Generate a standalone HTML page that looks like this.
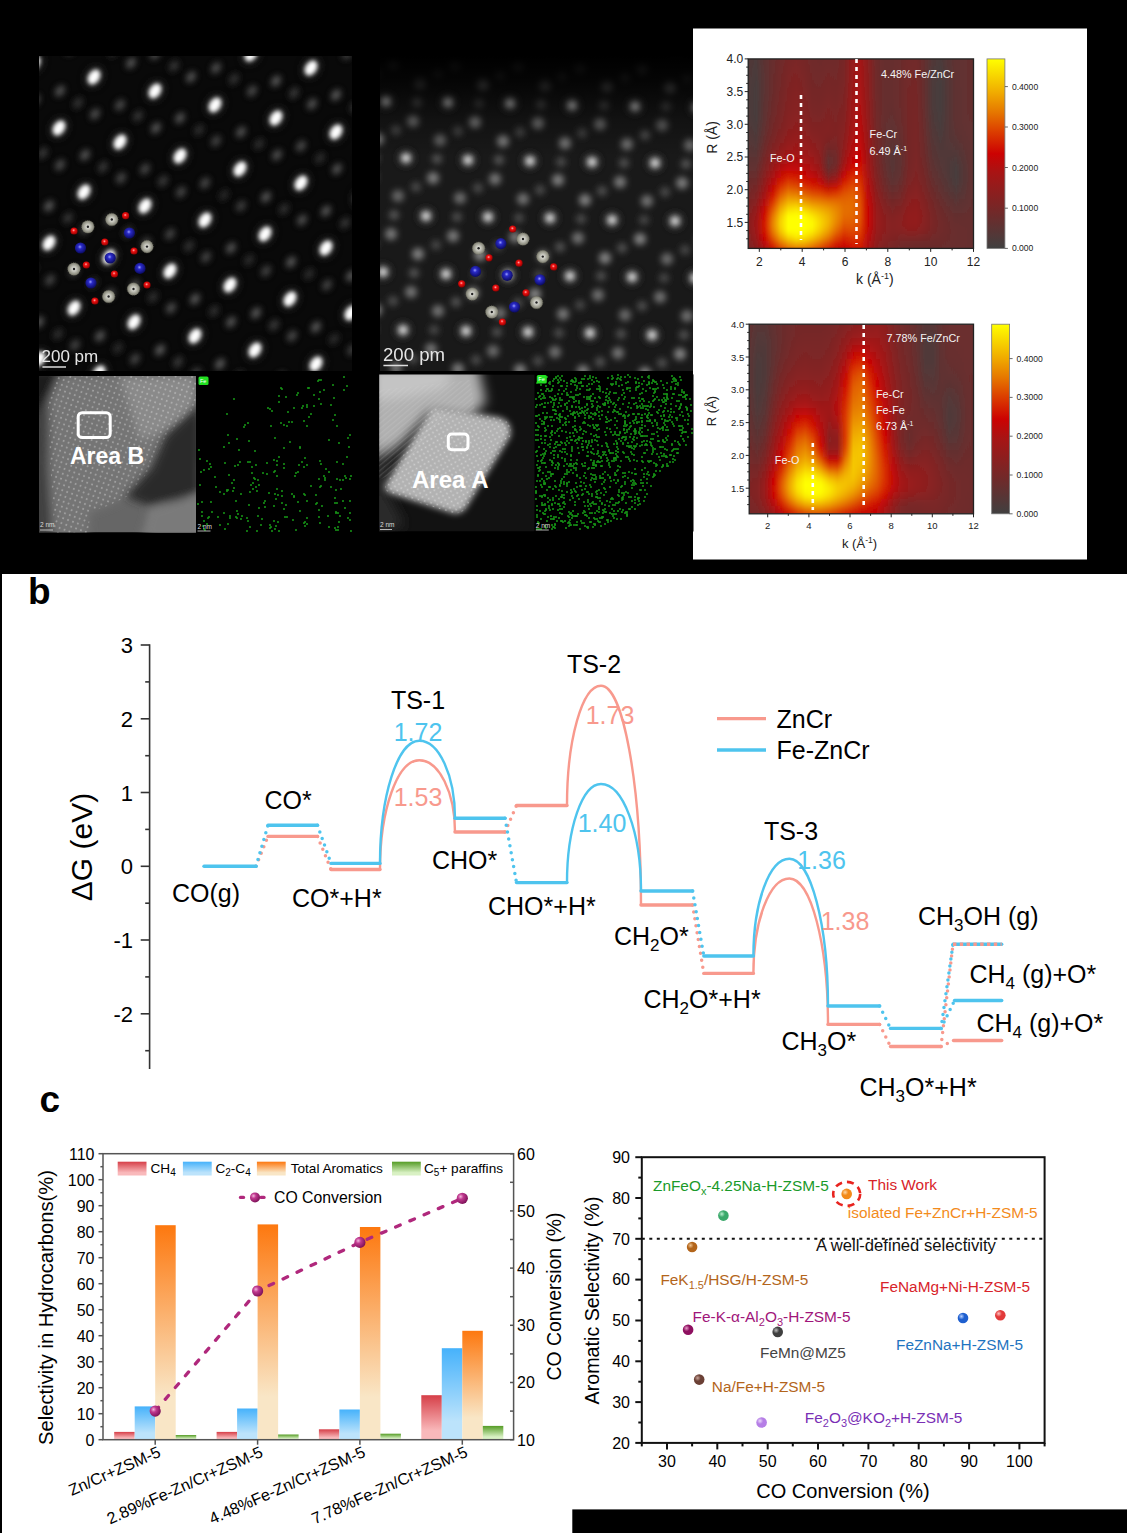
<!DOCTYPE html>
<html><head><meta charset="utf-8"><style>
html,body{margin:0;padding:0;background:#fff;overflow:hidden}
svg{display:block;font-family:'Liberation Sans', sans-serif}
</style></head><body>
<svg width="1127" height="1533" viewBox="0 0 1127 1533">
<rect x="0" y="0" width="1127" height="1533" fill="#fff"/>
<rect x="0" y="0" width="1127" height="574" fill="#000"/>
<rect x="0" y="0" width="2" height="1533" fill="#000"/>
<rect x="572.3" y="1509.4" width="555" height="24" fill="#000"/>
<rect x="693" y="28.5" width="394" height="531" fill="#fff"/>

<line x1="149.6" y1="644.2" x2="149.6" y2="1069" stroke="#333" stroke-width="1.6"/>
<line x1="140.7" y1="645.0" x2="149.6" y2="645.0" stroke="#333" stroke-width="1.6"/>
<text x="133.0" y="653.0" font-size="22" fill="#000" text-anchor="end" font-weight="normal" >3</text>
<line x1="140.7" y1="718.8" x2="149.6" y2="718.8" stroke="#333" stroke-width="1.6"/>
<text x="133.0" y="726.8" font-size="22" fill="#000" text-anchor="end" font-weight="normal" >2</text>
<line x1="140.7" y1="792.5" x2="149.6" y2="792.5" stroke="#333" stroke-width="1.6"/>
<text x="133.0" y="800.5" font-size="22" fill="#000" text-anchor="end" font-weight="normal" >1</text>
<line x1="140.7" y1="866.3" x2="149.6" y2="866.3" stroke="#333" stroke-width="1.6"/>
<text x="133.0" y="874.3" font-size="22" fill="#000" text-anchor="end" font-weight="normal" >0</text>
<line x1="140.7" y1="940.0" x2="149.6" y2="940.0" stroke="#333" stroke-width="1.6"/>
<text x="133.0" y="948.0" font-size="22" fill="#000" text-anchor="end" font-weight="normal" >-1</text>
<line x1="140.7" y1="1013.8" x2="149.6" y2="1013.8" stroke="#333" stroke-width="1.6"/>
<text x="133.0" y="1021.8" font-size="22" fill="#000" text-anchor="end" font-weight="normal" >-2</text>
<line x1="145.2" y1="681.9" x2="149.6" y2="681.9" stroke="#333" stroke-width="1.6"/>
<line x1="145.2" y1="755.7" x2="149.6" y2="755.7" stroke="#333" stroke-width="1.6"/>
<line x1="145.2" y1="829.4" x2="149.6" y2="829.4" stroke="#333" stroke-width="1.6"/>
<line x1="145.2" y1="903.2" x2="149.6" y2="903.2" stroke="#333" stroke-width="1.6"/>
<line x1="145.2" y1="976.9" x2="149.6" y2="976.9" stroke="#333" stroke-width="1.6"/>
<line x1="145.2" y1="1050.7" x2="149.6" y2="1050.7" stroke="#333" stroke-width="1.6"/>
<text x="0.0" y="0.0" font-size="30" fill="#000" text-anchor="middle" font-weight="normal" transform="translate(91.8 847) rotate(-90)">ΔG (eV)</text>
<text x="28.0" y="604.0" font-size="37" fill="#000" text-anchor="start" font-weight="bold" >b</text>
<defs><linearGradient id="g_ch4" x1="0" y1="0" x2="0" y2="1"><stop offset="0" stop-color="#d63f48"/><stop offset="0.8" stop-color="#f9b9bb"/><stop offset="1" stop-color="#f9b9bb"/></linearGradient><linearGradient id="g_c2" x1="0" y1="0" x2="0" y2="1"><stop offset="0" stop-color="#46b2fb"/><stop offset="0.8" stop-color="#bce3fb"/><stop offset="1" stop-color="#bce3fb"/></linearGradient><linearGradient id="g_ar" x1="0" y1="0" x2="0" y2="1"><stop offset="0" stop-color="#fd780f"/><stop offset="0.8" stop-color="#f9e6c6"/><stop offset="1" stop-color="#f9e6c6"/></linearGradient><linearGradient id="g_c5" x1="0" y1="0" x2="0" y2="1"><stop offset="0" stop-color="#559c25"/><stop offset="0.8" stop-color="#d9f1c4"/><stop offset="1" stop-color="#d9f1c4"/></linearGradient><radialGradient id="g_ball" cx="0.35" cy="0.35" r="0.7"><stop offset="0" stop-color="#f3b6dc"/><stop offset="0.35" stop-color="#c0398f"/><stop offset="1" stop-color="#7a0f55"/></radialGradient></defs>
<rect x="114.2" y="1431.9" width="20.5" height="7.8" fill="url(#g_ch4)"/>
<rect x="134.7" y="1406.4" width="20.5" height="33.3" fill="url(#g_c2)"/>
<rect x="155.2" y="1225.2" width="20.5" height="214.5" fill="url(#g_ar)"/>
<rect x="175.7" y="1435.0" width="20.5" height="4.7" fill="url(#g_c5)"/>
<rect x="216.6" y="1431.9" width="20.5" height="7.8" fill="url(#g_ch4)"/>
<rect x="237.1" y="1408.5" width="20.5" height="31.2" fill="url(#g_c2)"/>
<rect x="257.6" y="1224.4" width="20.5" height="215.3" fill="url(#g_ar)"/>
<rect x="278.1" y="1434.5" width="20.5" height="5.2" fill="url(#g_c5)"/>
<rect x="318.9" y="1429.3" width="20.5" height="10.4" fill="url(#g_ch4)"/>
<rect x="339.4" y="1409.5" width="20.5" height="30.2" fill="url(#g_c2)"/>
<rect x="359.9" y="1227.0" width="20.5" height="212.7" fill="url(#g_ar)"/>
<rect x="380.4" y="1433.7" width="20.5" height="6.0" fill="url(#g_c5)"/>
<rect x="421.3" y="1395.2" width="20.5" height="44.5" fill="url(#g_ch4)"/>
<rect x="441.8" y="1348.2" width="20.5" height="91.5" fill="url(#g_c2)"/>
<rect x="462.3" y="1330.8" width="20.5" height="108.9" fill="url(#g_ar)"/>
<rect x="482.8" y="1425.9" width="20.5" height="13.8" fill="url(#g_c5)"/>
<rect x="103.0" y="1153.7" width="410.6" height="286.0" stroke="#555" stroke-width="1.5" fill="none"/>
<line x1="98.5" y1="1439.7" x2="103.0" y2="1439.7" stroke="#555" stroke-width="1.5" fill="none"/>
<text x="94.5" y="1445.5" font-size="16" fill="#000" text-anchor="end" font-weight="normal" >0</text>
<line x1="100.4" y1="1426.7" x2="103.0" y2="1426.7" stroke="#555" stroke-width="1.5" fill="none"/>
<line x1="98.5" y1="1413.7" x2="103.0" y2="1413.7" stroke="#555" stroke-width="1.5" fill="none"/>
<text x="94.5" y="1419.5" font-size="16" fill="#000" text-anchor="end" font-weight="normal" >10</text>
<line x1="100.4" y1="1400.7" x2="103.0" y2="1400.7" stroke="#555" stroke-width="1.5" fill="none"/>
<line x1="98.5" y1="1387.7" x2="103.0" y2="1387.7" stroke="#555" stroke-width="1.5" fill="none"/>
<text x="94.5" y="1393.5" font-size="16" fill="#000" text-anchor="end" font-weight="normal" >20</text>
<line x1="100.4" y1="1374.7" x2="103.0" y2="1374.7" stroke="#555" stroke-width="1.5" fill="none"/>
<line x1="98.5" y1="1361.7" x2="103.0" y2="1361.7" stroke="#555" stroke-width="1.5" fill="none"/>
<text x="94.5" y="1367.5" font-size="16" fill="#000" text-anchor="end" font-weight="normal" >30</text>
<line x1="100.4" y1="1348.7" x2="103.0" y2="1348.7" stroke="#555" stroke-width="1.5" fill="none"/>
<line x1="98.5" y1="1335.7" x2="103.0" y2="1335.7" stroke="#555" stroke-width="1.5" fill="none"/>
<text x="94.5" y="1341.5" font-size="16" fill="#000" text-anchor="end" font-weight="normal" >40</text>
<line x1="100.4" y1="1322.7" x2="103.0" y2="1322.7" stroke="#555" stroke-width="1.5" fill="none"/>
<line x1="98.5" y1="1309.7" x2="103.0" y2="1309.7" stroke="#555" stroke-width="1.5" fill="none"/>
<text x="94.5" y="1315.5" font-size="16" fill="#000" text-anchor="end" font-weight="normal" >50</text>
<line x1="100.4" y1="1296.7" x2="103.0" y2="1296.7" stroke="#555" stroke-width="1.5" fill="none"/>
<line x1="98.5" y1="1283.7" x2="103.0" y2="1283.7" stroke="#555" stroke-width="1.5" fill="none"/>
<text x="94.5" y="1289.5" font-size="16" fill="#000" text-anchor="end" font-weight="normal" >60</text>
<line x1="100.4" y1="1270.7" x2="103.0" y2="1270.7" stroke="#555" stroke-width="1.5" fill="none"/>
<line x1="98.5" y1="1257.7" x2="103.0" y2="1257.7" stroke="#555" stroke-width="1.5" fill="none"/>
<text x="94.5" y="1263.5" font-size="16" fill="#000" text-anchor="end" font-weight="normal" >70</text>
<line x1="100.4" y1="1244.7" x2="103.0" y2="1244.7" stroke="#555" stroke-width="1.5" fill="none"/>
<line x1="98.5" y1="1231.7" x2="103.0" y2="1231.7" stroke="#555" stroke-width="1.5" fill="none"/>
<text x="94.5" y="1237.5" font-size="16" fill="#000" text-anchor="end" font-weight="normal" >80</text>
<line x1="100.4" y1="1218.7" x2="103.0" y2="1218.7" stroke="#555" stroke-width="1.5" fill="none"/>
<line x1="98.5" y1="1205.7" x2="103.0" y2="1205.7" stroke="#555" stroke-width="1.5" fill="none"/>
<text x="94.5" y="1211.5" font-size="16" fill="#000" text-anchor="end" font-weight="normal" >90</text>
<line x1="100.4" y1="1192.7" x2="103.0" y2="1192.7" stroke="#555" stroke-width="1.5" fill="none"/>
<line x1="98.5" y1="1179.7" x2="103.0" y2="1179.7" stroke="#555" stroke-width="1.5" fill="none"/>
<text x="94.5" y="1185.5" font-size="16" fill="#000" text-anchor="end" font-weight="normal" >100</text>
<line x1="100.4" y1="1166.7" x2="103.0" y2="1166.7" stroke="#555" stroke-width="1.5" fill="none"/>
<line x1="98.5" y1="1153.7" x2="103.0" y2="1153.7" stroke="#555" stroke-width="1.5" fill="none"/>
<text x="94.5" y="1159.5" font-size="16" fill="#000" text-anchor="end" font-weight="normal" >110</text>
<line x1="510.0" y1="1439.7" x2="513.6" y2="1439.7" stroke="#555" stroke-width="1.5" fill="none"/>
<text x="517.0" y="1445.5" font-size="16" fill="#000" text-anchor="start" font-weight="normal" >10</text>
<line x1="510.0" y1="1411.1" x2="513.6" y2="1411.1" stroke="#555" stroke-width="1.5" fill="none"/>
<line x1="510.0" y1="1382.5" x2="513.6" y2="1382.5" stroke="#555" stroke-width="1.5" fill="none"/>
<text x="517.0" y="1388.3" font-size="16" fill="#000" text-anchor="start" font-weight="normal" >20</text>
<line x1="510.0" y1="1353.9" x2="513.6" y2="1353.9" stroke="#555" stroke-width="1.5" fill="none"/>
<line x1="510.0" y1="1325.3" x2="513.6" y2="1325.3" stroke="#555" stroke-width="1.5" fill="none"/>
<text x="517.0" y="1331.1" font-size="16" fill="#000" text-anchor="start" font-weight="normal" >30</text>
<line x1="510.0" y1="1296.7" x2="513.6" y2="1296.7" stroke="#555" stroke-width="1.5" fill="none"/>
<line x1="510.0" y1="1268.1" x2="513.6" y2="1268.1" stroke="#555" stroke-width="1.5" fill="none"/>
<text x="517.0" y="1273.9" font-size="16" fill="#000" text-anchor="start" font-weight="normal" >40</text>
<line x1="510.0" y1="1239.5" x2="513.6" y2="1239.5" stroke="#555" stroke-width="1.5" fill="none"/>
<line x1="510.0" y1="1210.9" x2="513.6" y2="1210.9" stroke="#555" stroke-width="1.5" fill="none"/>
<text x="517.0" y="1216.7" font-size="16" fill="#000" text-anchor="start" font-weight="normal" >50</text>
<line x1="510.0" y1="1182.3" x2="513.6" y2="1182.3" stroke="#555" stroke-width="1.5" fill="none"/>
<line x1="510.0" y1="1153.7" x2="513.6" y2="1153.7" stroke="#555" stroke-width="1.5" fill="none"/>
<text x="517.0" y="1159.5" font-size="16" fill="#000" text-anchor="start" font-weight="normal" >60</text>
<line x1="155.2" y1="1439.7" x2="155.2" y2="1444.7" stroke="#555" stroke-width="1.5" fill="none"/>
<line x1="257.6" y1="1439.7" x2="257.6" y2="1444.7" stroke="#555" stroke-width="1.5" fill="none"/>
<line x1="359.9" y1="1439.7" x2="359.9" y2="1444.7" stroke="#555" stroke-width="1.5" fill="none"/>
<line x1="462.3" y1="1439.7" x2="462.3" y2="1444.7" stroke="#555" stroke-width="1.5" fill="none"/>
<path d="M155.2,1411.1 L257.6,1291.0 L359.9,1242.4 L462.3,1198.3" stroke="#b0287c" stroke-width="3.3" fill="none" stroke-dasharray="5 10.5" stroke-linecap="round"/>
<circle cx="155.2" cy="1411.1" r="5.6" fill="url(#g_ball)"/>
<circle cx="257.6" cy="1291.0" r="5.6" fill="url(#g_ball)"/>
<circle cx="359.9" cy="1242.4" r="5.6" fill="url(#g_ball)"/>
<circle cx="462.3" cy="1198.3" r="5.6" fill="url(#g_ball)"/>
<rect x="117.7" y="1161.7" width="28.8" height="13.8" fill="url(#g_ch4)"/>
<rect x="182.9" y="1161.7" width="28.8" height="13.8" fill="url(#g_c2)"/>
<rect x="256.9" y="1161.7" width="28.8" height="13.8" fill="url(#g_ar)"/>
<rect x="392" y="1161.7" width="28.8" height="13.8" fill="url(#g_c5)"/>
<text x="150.5" y="1172.8" font-size="13.6" fill="#000" text-anchor="start" font-weight="normal" >CH<tspan font-size="10" dy="3">4</tspan></text>
<text x="215.4" y="1172.8" font-size="13.6" fill="#000" text-anchor="start" font-weight="normal" >C<tspan font-size="10" dy="3">2</tspan><tspan dy="-3">-C</tspan><tspan font-size="10" dy="3">4</tspan></text>
<text x="290.7" y="1172.8" font-size="13.6" fill="#000" text-anchor="start" font-weight="normal" >Total Aromatics</text>
<text x="424.0" y="1172.8" font-size="13.6" fill="#000" text-anchor="start" font-weight="normal" >C<tspan font-size="10" dy="3">5</tspan><tspan dy="-3">+ paraffins</tspan></text>
<line x1="240.5" y1="1197.4" x2="243.5" y2="1197.4" stroke="#b0287c" stroke-width="3.3" stroke-linecap="round"/>
<line x1="261" y1="1197.4" x2="264" y2="1197.4" stroke="#b0287c" stroke-width="3.3" stroke-linecap="round"/>
<circle cx="255" cy="1197.4" r="5" fill="url(#g_ball)"/>
<text x="274.0" y="1202.5" font-size="15.8" fill="#000" text-anchor="start" font-weight="normal" >CO Conversion</text>
<text x="0.0" y="0.0" font-size="16.2" fill="#000" text-anchor="end" font-weight="normal" transform="translate(161.7 1456) rotate(-24)">Zn/Cr+ZSM-5</text>
<text x="0.0" y="0.0" font-size="16.2" fill="#000" text-anchor="end" font-weight="normal" transform="translate(264.1 1456) rotate(-24)">2.89%Fe-Zn/Cr+ZSM-5</text>
<text x="0.0" y="0.0" font-size="16.2" fill="#000" text-anchor="end" font-weight="normal" transform="translate(366.4 1456) rotate(-24)">4.48%Fe-Zn/Cr+ZSM-5</text>
<text x="0.0" y="0.0" font-size="16.2" fill="#000" text-anchor="end" font-weight="normal" transform="translate(468.8 1456) rotate(-24)">7.78%Fe-Zn/Cr+ZSM-5</text>
<text x="0.0" y="0.0" font-size="20.2" fill="#000" text-anchor="middle" font-weight="normal" transform="translate(53 1307.5) rotate(-90)">Selectivity in Hydrocarbons(%)</text>
<text x="0.0" y="0.0" font-size="19.4" fill="#000" text-anchor="middle" font-weight="normal" transform="translate(560.5 1296.5) rotate(-90)">CO Conversion (%)</text>
<text x="39.5" y="1112.0" font-size="37" fill="#000" text-anchor="start" font-weight="bold" >c</text>
<rect x="641.8" y="1157.2" width="402.79999999999995" height="285.70000000000005" stroke="#111" stroke-width="2" fill="none"/>
<line x1="635.3" y1="1442.9" x2="641.8" y2="1442.9" stroke="#111" stroke-width="2" fill="none"/>
<text x="630.0" y="1448.7" font-size="16" fill="#000" text-anchor="end" font-weight="normal" >20</text>
<line x1="638.3" y1="1422.5" x2="641.8" y2="1422.5" stroke="#111" stroke-width="2" fill="none"/>
<line x1="635.3" y1="1402.1" x2="641.8" y2="1402.1" stroke="#111" stroke-width="2" fill="none"/>
<text x="630.0" y="1407.9" font-size="16" fill="#000" text-anchor="end" font-weight="normal" >30</text>
<line x1="638.3" y1="1381.7" x2="641.8" y2="1381.7" stroke="#111" stroke-width="2" fill="none"/>
<line x1="635.3" y1="1361.3" x2="641.8" y2="1361.3" stroke="#111" stroke-width="2" fill="none"/>
<text x="630.0" y="1367.1" font-size="16" fill="#000" text-anchor="end" font-weight="normal" >40</text>
<line x1="638.3" y1="1340.9" x2="641.8" y2="1340.9" stroke="#111" stroke-width="2" fill="none"/>
<line x1="635.3" y1="1320.5" x2="641.8" y2="1320.5" stroke="#111" stroke-width="2" fill="none"/>
<text x="630.0" y="1326.3" font-size="16" fill="#000" text-anchor="end" font-weight="normal" >50</text>
<line x1="638.3" y1="1300.1" x2="641.8" y2="1300.1" stroke="#111" stroke-width="2" fill="none"/>
<line x1="635.3" y1="1279.6" x2="641.8" y2="1279.6" stroke="#111" stroke-width="2" fill="none"/>
<text x="630.0" y="1285.4" font-size="16" fill="#000" text-anchor="end" font-weight="normal" >60</text>
<line x1="638.3" y1="1259.2" x2="641.8" y2="1259.2" stroke="#111" stroke-width="2" fill="none"/>
<line x1="635.3" y1="1238.8" x2="641.8" y2="1238.8" stroke="#111" stroke-width="2" fill="none"/>
<text x="630.0" y="1244.6" font-size="16" fill="#000" text-anchor="end" font-weight="normal" >70</text>
<line x1="638.3" y1="1218.4" x2="641.8" y2="1218.4" stroke="#111" stroke-width="2" fill="none"/>
<line x1="635.3" y1="1198.0" x2="641.8" y2="1198.0" stroke="#111" stroke-width="2" fill="none"/>
<text x="630.0" y="1203.8" font-size="16" fill="#000" text-anchor="end" font-weight="normal" >80</text>
<line x1="638.3" y1="1177.6" x2="641.8" y2="1177.6" stroke="#111" stroke-width="2" fill="none"/>
<line x1="635.3" y1="1157.2" x2="641.8" y2="1157.2" stroke="#111" stroke-width="2" fill="none"/>
<text x="630.0" y="1163.0" font-size="16" fill="#000" text-anchor="end" font-weight="normal" >90</text>
<line x1="641.8" y1="1442.9" x2="641.8" y2="1446.4" stroke="#111" stroke-width="2" fill="none"/>
<line x1="667.0" y1="1442.9" x2="667.0" y2="1449.4" stroke="#111" stroke-width="2" fill="none"/>
<text x="667.0" y="1466.8" font-size="16" fill="#000" text-anchor="middle" font-weight="normal" >30</text>
<line x1="692.1" y1="1442.9" x2="692.1" y2="1446.4" stroke="#111" stroke-width="2" fill="none"/>
<line x1="717.3" y1="1442.9" x2="717.3" y2="1449.4" stroke="#111" stroke-width="2" fill="none"/>
<text x="717.3" y="1466.8" font-size="16" fill="#000" text-anchor="middle" font-weight="normal" >40</text>
<line x1="742.5" y1="1442.9" x2="742.5" y2="1446.4" stroke="#111" stroke-width="2" fill="none"/>
<line x1="767.7" y1="1442.9" x2="767.7" y2="1449.4" stroke="#111" stroke-width="2" fill="none"/>
<text x="767.7" y="1466.8" font-size="16" fill="#000" text-anchor="middle" font-weight="normal" >50</text>
<line x1="792.8" y1="1442.9" x2="792.8" y2="1446.4" stroke="#111" stroke-width="2" fill="none"/>
<line x1="818.0" y1="1442.9" x2="818.0" y2="1449.4" stroke="#111" stroke-width="2" fill="none"/>
<text x="818.0" y="1466.8" font-size="16" fill="#000" text-anchor="middle" font-weight="normal" >60</text>
<line x1="843.2" y1="1442.9" x2="843.2" y2="1446.4" stroke="#111" stroke-width="2" fill="none"/>
<line x1="868.4" y1="1442.9" x2="868.4" y2="1449.4" stroke="#111" stroke-width="2" fill="none"/>
<text x="868.4" y="1466.8" font-size="16" fill="#000" text-anchor="middle" font-weight="normal" >70</text>
<line x1="893.5" y1="1442.9" x2="893.5" y2="1446.4" stroke="#111" stroke-width="2" fill="none"/>
<line x1="918.7" y1="1442.9" x2="918.7" y2="1449.4" stroke="#111" stroke-width="2" fill="none"/>
<text x="918.7" y="1466.8" font-size="16" fill="#000" text-anchor="middle" font-weight="normal" >80</text>
<line x1="943.9" y1="1442.9" x2="943.9" y2="1446.4" stroke="#111" stroke-width="2" fill="none"/>
<line x1="969.1" y1="1442.9" x2="969.1" y2="1449.4" stroke="#111" stroke-width="2" fill="none"/>
<text x="969.1" y="1466.8" font-size="16" fill="#000" text-anchor="middle" font-weight="normal" >90</text>
<line x1="994.2" y1="1442.9" x2="994.2" y2="1446.4" stroke="#111" stroke-width="2" fill="none"/>
<line x1="1019.4" y1="1442.9" x2="1019.4" y2="1449.4" stroke="#111" stroke-width="2" fill="none"/>
<text x="1019.4" y="1466.8" font-size="16" fill="#000" text-anchor="middle" font-weight="normal" >100</text>
<line x1="1044.6" y1="1442.9" x2="1044.6" y2="1446.4" stroke="#111" stroke-width="2" fill="none"/>
<line x1="641.8" y1="1238.8" x2="1044.6" y2="1238.8" stroke="#111" stroke-width="2" stroke-dasharray="3 4.5"/>
<defs><radialGradient id="b0" cx="0.35" cy="0.35" r="0.75"><stop offset="0" stop-color="#b9f0cf"/><stop offset="0.4" stop-color="#3aa86a"/><stop offset="1" stop-color="#3aa86a"/></radialGradient><radialGradient id="b1" cx="0.35" cy="0.35" r="0.75"><stop offset="0" stop-color="#ffd9a8"/><stop offset="0.4" stop-color="#f28a1a"/><stop offset="1" stop-color="#f28a1a"/></radialGradient><radialGradient id="b2" cx="0.35" cy="0.35" r="0.75"><stop offset="0" stop-color="#f0c48f"/><stop offset="0.4" stop-color="#b3651b"/><stop offset="1" stop-color="#b3651b"/></radialGradient><radialGradient id="b3" cx="0.35" cy="0.35" r="0.75"><stop offset="0" stop-color="#bdbdbd"/><stop offset="0.4" stop-color="#404040"/><stop offset="1" stop-color="#404040"/></radialGradient><radialGradient id="b4" cx="0.35" cy="0.35" r="0.75"><stop offset="0" stop-color="#e89ac8"/><stop offset="0.4" stop-color="#8e1060"/><stop offset="1" stop-color="#8e1060"/></radialGradient><radialGradient id="b5" cx="0.35" cy="0.35" r="0.75"><stop offset="0" stop-color="#c9a59b"/><stop offset="0.4" stop-color="#6b4035"/><stop offset="1" stop-color="#6b4035"/></radialGradient><radialGradient id="b6" cx="0.35" cy="0.35" r="0.75"><stop offset="0" stop-color="#ecd9fb"/><stop offset="0.4" stop-color="#b57ee6"/><stop offset="1" stop-color="#b57ee6"/></radialGradient><radialGradient id="b7" cx="0.35" cy="0.35" r="0.75"><stop offset="0" stop-color="#b7d1ff"/><stop offset="0.4" stop-color="#1e5fcf"/><stop offset="1" stop-color="#1e5fcf"/></radialGradient><radialGradient id="b8" cx="0.35" cy="0.35" r="0.75"><stop offset="0" stop-color="#ffc0c0"/><stop offset="0.4" stop-color="#e23a3a"/><stop offset="1" stop-color="#e23a3a"/></radialGradient></defs>
<circle cx="723.4" cy="1215.6" r="5.3" fill="url(#b0)"/>
<circle cx="846.7" cy="1193.9" r="5.3" fill="url(#b1)"/>
<circle cx="692.1" cy="1247.0" r="5.3" fill="url(#b2)"/>
<circle cx="777.7" cy="1331.9" r="5.3" fill="url(#b3)"/>
<circle cx="688.1" cy="1329.8" r="5.3" fill="url(#b4)"/>
<circle cx="699.2" cy="1379.6" r="5.3" fill="url(#b5)"/>
<circle cx="761.6" cy="1422.5" r="5.3" fill="url(#b6)"/>
<circle cx="963.0" cy="1318.0" r="5.3" fill="url(#b7)"/>
<circle cx="1000.3" cy="1315.2" r="5.3" fill="url(#b8)"/>
<ellipse cx="846.7" cy="1193.9" rx="13.5" ry="12" stroke="#e8231f" stroke-width="2.6" fill="none" stroke-dasharray="7 5"/>
<text x="653.0" y="1191.3" font-size="15.4" fill="#1a9a2a" text-anchor="start" font-weight="normal" >ZnFeO<tspan font-size="11" dy="4">x</tspan><tspan dy="-4">-4.25Na-H-ZSM-5</tspan></text>
<text x="868.0" y="1190.0" font-size="15.4" fill="#d8232a" text-anchor="start" font-weight="normal" >This Work</text>
<text x="847.8" y="1218.0" font-size="15.4" fill="#f38b1c" text-anchor="start" font-weight="normal" >isolated Fe+ZnCr+H-ZSM-5</text>
<text x="816.0" y="1250.5" font-size="16.6" fill="#111" text-anchor="start" font-weight="normal" >A well-defined selectivity</text>
<text x="660.4" y="1285.3" font-size="15.4" fill="#b3651b" text-anchor="start" font-weight="normal" >FeK<tspan font-size="11" dy="4">1.5</tspan><tspan dy="-4">/HSG/H-ZSM-5</tspan></text>
<text x="880.0" y="1292.2" font-size="15.4" fill="#d8232a" text-anchor="start" font-weight="normal" >FeNaMg+Ni-H-ZSM-5</text>
<text x="692.6" y="1321.8" font-size="15.4" fill="#a0157a" text-anchor="start" font-weight="normal" >Fe-K-α-Al<tspan font-size="11" dy="4">2</tspan><tspan dy="-4">O</tspan><tspan font-size="11" dy="4">3</tspan><tspan dy="-4">-H-ZSM-5</tspan></text>
<text x="760.0" y="1357.9" font-size="15.4" fill="#444" text-anchor="start" font-weight="normal" >FeMn@MZ5</text>
<text x="896.0" y="1349.5" font-size="15.4" fill="#1f74c0" text-anchor="start" font-weight="normal" >FeZnNa+H-ZSM-5</text>
<text x="711.8" y="1391.5" font-size="15.4" fill="#b3651b" text-anchor="start" font-weight="normal" >Na/Fe+H-ZSM-5</text>
<text x="804.8" y="1423.0" font-size="15.4" fill="#7a2fb5" text-anchor="start" font-weight="normal" >Fe<tspan font-size="11" dy="4">2</tspan><tspan dy="-4">O</tspan><tspan font-size="11" dy="4">3</tspan><tspan dy="-4">@KO</tspan><tspan font-size="11" dy="4">2</tspan><tspan dy="-4">+H-ZSM-5</tspan></text>
<text x="0.0" y="0.0" font-size="19.7" fill="#000" text-anchor="middle" font-weight="normal" transform="translate(598.5 1300.5) rotate(-90)">Aromatic Selectivity (%)</text>
<text x="843.0" y="1498.0" font-size="20" fill="#000" text-anchor="middle" font-weight="normal" >CO Conversion (%)</text>
<filter id="hblur" x="-5%" y="-5%" width="110%" height="110%"><feGaussianBlur stdDeviation="0 3"/></filter>
<clipPath id="clip1"><rect x="748.2" y="58.9" width="225.3" height="189.5"/></clipPath>
<defs><linearGradient id="h1_0" gradientUnits="userSpaceOnUse" x1="732.2" y1="0" x2="996.2" y2="0"><stop offset="0.000" stop-color="#643030"/><stop offset="0.030" stop-color="#603131"/><stop offset="0.061" stop-color="#543737"/><stop offset="0.091" stop-color="#4f3939"/><stop offset="0.121" stop-color="#5c3333"/><stop offset="0.152" stop-color="#672e2e"/><stop offset="0.182" stop-color="#6d2b2b"/><stop offset="0.212" stop-color="#742828"/><stop offset="0.242" stop-color="#772727"/><stop offset="0.273" stop-color="#742828"/><stop offset="0.303" stop-color="#6e2b2b"/><stop offset="0.333" stop-color="#6c2c2c"/><stop offset="0.364" stop-color="#6d2b2b"/><stop offset="0.394" stop-color="#6d2b2b"/><stop offset="0.424" stop-color="#762727"/><stop offset="0.455" stop-color="#931c1c"/><stop offset="0.485" stop-color="#a11717"/><stop offset="0.515" stop-color="#882020"/><stop offset="0.545" stop-color="#6e2b2b"/><stop offset="0.576" stop-color="#652f2f"/><stop offset="0.606" stop-color="#652f2f"/><stop offset="0.636" stop-color="#692d2d"/><stop offset="0.667" stop-color="#6f2a2a"/><stop offset="0.697" stop-color="#702a2a"/><stop offset="0.727" stop-color="#652f2f"/><stop offset="0.758" stop-color="#543737"/><stop offset="0.788" stop-color="#4f3939"/><stop offset="0.818" stop-color="#583535"/><stop offset="0.848" stop-color="#613131"/><stop offset="0.879" stop-color="#643030"/><stop offset="0.909" stop-color="#642f2f"/><stop offset="0.939" stop-color="#642f2f"/><stop offset="0.970" stop-color="#642f2f"/><stop offset="1.000" stop-color="#642f2f"/></linearGradient><linearGradient id="h1_1" gradientUnits="userSpaceOnUse" x1="732.2" y1="0" x2="996.2" y2="0"><stop offset="0.000" stop-color="#643030"/><stop offset="0.030" stop-color="#603131"/><stop offset="0.061" stop-color="#523838"/><stop offset="0.091" stop-color="#4d3a3a"/><stop offset="0.121" stop-color="#5c3333"/><stop offset="0.152" stop-color="#672e2e"/><stop offset="0.182" stop-color="#6e2b2b"/><stop offset="0.212" stop-color="#762727"/><stop offset="0.242" stop-color="#792626"/><stop offset="0.273" stop-color="#752727"/><stop offset="0.303" stop-color="#6f2a2a"/><stop offset="0.333" stop-color="#6d2b2b"/><stop offset="0.364" stop-color="#6f2a2a"/><stop offset="0.394" stop-color="#6e2b2b"/><stop offset="0.424" stop-color="#772727"/><stop offset="0.455" stop-color="#941c1c"/><stop offset="0.485" stop-color="#a31616"/><stop offset="0.515" stop-color="#892020"/><stop offset="0.545" stop-color="#6e2b2b"/><stop offset="0.576" stop-color="#662f2f"/><stop offset="0.606" stop-color="#662f2f"/><stop offset="0.636" stop-color="#6a2d2d"/><stop offset="0.667" stop-color="#702a2a"/><stop offset="0.697" stop-color="#712929"/><stop offset="0.727" stop-color="#652f2f"/><stop offset="0.758" stop-color="#523838"/><stop offset="0.788" stop-color="#4d3a3a"/><stop offset="0.818" stop-color="#573535"/><stop offset="0.848" stop-color="#603131"/><stop offset="0.879" stop-color="#633030"/><stop offset="0.909" stop-color="#642f2f"/><stop offset="0.939" stop-color="#642f2f"/><stop offset="0.970" stop-color="#642f2f"/><stop offset="1.000" stop-color="#642f2f"/></linearGradient><linearGradient id="h1_2" gradientUnits="userSpaceOnUse" x1="732.2" y1="0" x2="996.2" y2="0"><stop offset="0.000" stop-color="#643030"/><stop offset="0.030" stop-color="#5f3131"/><stop offset="0.061" stop-color="#513838"/><stop offset="0.091" stop-color="#4c3a3a"/><stop offset="0.121" stop-color="#5b3333"/><stop offset="0.152" stop-color="#672e2e"/><stop offset="0.182" stop-color="#6f2a2a"/><stop offset="0.212" stop-color="#772727"/><stop offset="0.242" stop-color="#7b2525"/><stop offset="0.273" stop-color="#772727"/><stop offset="0.303" stop-color="#702a2a"/><stop offset="0.333" stop-color="#6e2b2b"/><stop offset="0.364" stop-color="#702a2a"/><stop offset="0.394" stop-color="#702a2a"/><stop offset="0.424" stop-color="#782626"/><stop offset="0.455" stop-color="#951b1b"/><stop offset="0.485" stop-color="#a41616"/><stop offset="0.515" stop-color="#8a2020"/><stop offset="0.545" stop-color="#6e2b2b"/><stop offset="0.576" stop-color="#662f2f"/><stop offset="0.606" stop-color="#662f2f"/><stop offset="0.636" stop-color="#6a2d2d"/><stop offset="0.667" stop-color="#712a2a"/><stop offset="0.697" stop-color="#722929"/><stop offset="0.727" stop-color="#652f2f"/><stop offset="0.758" stop-color="#513838"/><stop offset="0.788" stop-color="#4b3b3b"/><stop offset="0.818" stop-color="#563636"/><stop offset="0.848" stop-color="#603131"/><stop offset="0.879" stop-color="#633030"/><stop offset="0.909" stop-color="#642f2f"/><stop offset="0.939" stop-color="#642f2f"/><stop offset="0.970" stop-color="#642f2f"/><stop offset="1.000" stop-color="#642f2f"/></linearGradient><linearGradient id="h1_3" gradientUnits="userSpaceOnUse" x1="732.2" y1="0" x2="996.2" y2="0"><stop offset="0.000" stop-color="#642f2f"/><stop offset="0.030" stop-color="#5f3232"/><stop offset="0.061" stop-color="#503838"/><stop offset="0.091" stop-color="#4b3b3b"/><stop offset="0.121" stop-color="#5b3333"/><stop offset="0.152" stop-color="#682e2e"/><stop offset="0.182" stop-color="#702a2a"/><stop offset="0.212" stop-color="#792626"/><stop offset="0.242" stop-color="#7d2525"/><stop offset="0.273" stop-color="#782626"/><stop offset="0.303" stop-color="#712929"/><stop offset="0.333" stop-color="#6f2a2a"/><stop offset="0.364" stop-color="#722929"/><stop offset="0.394" stop-color="#712929"/><stop offset="0.424" stop-color="#792626"/><stop offset="0.455" stop-color="#961b1b"/><stop offset="0.485" stop-color="#a51515"/><stop offset="0.515" stop-color="#8b1f1f"/><stop offset="0.545" stop-color="#6f2a2a"/><stop offset="0.576" stop-color="#662f2f"/><stop offset="0.606" stop-color="#662f2f"/><stop offset="0.636" stop-color="#6a2d2d"/><stop offset="0.667" stop-color="#712929"/><stop offset="0.697" stop-color="#732929"/><stop offset="0.727" stop-color="#652f2f"/><stop offset="0.758" stop-color="#4f3939"/><stop offset="0.788" stop-color="#493c3c"/><stop offset="0.818" stop-color="#553636"/><stop offset="0.848" stop-color="#603131"/><stop offset="0.879" stop-color="#633030"/><stop offset="0.909" stop-color="#642f2f"/><stop offset="0.939" stop-color="#642f2f"/><stop offset="0.970" stop-color="#642f2f"/><stop offset="1.000" stop-color="#642f2f"/></linearGradient><linearGradient id="h1_4" gradientUnits="userSpaceOnUse" x1="732.2" y1="0" x2="996.2" y2="0"><stop offset="0.000" stop-color="#642f2f"/><stop offset="0.030" stop-color="#5f3232"/><stop offset="0.061" stop-color="#4f3939"/><stop offset="0.091" stop-color="#4a3b3b"/><stop offset="0.121" stop-color="#5b3434"/><stop offset="0.152" stop-color="#682d2d"/><stop offset="0.182" stop-color="#712929"/><stop offset="0.212" stop-color="#7b2525"/><stop offset="0.242" stop-color="#7f2424"/><stop offset="0.273" stop-color="#7a2626"/><stop offset="0.303" stop-color="#722929"/><stop offset="0.333" stop-color="#712a2a"/><stop offset="0.364" stop-color="#742828"/><stop offset="0.394" stop-color="#732929"/><stop offset="0.424" stop-color="#7a2626"/><stop offset="0.455" stop-color="#981a1a"/><stop offset="0.485" stop-color="#a61515"/><stop offset="0.515" stop-color="#8c1f1f"/><stop offset="0.545" stop-color="#6f2a2a"/><stop offset="0.576" stop-color="#662e2e"/><stop offset="0.606" stop-color="#662f2f"/><stop offset="0.636" stop-color="#6b2c2c"/><stop offset="0.667" stop-color="#722929"/><stop offset="0.697" stop-color="#732828"/><stop offset="0.727" stop-color="#652f2f"/><stop offset="0.758" stop-color="#4e3939"/><stop offset="0.788" stop-color="#483c3c"/><stop offset="0.818" stop-color="#543737"/><stop offset="0.848" stop-color="#603131"/><stop offset="0.879" stop-color="#633030"/><stop offset="0.909" stop-color="#642f2f"/><stop offset="0.939" stop-color="#642f2f"/><stop offset="0.970" stop-color="#642f2f"/><stop offset="1.000" stop-color="#642f2f"/></linearGradient><linearGradient id="h1_5" gradientUnits="userSpaceOnUse" x1="732.2" y1="0" x2="996.2" y2="0"><stop offset="0.000" stop-color="#642f2f"/><stop offset="0.030" stop-color="#5f3232"/><stop offset="0.061" stop-color="#4f3939"/><stop offset="0.091" stop-color="#493c3c"/><stop offset="0.121" stop-color="#5b3434"/><stop offset="0.152" stop-color="#692d2d"/><stop offset="0.182" stop-color="#722929"/><stop offset="0.212" stop-color="#7c2525"/><stop offset="0.242" stop-color="#802323"/><stop offset="0.273" stop-color="#7b2525"/><stop offset="0.303" stop-color="#732828"/><stop offset="0.333" stop-color="#722929"/><stop offset="0.364" stop-color="#762727"/><stop offset="0.394" stop-color="#742828"/><stop offset="0.424" stop-color="#7b2525"/><stop offset="0.455" stop-color="#991a1a"/><stop offset="0.485" stop-color="#a81414"/><stop offset="0.515" stop-color="#8d1f1f"/><stop offset="0.545" stop-color="#702a2a"/><stop offset="0.576" stop-color="#662e2e"/><stop offset="0.606" stop-color="#662f2f"/><stop offset="0.636" stop-color="#6b2c2c"/><stop offset="0.667" stop-color="#732929"/><stop offset="0.697" stop-color="#742828"/><stop offset="0.727" stop-color="#652f2f"/><stop offset="0.758" stop-color="#4e3a3a"/><stop offset="0.788" stop-color="#473d3d"/><stop offset="0.818" stop-color="#543737"/><stop offset="0.848" stop-color="#5f3131"/><stop offset="0.879" stop-color="#633030"/><stop offset="0.909" stop-color="#642f2f"/><stop offset="0.939" stop-color="#642f2f"/><stop offset="0.970" stop-color="#642f2f"/><stop offset="1.000" stop-color="#642f2f"/></linearGradient><linearGradient id="h1_6" gradientUnits="userSpaceOnUse" x1="732.2" y1="0" x2="996.2" y2="0"><stop offset="0.000" stop-color="#642f2f"/><stop offset="0.030" stop-color="#5f3232"/><stop offset="0.061" stop-color="#4e3939"/><stop offset="0.091" stop-color="#483c3c"/><stop offset="0.121" stop-color="#5b3434"/><stop offset="0.152" stop-color="#692d2d"/><stop offset="0.182" stop-color="#732828"/><stop offset="0.212" stop-color="#7d2424"/><stop offset="0.242" stop-color="#822323"/><stop offset="0.273" stop-color="#7d2525"/><stop offset="0.303" stop-color="#752828"/><stop offset="0.333" stop-color="#742828"/><stop offset="0.364" stop-color="#772727"/><stop offset="0.394" stop-color="#762727"/><stop offset="0.424" stop-color="#7c2525"/><stop offset="0.455" stop-color="#9a1919"/><stop offset="0.485" stop-color="#aa1313"/><stop offset="0.515" stop-color="#8e1e1e"/><stop offset="0.545" stop-color="#702a2a"/><stop offset="0.576" stop-color="#662e2e"/><stop offset="0.606" stop-color="#662f2f"/><stop offset="0.636" stop-color="#6b2c2c"/><stop offset="0.667" stop-color="#732828"/><stop offset="0.697" stop-color="#752828"/><stop offset="0.727" stop-color="#652f2f"/><stop offset="0.758" stop-color="#4d3a3a"/><stop offset="0.788" stop-color="#463d3d"/><stop offset="0.818" stop-color="#533737"/><stop offset="0.848" stop-color="#5f3232"/><stop offset="0.879" stop-color="#633030"/><stop offset="0.909" stop-color="#642f2f"/><stop offset="0.939" stop-color="#642f2f"/><stop offset="0.970" stop-color="#642f2f"/><stop offset="1.000" stop-color="#642f2f"/></linearGradient><linearGradient id="h1_7" gradientUnits="userSpaceOnUse" x1="732.2" y1="0" x2="996.2" y2="0"><stop offset="0.000" stop-color="#642f2f"/><stop offset="0.030" stop-color="#5f3232"/><stop offset="0.061" stop-color="#4e3a3a"/><stop offset="0.091" stop-color="#483c3c"/><stop offset="0.121" stop-color="#5b3333"/><stop offset="0.152" stop-color="#6a2c2c"/><stop offset="0.182" stop-color="#752828"/><stop offset="0.212" stop-color="#7f2424"/><stop offset="0.242" stop-color="#842222"/><stop offset="0.273" stop-color="#7f2424"/><stop offset="0.303" stop-color="#762727"/><stop offset="0.333" stop-color="#752828"/><stop offset="0.364" stop-color="#792626"/><stop offset="0.394" stop-color="#772727"/><stop offset="0.424" stop-color="#7e2424"/><stop offset="0.455" stop-color="#9c1919"/><stop offset="0.485" stop-color="#ac1212"/><stop offset="0.515" stop-color="#8f1e1e"/><stop offset="0.545" stop-color="#712a2a"/><stop offset="0.576" stop-color="#662e2e"/><stop offset="0.606" stop-color="#662f2f"/><stop offset="0.636" stop-color="#6b2c2c"/><stop offset="0.667" stop-color="#742828"/><stop offset="0.697" stop-color="#762727"/><stop offset="0.727" stop-color="#662f2f"/><stop offset="0.758" stop-color="#4d3a3a"/><stop offset="0.788" stop-color="#463d3d"/><stop offset="0.818" stop-color="#533737"/><stop offset="0.848" stop-color="#5f3232"/><stop offset="0.879" stop-color="#633030"/><stop offset="0.909" stop-color="#642f2f"/><stop offset="0.939" stop-color="#642f2f"/><stop offset="0.970" stop-color="#642f2f"/><stop offset="1.000" stop-color="#642f2f"/></linearGradient><linearGradient id="h1_8" gradientUnits="userSpaceOnUse" x1="732.2" y1="0" x2="996.2" y2="0"><stop offset="0.000" stop-color="#652f2f"/><stop offset="0.030" stop-color="#603131"/><stop offset="0.061" stop-color="#4e3a3a"/><stop offset="0.091" stop-color="#483c3c"/><stop offset="0.121" stop-color="#5c3333"/><stop offset="0.152" stop-color="#6b2c2c"/><stop offset="0.182" stop-color="#762727"/><stop offset="0.212" stop-color="#812323"/><stop offset="0.242" stop-color="#852121"/><stop offset="0.273" stop-color="#802323"/><stop offset="0.303" stop-color="#782626"/><stop offset="0.333" stop-color="#772727"/><stop offset="0.364" stop-color="#7b2525"/><stop offset="0.394" stop-color="#792626"/><stop offset="0.424" stop-color="#7f2424"/><stop offset="0.455" stop-color="#9d1818"/><stop offset="0.485" stop-color="#ae1111"/><stop offset="0.515" stop-color="#901d1d"/><stop offset="0.545" stop-color="#712929"/><stop offset="0.576" stop-color="#662e2e"/><stop offset="0.606" stop-color="#652f2f"/><stop offset="0.636" stop-color="#6b2c2c"/><stop offset="0.667" stop-color="#742828"/><stop offset="0.697" stop-color="#762727"/><stop offset="0.727" stop-color="#662e2e"/><stop offset="0.758" stop-color="#4e3a3a"/><stop offset="0.788" stop-color="#463d3d"/><stop offset="0.818" stop-color="#533737"/><stop offset="0.848" stop-color="#5f3232"/><stop offset="0.879" stop-color="#633030"/><stop offset="0.909" stop-color="#642f2f"/><stop offset="0.939" stop-color="#642f2f"/><stop offset="0.970" stop-color="#642f2f"/><stop offset="1.000" stop-color="#642f2f"/></linearGradient><linearGradient id="h1_9" gradientUnits="userSpaceOnUse" x1="732.2" y1="0" x2="996.2" y2="0"><stop offset="0.000" stop-color="#652f2f"/><stop offset="0.030" stop-color="#603131"/><stop offset="0.061" stop-color="#4e3939"/><stop offset="0.091" stop-color="#483c3c"/><stop offset="0.121" stop-color="#5d3333"/><stop offset="0.152" stop-color="#6d2b2b"/><stop offset="0.182" stop-color="#782727"/><stop offset="0.212" stop-color="#822222"/><stop offset="0.242" stop-color="#872121"/><stop offset="0.273" stop-color="#832222"/><stop offset="0.303" stop-color="#7a2626"/><stop offset="0.333" stop-color="#792626"/><stop offset="0.364" stop-color="#7d2424"/><stop offset="0.394" stop-color="#7b2525"/><stop offset="0.424" stop-color="#812323"/><stop offset="0.455" stop-color="#9f1717"/><stop offset="0.485" stop-color="#b01010"/><stop offset="0.515" stop-color="#911d1d"/><stop offset="0.545" stop-color="#722929"/><stop offset="0.576" stop-color="#662e2e"/><stop offset="0.606" stop-color="#642f2f"/><stop offset="0.636" stop-color="#6a2d2d"/><stop offset="0.667" stop-color="#742828"/><stop offset="0.697" stop-color="#772727"/><stop offset="0.727" stop-color="#672e2e"/><stop offset="0.758" stop-color="#4e3939"/><stop offset="0.788" stop-color="#473d3d"/><stop offset="0.818" stop-color="#533737"/><stop offset="0.848" stop-color="#5f3232"/><stop offset="0.879" stop-color="#633030"/><stop offset="0.909" stop-color="#642f2f"/><stop offset="0.939" stop-color="#642f2f"/><stop offset="0.970" stop-color="#642f2f"/><stop offset="1.000" stop-color="#642f2f"/></linearGradient><linearGradient id="h1_10" gradientUnits="userSpaceOnUse" x1="732.2" y1="0" x2="996.2" y2="0"><stop offset="0.000" stop-color="#652f2f"/><stop offset="0.030" stop-color="#613131"/><stop offset="0.061" stop-color="#4f3939"/><stop offset="0.091" stop-color="#493c3c"/><stop offset="0.121" stop-color="#5e3232"/><stop offset="0.152" stop-color="#6f2a2a"/><stop offset="0.182" stop-color="#7a2626"/><stop offset="0.212" stop-color="#852222"/><stop offset="0.242" stop-color="#8a2020"/><stop offset="0.273" stop-color="#852121"/><stop offset="0.303" stop-color="#7d2525"/><stop offset="0.333" stop-color="#7c2525"/><stop offset="0.364" stop-color="#7f2424"/><stop offset="0.394" stop-color="#7d2525"/><stop offset="0.424" stop-color="#832222"/><stop offset="0.455" stop-color="#a11717"/><stop offset="0.485" stop-color="#b30f0f"/><stop offset="0.515" stop-color="#921c1c"/><stop offset="0.545" stop-color="#732929"/><stop offset="0.576" stop-color="#662f2f"/><stop offset="0.606" stop-color="#633030"/><stop offset="0.636" stop-color="#692d2d"/><stop offset="0.667" stop-color="#742828"/><stop offset="0.697" stop-color="#772727"/><stop offset="0.727" stop-color="#682e2e"/><stop offset="0.758" stop-color="#4f3939"/><stop offset="0.788" stop-color="#483c3c"/><stop offset="0.818" stop-color="#543737"/><stop offset="0.848" stop-color="#5f3232"/><stop offset="0.879" stop-color="#633030"/><stop offset="0.909" stop-color="#642f2f"/><stop offset="0.939" stop-color="#642f2f"/><stop offset="0.970" stop-color="#642f2f"/><stop offset="1.000" stop-color="#642f2f"/></linearGradient><linearGradient id="h1_11" gradientUnits="userSpaceOnUse" x1="732.2" y1="0" x2="996.2" y2="0"><stop offset="0.000" stop-color="#662e2e"/><stop offset="0.030" stop-color="#613131"/><stop offset="0.061" stop-color="#503939"/><stop offset="0.091" stop-color="#4b3b3b"/><stop offset="0.121" stop-color="#603131"/><stop offset="0.152" stop-color="#712929"/><stop offset="0.182" stop-color="#7c2525"/><stop offset="0.212" stop-color="#872121"/><stop offset="0.242" stop-color="#8d1f1f"/><stop offset="0.273" stop-color="#882020"/><stop offset="0.303" stop-color="#802323"/><stop offset="0.333" stop-color="#7f2424"/><stop offset="0.364" stop-color="#812323"/><stop offset="0.394" stop-color="#7e2424"/><stop offset="0.424" stop-color="#852121"/><stop offset="0.455" stop-color="#a31616"/><stop offset="0.485" stop-color="#b60d0d"/><stop offset="0.515" stop-color="#941c1c"/><stop offset="0.545" stop-color="#732828"/><stop offset="0.576" stop-color="#652f2f"/><stop offset="0.606" stop-color="#613131"/><stop offset="0.636" stop-color="#682e2e"/><stop offset="0.667" stop-color="#742828"/><stop offset="0.697" stop-color="#782626"/><stop offset="0.727" stop-color="#692d2d"/><stop offset="0.758" stop-color="#513838"/><stop offset="0.788" stop-color="#493c3c"/><stop offset="0.818" stop-color="#543737"/><stop offset="0.848" stop-color="#5e3232"/><stop offset="0.879" stop-color="#623030"/><stop offset="0.909" stop-color="#643030"/><stop offset="0.939" stop-color="#642f2f"/><stop offset="0.970" stop-color="#642f2f"/><stop offset="1.000" stop-color="#642f2f"/></linearGradient><linearGradient id="h1_12" gradientUnits="userSpaceOnUse" x1="732.2" y1="0" x2="996.2" y2="0"><stop offset="0.000" stop-color="#672e2e"/><stop offset="0.030" stop-color="#633030"/><stop offset="0.061" stop-color="#523838"/><stop offset="0.091" stop-color="#4d3a3a"/><stop offset="0.121" stop-color="#633030"/><stop offset="0.152" stop-color="#742828"/><stop offset="0.182" stop-color="#802323"/><stop offset="0.212" stop-color="#8b1f1f"/><stop offset="0.242" stop-color="#901d1d"/><stop offset="0.273" stop-color="#8c1f1f"/><stop offset="0.303" stop-color="#842222"/><stop offset="0.333" stop-color="#812323"/><stop offset="0.364" stop-color="#812323"/><stop offset="0.394" stop-color="#7f2424"/><stop offset="0.424" stop-color="#882020"/><stop offset="0.455" stop-color="#a61515"/><stop offset="0.485" stop-color="#b90b0b"/><stop offset="0.515" stop-color="#961b1b"/><stop offset="0.545" stop-color="#742828"/><stop offset="0.576" stop-color="#652f2f"/><stop offset="0.606" stop-color="#5f3232"/><stop offset="0.636" stop-color="#662f2f"/><stop offset="0.667" stop-color="#742828"/><stop offset="0.697" stop-color="#782626"/><stop offset="0.727" stop-color="#6a2d2d"/><stop offset="0.758" stop-color="#533737"/><stop offset="0.788" stop-color="#4b3b3b"/><stop offset="0.818" stop-color="#543737"/><stop offset="0.848" stop-color="#5c3333"/><stop offset="0.879" stop-color="#613131"/><stop offset="0.909" stop-color="#643030"/><stop offset="0.939" stop-color="#642f2f"/><stop offset="0.970" stop-color="#642f2f"/><stop offset="1.000" stop-color="#642f2f"/></linearGradient><linearGradient id="h1_13" gradientUnits="userSpaceOnUse" x1="732.2" y1="0" x2="996.2" y2="0"><stop offset="0.000" stop-color="#682e2e"/><stop offset="0.030" stop-color="#642f2f"/><stop offset="0.061" stop-color="#543737"/><stop offset="0.091" stop-color="#503939"/><stop offset="0.121" stop-color="#662e2e"/><stop offset="0.152" stop-color="#782626"/><stop offset="0.182" stop-color="#852222"/><stop offset="0.212" stop-color="#901d1d"/><stop offset="0.242" stop-color="#951b1b"/><stop offset="0.273" stop-color="#911d1d"/><stop offset="0.303" stop-color="#892020"/><stop offset="0.333" stop-color="#842222"/><stop offset="0.364" stop-color="#7d2424"/><stop offset="0.394" stop-color="#7d2525"/><stop offset="0.424" stop-color="#8b1f1f"/><stop offset="0.455" stop-color="#aa1313"/><stop offset="0.485" stop-color="#bd0a0a"/><stop offset="0.515" stop-color="#981a1a"/><stop offset="0.545" stop-color="#752727"/><stop offset="0.576" stop-color="#642f2f"/><stop offset="0.606" stop-color="#5d3333"/><stop offset="0.636" stop-color="#642f2f"/><stop offset="0.667" stop-color="#742828"/><stop offset="0.697" stop-color="#792626"/><stop offset="0.727" stop-color="#6b2c2c"/><stop offset="0.758" stop-color="#553636"/><stop offset="0.788" stop-color="#4d3a3a"/><stop offset="0.818" stop-color="#533737"/><stop offset="0.848" stop-color="#593434"/><stop offset="0.879" stop-color="#5f3232"/><stop offset="0.909" stop-color="#633030"/><stop offset="0.939" stop-color="#642f2f"/><stop offset="0.970" stop-color="#642f2f"/><stop offset="1.000" stop-color="#642f2f"/></linearGradient><linearGradient id="h1_14" gradientUnits="userSpaceOnUse" x1="732.2" y1="0" x2="996.2" y2="0"><stop offset="0.000" stop-color="#692d2d"/><stop offset="0.030" stop-color="#662f2f"/><stop offset="0.061" stop-color="#573636"/><stop offset="0.091" stop-color="#533737"/><stop offset="0.121" stop-color="#6b2c2c"/><stop offset="0.152" stop-color="#7e2424"/><stop offset="0.182" stop-color="#8b1f1f"/><stop offset="0.212" stop-color="#971b1b"/><stop offset="0.242" stop-color="#9b1919"/><stop offset="0.273" stop-color="#971b1b"/><stop offset="0.303" stop-color="#8f1e1e"/><stop offset="0.333" stop-color="#872121"/><stop offset="0.364" stop-color="#762727"/><stop offset="0.394" stop-color="#782626"/><stop offset="0.424" stop-color="#8f1e1e"/><stop offset="0.455" stop-color="#b11010"/><stop offset="0.485" stop-color="#c20707"/><stop offset="0.515" stop-color="#9a1919"/><stop offset="0.545" stop-color="#772727"/><stop offset="0.576" stop-color="#642f2f"/><stop offset="0.606" stop-color="#5a3434"/><stop offset="0.636" stop-color="#623030"/><stop offset="0.667" stop-color="#732828"/><stop offset="0.697" stop-color="#792626"/><stop offset="0.727" stop-color="#6c2c2c"/><stop offset="0.758" stop-color="#573535"/><stop offset="0.788" stop-color="#4f3939"/><stop offset="0.818" stop-color="#523838"/><stop offset="0.848" stop-color="#553636"/><stop offset="0.879" stop-color="#5d3333"/><stop offset="0.909" stop-color="#633030"/><stop offset="0.939" stop-color="#642f2f"/><stop offset="0.970" stop-color="#642f2f"/><stop offset="1.000" stop-color="#642f2f"/></linearGradient><linearGradient id="h1_15" gradientUnits="userSpaceOnUse" x1="732.2" y1="0" x2="996.2" y2="0"><stop offset="0.000" stop-color="#6a2d2d"/><stop offset="0.030" stop-color="#682e2e"/><stop offset="0.061" stop-color="#5a3434"/><stop offset="0.091" stop-color="#583535"/><stop offset="0.121" stop-color="#702a2a"/><stop offset="0.152" stop-color="#852222"/><stop offset="0.182" stop-color="#941c1c"/><stop offset="0.212" stop-color="#9f1717"/><stop offset="0.242" stop-color="#a31616"/><stop offset="0.273" stop-color="#9e1818"/><stop offset="0.303" stop-color="#961b1b"/><stop offset="0.333" stop-color="#8a2020"/><stop offset="0.364" stop-color="#6b2c2c"/><stop offset="0.394" stop-color="#722929"/><stop offset="0.424" stop-color="#941c1c"/><stop offset="0.455" stop-color="#b90c0c"/><stop offset="0.485" stop-color="#c70404"/><stop offset="0.515" stop-color="#9d1818"/><stop offset="0.545" stop-color="#782626"/><stop offset="0.576" stop-color="#642f2f"/><stop offset="0.606" stop-color="#583535"/><stop offset="0.636" stop-color="#603131"/><stop offset="0.667" stop-color="#732828"/><stop offset="0.697" stop-color="#7a2626"/><stop offset="0.727" stop-color="#6d2b2b"/><stop offset="0.758" stop-color="#593434"/><stop offset="0.788" stop-color="#513838"/><stop offset="0.818" stop-color="#513838"/><stop offset="0.848" stop-color="#513838"/><stop offset="0.879" stop-color="#5a3434"/><stop offset="0.909" stop-color="#623030"/><stop offset="0.939" stop-color="#642f2f"/><stop offset="0.970" stop-color="#642f2f"/><stop offset="1.000" stop-color="#642f2f"/></linearGradient><linearGradient id="h1_16" gradientUnits="userSpaceOnUse" x1="732.2" y1="0" x2="996.2" y2="0"><stop offset="0.000" stop-color="#6b2c2c"/><stop offset="0.030" stop-color="#6a2d2d"/><stop offset="0.061" stop-color="#5d3232"/><stop offset="0.091" stop-color="#5d3333"/><stop offset="0.121" stop-color="#762727"/><stop offset="0.152" stop-color="#8d1e1e"/><stop offset="0.182" stop-color="#9f1818"/><stop offset="0.212" stop-color="#ac1212"/><stop offset="0.242" stop-color="#af1010"/><stop offset="0.273" stop-color="#a71414"/><stop offset="0.303" stop-color="#9f1818"/><stop offset="0.333" stop-color="#8e1e1e"/><stop offset="0.364" stop-color="#643030"/><stop offset="0.394" stop-color="#6f2b2b"/><stop offset="0.424" stop-color="#9c1818"/><stop offset="0.455" stop-color="#c40606"/><stop offset="0.485" stop-color="#cd0502"/><stop offset="0.515" stop-color="#a01717"/><stop offset="0.545" stop-color="#7b2525"/><stop offset="0.576" stop-color="#642f2f"/><stop offset="0.606" stop-color="#573535"/><stop offset="0.636" stop-color="#5f3232"/><stop offset="0.667" stop-color="#742828"/><stop offset="0.697" stop-color="#7b2525"/><stop offset="0.727" stop-color="#6f2a2a"/><stop offset="0.758" stop-color="#5c3333"/><stop offset="0.788" stop-color="#533737"/><stop offset="0.818" stop-color="#503939"/><stop offset="0.848" stop-color="#4d3a3a"/><stop offset="0.879" stop-color="#583535"/><stop offset="0.909" stop-color="#623030"/><stop offset="0.939" stop-color="#642f2f"/><stop offset="0.970" stop-color="#642f2f"/><stop offset="1.000" stop-color="#642f2f"/></linearGradient><linearGradient id="h1_17" gradientUnits="userSpaceOnUse" x1="732.2" y1="0" x2="996.2" y2="0"><stop offset="0.000" stop-color="#6d2b2b"/><stop offset="0.030" stop-color="#6c2c2c"/><stop offset="0.061" stop-color="#613131"/><stop offset="0.091" stop-color="#623030"/><stop offset="0.121" stop-color="#7d2525"/><stop offset="0.152" stop-color="#971b1b"/><stop offset="0.182" stop-color="#ad1111"/><stop offset="0.212" stop-color="#c00808"/><stop offset="0.242" stop-color="#c00808"/><stop offset="0.273" stop-color="#b50e0e"/><stop offset="0.303" stop-color="#a91313"/><stop offset="0.333" stop-color="#971a1a"/><stop offset="0.364" stop-color="#662e2e"/><stop offset="0.394" stop-color="#752828"/><stop offset="0.424" stop-color="#a91313"/><stop offset="0.455" stop-color="#ce0a02"/><stop offset="0.485" stop-color="#d01102"/><stop offset="0.515" stop-color="#a41616"/><stop offset="0.545" stop-color="#7d2424"/><stop offset="0.576" stop-color="#662e2e"/><stop offset="0.606" stop-color="#573535"/><stop offset="0.636" stop-color="#603131"/><stop offset="0.667" stop-color="#752828"/><stop offset="0.697" stop-color="#7c2525"/><stop offset="0.727" stop-color="#712929"/><stop offset="0.758" stop-color="#5f3232"/><stop offset="0.788" stop-color="#563636"/><stop offset="0.818" stop-color="#4f3939"/><stop offset="0.848" stop-color="#493c3c"/><stop offset="0.879" stop-color="#563636"/><stop offset="0.909" stop-color="#623131"/><stop offset="0.939" stop-color="#642f2f"/><stop offset="0.970" stop-color="#642f2f"/><stop offset="1.000" stop-color="#642f2f"/></linearGradient><linearGradient id="h1_18" gradientUnits="userSpaceOnUse" x1="732.2" y1="0" x2="996.2" y2="0"><stop offset="0.000" stop-color="#6e2b2b"/><stop offset="0.030" stop-color="#6f2a2a"/><stop offset="0.061" stop-color="#662f2f"/><stop offset="0.091" stop-color="#682d2d"/><stop offset="0.121" stop-color="#852222"/><stop offset="0.152" stop-color="#a21616"/><stop offset="0.182" stop-color="#c30707"/><stop offset="0.212" stop-color="#d01102"/><stop offset="0.242" stop-color="#cf0d02"/><stop offset="0.273" stop-color="#c60505"/><stop offset="0.303" stop-color="#ba0b0b"/><stop offset="0.333" stop-color="#a51515"/><stop offset="0.364" stop-color="#782626"/><stop offset="0.394" stop-color="#892020"/><stop offset="0.424" stop-color="#c10808"/><stop offset="0.455" stop-color="#d42101"/><stop offset="0.485" stop-color="#d41f01"/><stop offset="0.515" stop-color="#a91414"/><stop offset="0.545" stop-color="#812323"/><stop offset="0.576" stop-color="#692d2d"/><stop offset="0.606" stop-color="#5a3434"/><stop offset="0.636" stop-color="#623030"/><stop offset="0.667" stop-color="#772727"/><stop offset="0.697" stop-color="#7e2424"/><stop offset="0.727" stop-color="#742828"/><stop offset="0.758" stop-color="#623030"/><stop offset="0.788" stop-color="#593535"/><stop offset="0.818" stop-color="#503939"/><stop offset="0.848" stop-color="#483c3c"/><stop offset="0.879" stop-color="#553636"/><stop offset="0.909" stop-color="#623131"/><stop offset="0.939" stop-color="#642f2f"/><stop offset="0.970" stop-color="#642f2f"/><stop offset="1.000" stop-color="#642f2f"/></linearGradient><linearGradient id="h1_19" gradientUnits="userSpaceOnUse" x1="732.2" y1="0" x2="996.2" y2="0"><stop offset="0.000" stop-color="#702a2a"/><stop offset="0.030" stop-color="#712929"/><stop offset="0.061" stop-color="#6a2c2c"/><stop offset="0.091" stop-color="#6f2a2a"/><stop offset="0.121" stop-color="#8e1e1e"/><stop offset="0.152" stop-color="#b10f0f"/><stop offset="0.182" stop-color="#d11501"/><stop offset="0.212" stop-color="#d93400"/><stop offset="0.242" stop-color="#d72d01"/><stop offset="0.273" stop-color="#d11601"/><stop offset="0.303" stop-color="#cd0502"/><stop offset="0.333" stop-color="#bf0909"/><stop offset="0.364" stop-color="#971a1a"/><stop offset="0.394" stop-color="#a71515"/><stop offset="0.424" stop-color="#d21801"/><stop offset="0.455" stop-color="#da3900"/><stop offset="0.485" stop-color="#d72e01"/><stop offset="0.515" stop-color="#b01010"/><stop offset="0.545" stop-color="#852121"/><stop offset="0.576" stop-color="#6d2b2b"/><stop offset="0.606" stop-color="#5e3232"/><stop offset="0.636" stop-color="#662f2f"/><stop offset="0.667" stop-color="#7a2626"/><stop offset="0.697" stop-color="#812323"/><stop offset="0.727" stop-color="#772727"/><stop offset="0.758" stop-color="#662e2e"/><stop offset="0.788" stop-color="#5c3333"/><stop offset="0.818" stop-color="#523737"/><stop offset="0.848" stop-color="#4a3c3c"/><stop offset="0.879" stop-color="#553636"/><stop offset="0.909" stop-color="#623030"/><stop offset="0.939" stop-color="#642f2f"/><stop offset="0.970" stop-color="#642f2f"/><stop offset="1.000" stop-color="#642f2f"/></linearGradient><linearGradient id="h1_20" gradientUnits="userSpaceOnUse" x1="732.2" y1="0" x2="996.2" y2="0"><stop offset="0.000" stop-color="#712929"/><stop offset="0.030" stop-color="#742828"/><stop offset="0.061" stop-color="#702a2a"/><stop offset="0.091" stop-color="#772727"/><stop offset="0.121" stop-color="#971a1a"/><stop offset="0.152" stop-color="#c30606"/><stop offset="0.182" stop-color="#da3700"/><stop offset="0.212" stop-color="#e15b00"/><stop offset="0.242" stop-color="#df5300"/><stop offset="0.273" stop-color="#da3900"/><stop offset="0.303" stop-color="#d62901"/><stop offset="0.333" stop-color="#d31c01"/><stop offset="0.364" stop-color="#c40606"/><stop offset="0.394" stop-color="#cf0d02"/><stop offset="0.424" stop-color="#db3b00"/><stop offset="0.455" stop-color="#df5000"/><stop offset="0.485" stop-color="#db3b00"/><stop offset="0.515" stop-color="#b70d0d"/><stop offset="0.545" stop-color="#8a1f1f"/><stop offset="0.576" stop-color="#732929"/><stop offset="0.606" stop-color="#642f2f"/><stop offset="0.636" stop-color="#6c2c2c"/><stop offset="0.667" stop-color="#7f2424"/><stop offset="0.697" stop-color="#852121"/><stop offset="0.727" stop-color="#7a2626"/><stop offset="0.758" stop-color="#6a2c2c"/><stop offset="0.788" stop-color="#603131"/><stop offset="0.818" stop-color="#563636"/><stop offset="0.848" stop-color="#4e3a3a"/><stop offset="0.879" stop-color="#583535"/><stop offset="0.909" stop-color="#633030"/><stop offset="0.939" stop-color="#642f2f"/><stop offset="0.970" stop-color="#642f2f"/><stop offset="1.000" stop-color="#642f2f"/></linearGradient><linearGradient id="h1_21" gradientUnits="userSpaceOnUse" x1="732.2" y1="0" x2="996.2" y2="0"><stop offset="0.000" stop-color="#732929"/><stop offset="0.030" stop-color="#772727"/><stop offset="0.061" stop-color="#752828"/><stop offset="0.091" stop-color="#802424"/><stop offset="0.121" stop-color="#a31616"/><stop offset="0.152" stop-color="#d01301"/><stop offset="0.182" stop-color="#e15c00"/><stop offset="0.212" stop-color="#e98600"/><stop offset="0.242" stop-color="#e88200"/><stop offset="0.273" stop-color="#e36a00"/><stop offset="0.303" stop-color="#e05700"/><stop offset="0.333" stop-color="#de4e00"/><stop offset="0.364" stop-color="#db3c00"/><stop offset="0.394" stop-color="#dd4600"/><stop offset="0.424" stop-color="#e05800"/><stop offset="0.455" stop-color="#e26100"/><stop offset="0.485" stop-color="#dd4700"/><stop offset="0.515" stop-color="#bd0909"/><stop offset="0.545" stop-color="#901d1d"/><stop offset="0.576" stop-color="#792626"/><stop offset="0.606" stop-color="#6c2c2c"/><stop offset="0.636" stop-color="#732929"/><stop offset="0.667" stop-color="#842222"/><stop offset="0.697" stop-color="#892020"/><stop offset="0.727" stop-color="#7f2424"/><stop offset="0.758" stop-color="#6f2a2a"/><stop offset="0.788" stop-color="#652f2f"/><stop offset="0.818" stop-color="#5b3333"/><stop offset="0.848" stop-color="#533737"/><stop offset="0.879" stop-color="#5b3434"/><stop offset="0.909" stop-color="#633030"/><stop offset="0.939" stop-color="#652f2f"/><stop offset="0.970" stop-color="#642f2f"/><stop offset="1.000" stop-color="#642f2f"/></linearGradient><linearGradient id="h1_22" gradientUnits="userSpaceOnUse" x1="732.2" y1="0" x2="996.2" y2="0"><stop offset="0.000" stop-color="#742828"/><stop offset="0.030" stop-color="#7a2626"/><stop offset="0.061" stop-color="#7b2525"/><stop offset="0.091" stop-color="#892020"/><stop offset="0.121" stop-color="#b30f0f"/><stop offset="0.152" stop-color="#d93300"/><stop offset="0.182" stop-color="#e88400"/><stop offset="0.212" stop-color="#f1b100"/><stop offset="0.242" stop-color="#f2b400"/><stop offset="0.273" stop-color="#eea000"/><stop offset="0.303" stop-color="#ea8c00"/><stop offset="0.333" stop-color="#e88200"/><stop offset="0.364" stop-color="#e67700"/><stop offset="0.394" stop-color="#e57100"/><stop offset="0.424" stop-color="#e36900"/><stop offset="0.455" stop-color="#e46a00"/><stop offset="0.485" stop-color="#df4f00"/><stop offset="0.515" stop-color="#c30606"/><stop offset="0.545" stop-color="#951b1b"/><stop offset="0.576" stop-color="#802323"/><stop offset="0.606" stop-color="#742828"/><stop offset="0.636" stop-color="#7a2626"/><stop offset="0.667" stop-color="#892020"/><stop offset="0.697" stop-color="#8d1e1e"/><stop offset="0.727" stop-color="#822222"/><stop offset="0.758" stop-color="#732828"/><stop offset="0.788" stop-color="#692d2d"/><stop offset="0.818" stop-color="#613131"/><stop offset="0.848" stop-color="#5a3434"/><stop offset="0.879" stop-color="#5f3232"/><stop offset="0.909" stop-color="#642f2f"/><stop offset="0.939" stop-color="#652f2f"/><stop offset="0.970" stop-color="#652f2f"/><stop offset="1.000" stop-color="#642f2f"/></linearGradient><linearGradient id="h1_23" gradientUnits="userSpaceOnUse" x1="732.2" y1="0" x2="996.2" y2="0"><stop offset="0.000" stop-color="#752828"/><stop offset="0.030" stop-color="#7c2525"/><stop offset="0.061" stop-color="#812323"/><stop offset="0.091" stop-color="#931c1c"/><stop offset="0.121" stop-color="#c50606"/><stop offset="0.152" stop-color="#e05500"/><stop offset="0.182" stop-color="#f0a900"/><stop offset="0.212" stop-color="#f9db00"/><stop offset="0.242" stop-color="#fbe600"/><stop offset="0.273" stop-color="#f8d600"/><stop offset="0.303" stop-color="#f4bf00"/><stop offset="0.333" stop-color="#f1ae00"/><stop offset="0.364" stop-color="#ed9d00"/><stop offset="0.394" stop-color="#e98700"/><stop offset="0.424" stop-color="#e46f00"/><stop offset="0.455" stop-color="#e46c00"/><stop offset="0.485" stop-color="#df5200"/><stop offset="0.515" stop-color="#c70505"/><stop offset="0.545" stop-color="#991a1a"/><stop offset="0.576" stop-color="#862121"/><stop offset="0.606" stop-color="#7c2525"/><stop offset="0.636" stop-color="#812323"/><stop offset="0.667" stop-color="#8e1e1e"/><stop offset="0.697" stop-color="#901d1d"/><stop offset="0.727" stop-color="#862121"/><stop offset="0.758" stop-color="#772727"/><stop offset="0.788" stop-color="#6d2b2b"/><stop offset="0.818" stop-color="#652f2f"/><stop offset="0.848" stop-color="#603131"/><stop offset="0.879" stop-color="#623030"/><stop offset="0.909" stop-color="#652f2f"/><stop offset="0.939" stop-color="#652f2f"/><stop offset="0.970" stop-color="#652f2f"/><stop offset="1.000" stop-color="#642f2f"/></linearGradient><linearGradient id="h1_24" gradientUnits="userSpaceOnUse" x1="732.2" y1="0" x2="996.2" y2="0"><stop offset="0.000" stop-color="#762727"/><stop offset="0.030" stop-color="#7e2424"/><stop offset="0.061" stop-color="#862121"/><stop offset="0.091" stop-color="#9b1919"/><stop offset="0.121" stop-color="#cf0d02"/><stop offset="0.152" stop-color="#e57200"/><stop offset="0.182" stop-color="#f5c600"/><stop offset="0.212" stop-color="#fffe00"/><stop offset="0.242" stop-color="#ffff00"/><stop offset="0.273" stop-color="#ffff00"/><stop offset="0.303" stop-color="#fbe800"/><stop offset="0.333" stop-color="#f6cd00"/><stop offset="0.364" stop-color="#f1b200"/><stop offset="0.394" stop-color="#ea8e00"/><stop offset="0.424" stop-color="#e46b00"/><stop offset="0.455" stop-color="#e36700"/><stop offset="0.485" stop-color="#df5100"/><stop offset="0.515" stop-color="#c80404"/><stop offset="0.545" stop-color="#9b1919"/><stop offset="0.576" stop-color="#8a1f1f"/><stop offset="0.606" stop-color="#822222"/><stop offset="0.636" stop-color="#872121"/><stop offset="0.667" stop-color="#911d1d"/><stop offset="0.697" stop-color="#921c1c"/><stop offset="0.727" stop-color="#882020"/><stop offset="0.758" stop-color="#792626"/><stop offset="0.788" stop-color="#6f2a2a"/><stop offset="0.818" stop-color="#692d2d"/><stop offset="0.848" stop-color="#642f2f"/><stop offset="0.879" stop-color="#652f2f"/><stop offset="0.909" stop-color="#662f2f"/><stop offset="0.939" stop-color="#652f2f"/><stop offset="0.970" stop-color="#652f2f"/><stop offset="1.000" stop-color="#642f2f"/></linearGradient><linearGradient id="h1_25" gradientUnits="userSpaceOnUse" x1="732.2" y1="0" x2="996.2" y2="0"><stop offset="0.000" stop-color="#762727"/><stop offset="0.030" stop-color="#7f2424"/><stop offset="0.061" stop-color="#882020"/><stop offset="0.091" stop-color="#9f1717"/><stop offset="0.121" stop-color="#d21801"/><stop offset="0.152" stop-color="#e77e00"/><stop offset="0.182" stop-color="#f7d200"/><stop offset="0.212" stop-color="#ffff00"/><stop offset="0.242" stop-color="#ffff00"/><stop offset="0.273" stop-color="#ffff00"/><stop offset="0.303" stop-color="#fefb00"/><stop offset="0.333" stop-color="#f8d900"/><stop offset="0.364" stop-color="#f2b400"/><stop offset="0.394" stop-color="#e98500"/><stop offset="0.424" stop-color="#e15c00"/><stop offset="0.455" stop-color="#e15c00"/><stop offset="0.485" stop-color="#de4a00"/><stop offset="0.515" stop-color="#c70505"/><stop offset="0.545" stop-color="#9b1919"/><stop offset="0.576" stop-color="#8c1f1f"/><stop offset="0.606" stop-color="#862121"/><stop offset="0.636" stop-color="#892020"/><stop offset="0.667" stop-color="#911d1d"/><stop offset="0.697" stop-color="#921d1d"/><stop offset="0.727" stop-color="#872121"/><stop offset="0.758" stop-color="#7a2626"/><stop offset="0.788" stop-color="#712a2a"/><stop offset="0.818" stop-color="#6b2c2c"/><stop offset="0.848" stop-color="#672e2e"/><stop offset="0.879" stop-color="#662e2e"/><stop offset="0.909" stop-color="#662e2e"/><stop offset="0.939" stop-color="#652f2f"/><stop offset="0.970" stop-color="#652f2f"/><stop offset="1.000" stop-color="#642f2f"/></linearGradient><linearGradient id="h1_26" gradientUnits="userSpaceOnUse" x1="732.2" y1="0" x2="996.2" y2="0"><stop offset="0.000" stop-color="#752828"/><stop offset="0.030" stop-color="#7e2424"/><stop offset="0.061" stop-color="#882020"/><stop offset="0.091" stop-color="#9f1818"/><stop offset="0.121" stop-color="#d01301"/><stop offset="0.152" stop-color="#e57500"/><stop offset="0.182" stop-color="#f5c500"/><stop offset="0.212" stop-color="#ffff00"/><stop offset="0.242" stop-color="#ffff00"/><stop offset="0.273" stop-color="#ffff00"/><stop offset="0.303" stop-color="#fcf000"/><stop offset="0.333" stop-color="#f6cb00"/><stop offset="0.364" stop-color="#eea000"/><stop offset="0.394" stop-color="#e46d00"/><stop offset="0.424" stop-color="#dd4400"/><stop offset="0.455" stop-color="#de4a00"/><stop offset="0.485" stop-color="#dc3e00"/><stop offset="0.515" stop-color="#c20707"/><stop offset="0.545" stop-color="#991a1a"/><stop offset="0.576" stop-color="#8b1f1f"/><stop offset="0.606" stop-color="#852121"/><stop offset="0.636" stop-color="#872121"/><stop offset="0.667" stop-color="#8c1f1f"/><stop offset="0.697" stop-color="#8b1f1f"/><stop offset="0.727" stop-color="#832222"/><stop offset="0.758" stop-color="#782626"/><stop offset="0.788" stop-color="#702a2a"/><stop offset="0.818" stop-color="#6c2c2c"/><stop offset="0.848" stop-color="#692d2d"/><stop offset="0.879" stop-color="#672e2e"/><stop offset="0.909" stop-color="#662e2e"/><stop offset="0.939" stop-color="#652f2f"/><stop offset="0.970" stop-color="#652f2f"/><stop offset="1.000" stop-color="#642f2f"/></linearGradient><linearGradient id="h1_27" gradientUnits="userSpaceOnUse" x1="732.2" y1="0" x2="996.2" y2="0"><stop offset="0.000" stop-color="#732828"/><stop offset="0.030" stop-color="#7c2525"/><stop offset="0.061" stop-color="#842222"/><stop offset="0.091" stop-color="#991a1a"/><stop offset="0.121" stop-color="#ca0303"/><stop offset="0.152" stop-color="#df5300"/><stop offset="0.182" stop-color="#ee9e00"/><stop offset="0.212" stop-color="#f7d200"/><stop offset="0.242" stop-color="#fbe900"/><stop offset="0.273" stop-color="#fae200"/><stop offset="0.303" stop-color="#f5c700"/><stop offset="0.333" stop-color="#efa300"/><stop offset="0.364" stop-color="#e67800"/><stop offset="0.394" stop-color="#dd4400"/><stop offset="0.424" stop-color="#d52601"/><stop offset="0.455" stop-color="#d93300"/><stop offset="0.485" stop-color="#d82f01"/><stop offset="0.515" stop-color="#ba0b0b"/><stop offset="0.545" stop-color="#941c1c"/><stop offset="0.576" stop-color="#872121"/><stop offset="0.606" stop-color="#802323"/><stop offset="0.636" stop-color="#7d2525"/><stop offset="0.667" stop-color="#7d2525"/><stop offset="0.697" stop-color="#7c2525"/><stop offset="0.727" stop-color="#772727"/><stop offset="0.758" stop-color="#722929"/><stop offset="0.788" stop-color="#6e2b2b"/><stop offset="0.818" stop-color="#6b2c2c"/><stop offset="0.848" stop-color="#692d2d"/><stop offset="0.879" stop-color="#672e2e"/><stop offset="0.909" stop-color="#662e2e"/><stop offset="0.939" stop-color="#652f2f"/><stop offset="0.970" stop-color="#652f2f"/><stop offset="1.000" stop-color="#642f2f"/></linearGradient><linearGradient id="h1_28" gradientUnits="userSpaceOnUse" x1="732.2" y1="0" x2="996.2" y2="0"><stop offset="0.000" stop-color="#712929"/><stop offset="0.030" stop-color="#782626"/><stop offset="0.061" stop-color="#7f2424"/><stop offset="0.091" stop-color="#901d1d"/><stop offset="0.121" stop-color="#b40e0e"/><stop offset="0.152" stop-color="#d42301"/><stop offset="0.182" stop-color="#e26100"/><stop offset="0.212" stop-color="#eb8f00"/><stop offset="0.242" stop-color="#efa400"/><stop offset="0.273" stop-color="#ee9f00"/><stop offset="0.303" stop-color="#e98700"/><stop offset="0.333" stop-color="#e36500"/><stop offset="0.364" stop-color="#db3d00"/><stop offset="0.394" stop-color="#d11501"/><stop offset="0.424" stop-color="#cc0302"/><stop offset="0.455" stop-color="#d21a01"/><stop offset="0.485" stop-color="#d31e01"/><stop offset="0.515" stop-color="#b11010"/><stop offset="0.545" stop-color="#8f1e1e"/><stop offset="0.576" stop-color="#812323"/><stop offset="0.606" stop-color="#792626"/><stop offset="0.636" stop-color="#722929"/><stop offset="0.667" stop-color="#6e2b2b"/><stop offset="0.697" stop-color="#6c2c2c"/><stop offset="0.727" stop-color="#6b2c2c"/><stop offset="0.758" stop-color="#6b2c2c"/><stop offset="0.788" stop-color="#6b2c2c"/><stop offset="0.818" stop-color="#6a2d2d"/><stop offset="0.848" stop-color="#682d2d"/><stop offset="0.879" stop-color="#672e2e"/><stop offset="0.909" stop-color="#662f2f"/><stop offset="0.939" stop-color="#652f2f"/><stop offset="0.970" stop-color="#642f2f"/><stop offset="1.000" stop-color="#642f2f"/></linearGradient><linearGradient id="h1_29" gradientUnits="userSpaceOnUse" x1="732.2" y1="0" x2="996.2" y2="0"><stop offset="0.000" stop-color="#6f2a2a"/><stop offset="0.030" stop-color="#742828"/><stop offset="0.061" stop-color="#792626"/><stop offset="0.091" stop-color="#852121"/><stop offset="0.121" stop-color="#9f1818"/><stop offset="0.152" stop-color="#bf0909"/><stop offset="0.182" stop-color="#d31c01"/><stop offset="0.212" stop-color="#db3e00"/><stop offset="0.242" stop-color="#df4f00"/><stop offset="0.273" stop-color="#de4c00"/><stop offset="0.303" stop-color="#da3900"/><stop offset="0.333" stop-color="#d42001"/><stop offset="0.364" stop-color="#cc0302"/><stop offset="0.394" stop-color="#b90c0c"/><stop offset="0.424" stop-color="#b40e0e"/><stop offset="0.455" stop-color="#cc0202"/><stop offset="0.485" stop-color="#ce0b02"/><stop offset="0.515" stop-color="#a71414"/><stop offset="0.545" stop-color="#892020"/><stop offset="0.576" stop-color="#7c2525"/><stop offset="0.606" stop-color="#762727"/><stop offset="0.636" stop-color="#712929"/><stop offset="0.667" stop-color="#6e2b2b"/><stop offset="0.697" stop-color="#6d2b2b"/><stop offset="0.727" stop-color="#6c2c2c"/><stop offset="0.758" stop-color="#6b2c2c"/><stop offset="0.788" stop-color="#6a2d2d"/><stop offset="0.818" stop-color="#692d2d"/><stop offset="0.848" stop-color="#672e2e"/><stop offset="0.879" stop-color="#662e2e"/><stop offset="0.909" stop-color="#652f2f"/><stop offset="0.939" stop-color="#652f2f"/><stop offset="0.970" stop-color="#642f2f"/><stop offset="1.000" stop-color="#642f2f"/></linearGradient><linearGradient id="h1_30" gradientUnits="userSpaceOnUse" x1="732.2" y1="0" x2="996.2" y2="0"><stop offset="0.000" stop-color="#6d2b2b"/><stop offset="0.030" stop-color="#712a2a"/><stop offset="0.061" stop-color="#732828"/><stop offset="0.091" stop-color="#7c2525"/><stop offset="0.121" stop-color="#8f1e1e"/><stop offset="0.152" stop-color="#a11717"/><stop offset="0.182" stop-color="#b40e0e"/><stop offset="0.212" stop-color="#c50606"/><stop offset="0.242" stop-color="#cc0302"/><stop offset="0.273" stop-color="#cc0202"/><stop offset="0.303" stop-color="#c40606"/><stop offset="0.333" stop-color="#b70c0c"/><stop offset="0.364" stop-color="#a91313"/><stop offset="0.394" stop-color="#a01717"/><stop offset="0.424" stop-color="#a11717"/><stop offset="0.455" stop-color="#bc0a0a"/><stop offset="0.485" stop-color="#c60505"/><stop offset="0.515" stop-color="#a01717"/><stop offset="0.545" stop-color="#832222"/><stop offset="0.576" stop-color="#782727"/><stop offset="0.606" stop-color="#742828"/><stop offset="0.636" stop-color="#742828"/><stop offset="0.667" stop-color="#752828"/><stop offset="0.697" stop-color="#752828"/><stop offset="0.727" stop-color="#712929"/><stop offset="0.758" stop-color="#6c2c2c"/><stop offset="0.788" stop-color="#692d2d"/><stop offset="0.818" stop-color="#682e2e"/><stop offset="0.848" stop-color="#672e2e"/><stop offset="0.879" stop-color="#662f2f"/><stop offset="0.909" stop-color="#652f2f"/><stop offset="0.939" stop-color="#652f2f"/><stop offset="0.970" stop-color="#642f2f"/><stop offset="1.000" stop-color="#642f2f"/></linearGradient><linearGradient id="h1_31" gradientUnits="userSpaceOnUse" x1="732.2" y1="0" x2="996.2" y2="0"><stop offset="0.000" stop-color="#6b2c2c"/><stop offset="0.030" stop-color="#6d2b2b"/><stop offset="0.061" stop-color="#6e2b2b"/><stop offset="0.091" stop-color="#742828"/><stop offset="0.121" stop-color="#822323"/><stop offset="0.152" stop-color="#8f1e1e"/><stop offset="0.182" stop-color="#991a1a"/><stop offset="0.212" stop-color="#a11717"/><stop offset="0.242" stop-color="#a51515"/><stop offset="0.273" stop-color="#a51515"/><stop offset="0.303" stop-color="#a11717"/><stop offset="0.333" stop-color="#9c1919"/><stop offset="0.364" stop-color="#951b1b"/><stop offset="0.394" stop-color="#8f1d1d"/><stop offset="0.424" stop-color="#951b1b"/><stop offset="0.455" stop-color="#af1111"/><stop offset="0.485" stop-color="#bc0a0a"/><stop offset="0.515" stop-color="#9a1919"/><stop offset="0.545" stop-color="#7e2424"/><stop offset="0.576" stop-color="#732828"/><stop offset="0.606" stop-color="#712929"/><stop offset="0.636" stop-color="#722929"/><stop offset="0.667" stop-color="#752828"/><stop offset="0.697" stop-color="#752727"/><stop offset="0.727" stop-color="#712929"/><stop offset="0.758" stop-color="#6c2c2c"/><stop offset="0.788" stop-color="#682d2d"/><stop offset="0.818" stop-color="#672e2e"/><stop offset="0.848" stop-color="#662f2f"/><stop offset="0.879" stop-color="#652f2f"/><stop offset="0.909" stop-color="#652f2f"/><stop offset="0.939" stop-color="#642f2f"/><stop offset="0.970" stop-color="#642f2f"/><stop offset="1.000" stop-color="#642f2f"/></linearGradient></defs>
<g clip-path="url(#clip1)"><g filter="url(#hblur)"><rect x="732.2" y="44.9" width="264.0" height="7.6" fill="url(#h1_0)"/><rect x="732.2" y="51.9" width="264.0" height="7.6" fill="url(#h1_1)"/><rect x="732.2" y="58.9" width="264.0" height="7.6" fill="url(#h1_2)"/><rect x="732.2" y="65.9" width="264.0" height="7.6" fill="url(#h1_3)"/><rect x="732.2" y="72.9" width="264.0" height="7.6" fill="url(#h1_4)"/><rect x="732.2" y="79.9" width="264.0" height="7.6" fill="url(#h1_5)"/><rect x="732.2" y="86.9" width="264.0" height="7.6" fill="url(#h1_6)"/><rect x="732.2" y="93.9" width="264.0" height="7.6" fill="url(#h1_7)"/><rect x="732.2" y="100.9" width="264.0" height="7.6" fill="url(#h1_8)"/><rect x="732.2" y="107.9" width="264.0" height="7.6" fill="url(#h1_9)"/><rect x="732.2" y="114.9" width="264.0" height="7.6" fill="url(#h1_10)"/><rect x="732.2" y="121.9" width="264.0" height="7.6" fill="url(#h1_11)"/><rect x="732.2" y="128.9" width="264.0" height="7.6" fill="url(#h1_12)"/><rect x="732.2" y="135.9" width="264.0" height="7.6" fill="url(#h1_13)"/><rect x="732.2" y="142.9" width="264.0" height="7.6" fill="url(#h1_14)"/><rect x="732.2" y="149.9" width="264.0" height="7.6" fill="url(#h1_15)"/><rect x="732.2" y="156.9" width="264.0" height="7.6" fill="url(#h1_16)"/><rect x="732.2" y="163.9" width="264.0" height="7.6" fill="url(#h1_17)"/><rect x="732.2" y="170.9" width="264.0" height="7.6" fill="url(#h1_18)"/><rect x="732.2" y="177.9" width="264.0" height="7.6" fill="url(#h1_19)"/><rect x="732.2" y="184.9" width="264.0" height="7.6" fill="url(#h1_20)"/><rect x="732.2" y="191.9" width="264.0" height="7.6" fill="url(#h1_21)"/><rect x="732.2" y="198.9" width="264.0" height="7.6" fill="url(#h1_22)"/><rect x="732.2" y="205.9" width="264.0" height="7.6" fill="url(#h1_23)"/><rect x="732.2" y="212.9" width="264.0" height="7.6" fill="url(#h1_24)"/><rect x="732.2" y="219.9" width="264.0" height="7.6" fill="url(#h1_25)"/><rect x="732.2" y="226.9" width="264.0" height="7.6" fill="url(#h1_26)"/><rect x="732.2" y="233.9" width="264.0" height="7.6" fill="url(#h1_27)"/><rect x="732.2" y="240.9" width="264.0" height="7.6" fill="url(#h1_28)"/><rect x="732.2" y="247.9" width="264.0" height="7.6" fill="url(#h1_29)"/><rect x="732.2" y="254.9" width="264.0" height="7.6" fill="url(#h1_30)"/><rect x="732.2" y="261.9" width="264.0" height="7.6" fill="url(#h1_31)"/></g></g>
<rect x="748.2" y="58.9" width="225.3" height="189.5" fill="none" stroke="#222" stroke-width="1.3"/>
<line x1="759.3" y1="248.4" x2="759.3" y2="251.9" stroke="#222" stroke-width="1"/>
<text x="759.3" y="265.5" font-size="12" fill="#222" text-anchor="middle" font-weight="normal" >2</text>
<line x1="780.8" y1="248.4" x2="780.8" y2="250.4" stroke="#222" stroke-width="1"/>
<line x1="802.2" y1="248.4" x2="802.2" y2="251.9" stroke="#222" stroke-width="1"/>
<text x="802.2" y="265.5" font-size="12" fill="#222" text-anchor="middle" font-weight="normal" >4</text>
<line x1="823.6" y1="248.4" x2="823.6" y2="250.4" stroke="#222" stroke-width="1"/>
<line x1="845.0" y1="248.4" x2="845.0" y2="251.9" stroke="#222" stroke-width="1"/>
<text x="845.0" y="265.5" font-size="12" fill="#222" text-anchor="middle" font-weight="normal" >6</text>
<line x1="866.4" y1="248.4" x2="866.4" y2="250.4" stroke="#222" stroke-width="1"/>
<line x1="887.8" y1="248.4" x2="887.8" y2="251.9" stroke="#222" stroke-width="1"/>
<text x="887.8" y="265.5" font-size="12" fill="#222" text-anchor="middle" font-weight="normal" >8</text>
<line x1="909.3" y1="248.4" x2="909.3" y2="250.4" stroke="#222" stroke-width="1"/>
<line x1="930.7" y1="248.4" x2="930.7" y2="251.9" stroke="#222" stroke-width="1"/>
<text x="930.7" y="265.5" font-size="12" fill="#222" text-anchor="middle" font-weight="normal" >10</text>
<line x1="952.1" y1="248.4" x2="952.1" y2="250.4" stroke="#222" stroke-width="1"/>
<line x1="973.5" y1="248.4" x2="973.5" y2="251.9" stroke="#222" stroke-width="1"/>
<text x="973.5" y="265.5" font-size="12" fill="#222" text-anchor="middle" font-weight="normal" >12</text>
<line x1="746.2" y1="238.8" x2="748.2" y2="238.8" stroke="#222" stroke-width="1"/>
<line x1="746.2" y1="230.6" x2="748.2" y2="230.6" stroke="#222" stroke-width="1"/>
<line x1="744.7" y1="222.4" x2="748.2" y2="222.4" stroke="#222" stroke-width="1"/>
<text x="743.2" y="226.7" font-size="12" fill="#222" text-anchor="end" font-weight="normal" >1.5</text>
<line x1="746.2" y1="214.3" x2="748.2" y2="214.3" stroke="#222" stroke-width="1"/>
<line x1="746.2" y1="206.1" x2="748.2" y2="206.1" stroke="#222" stroke-width="1"/>
<line x1="746.2" y1="197.9" x2="748.2" y2="197.9" stroke="#222" stroke-width="1"/>
<line x1="744.7" y1="189.7" x2="748.2" y2="189.7" stroke="#222" stroke-width="1"/>
<text x="743.2" y="194.0" font-size="12" fill="#222" text-anchor="end" font-weight="normal" >2.0</text>
<line x1="746.2" y1="181.5" x2="748.2" y2="181.5" stroke="#222" stroke-width="1"/>
<line x1="746.2" y1="173.4" x2="748.2" y2="173.4" stroke="#222" stroke-width="1"/>
<line x1="746.2" y1="165.2" x2="748.2" y2="165.2" stroke="#222" stroke-width="1"/>
<line x1="744.7" y1="157.0" x2="748.2" y2="157.0" stroke="#222" stroke-width="1"/>
<text x="743.2" y="161.3" font-size="12" fill="#222" text-anchor="end" font-weight="normal" >2.5</text>
<line x1="746.2" y1="148.8" x2="748.2" y2="148.8" stroke="#222" stroke-width="1"/>
<line x1="746.2" y1="140.7" x2="748.2" y2="140.7" stroke="#222" stroke-width="1"/>
<line x1="746.2" y1="132.5" x2="748.2" y2="132.5" stroke="#222" stroke-width="1"/>
<line x1="744.7" y1="124.3" x2="748.2" y2="124.3" stroke="#222" stroke-width="1"/>
<text x="743.2" y="128.6" font-size="12" fill="#222" text-anchor="end" font-weight="normal" >3.0</text>
<line x1="746.2" y1="116.1" x2="748.2" y2="116.1" stroke="#222" stroke-width="1"/>
<line x1="746.2" y1="108.0" x2="748.2" y2="108.0" stroke="#222" stroke-width="1"/>
<line x1="746.2" y1="99.8" x2="748.2" y2="99.8" stroke="#222" stroke-width="1"/>
<line x1="744.7" y1="91.6" x2="748.2" y2="91.6" stroke="#222" stroke-width="1"/>
<text x="743.2" y="95.9" font-size="12" fill="#222" text-anchor="end" font-weight="normal" >3.5</text>
<line x1="746.2" y1="83.4" x2="748.2" y2="83.4" stroke="#222" stroke-width="1"/>
<line x1="746.2" y1="75.3" x2="748.2" y2="75.3" stroke="#222" stroke-width="1"/>
<line x1="746.2" y1="67.1" x2="748.2" y2="67.1" stroke="#222" stroke-width="1"/>
<line x1="744.7" y1="58.9" x2="748.2" y2="58.9" stroke="#222" stroke-width="1"/>
<text x="743.2" y="63.2" font-size="12" fill="#222" text-anchor="end" font-weight="normal" >4.0</text>
<linearGradient id="cb1" x1="0" y1="0" x2="0" y2="1"><stop offset="0.00" stop-color="#ffff00"/><stop offset="0.18" stop-color="#f0aa00"/><stop offset="0.28" stop-color="#e67800"/><stop offset="0.38" stop-color="#dc4000"/><stop offset="0.50" stop-color="#cc0202"/><stop offset="0.60" stop-color="#a81414"/><stop offset="0.80" stop-color="#742828"/><stop offset="1.00" stop-color="#404040"/></linearGradient>
<rect x="987" y="58.9" width="17.9" height="189.5" fill="url(#cb1)" stroke="#777" stroke-width="0.8"/>
<line x1="1004.9" y1="248.4" x2="1007.9" y2="248.4" stroke="#444" stroke-width="0.8"/>
<text x="1011.9" y="251.4" font-size="8.6" fill="#222" text-anchor="start" font-weight="normal" >0.000</text>
<line x1="1004.9" y1="208.2" x2="1007.9" y2="208.2" stroke="#444" stroke-width="0.8"/>
<text x="1011.9" y="211.2" font-size="8.6" fill="#222" text-anchor="start" font-weight="normal" >0.1000</text>
<line x1="1004.9" y1="167.5" x2="1007.9" y2="167.5" stroke="#444" stroke-width="0.8"/>
<text x="1011.9" y="170.5" font-size="8.6" fill="#222" text-anchor="start" font-weight="normal" >0.2000</text>
<line x1="1004.9" y1="127.0" x2="1007.9" y2="127.0" stroke="#444" stroke-width="0.8"/>
<text x="1011.9" y="130.0" font-size="8.6" fill="#222" text-anchor="start" font-weight="normal" >0.3000</text>
<line x1="1004.9" y1="86.6" x2="1007.9" y2="86.6" stroke="#444" stroke-width="0.8"/>
<text x="1011.9" y="89.6" font-size="8.6" fill="#222" text-anchor="start" font-weight="normal" >0.4000</text>
<text x="0.0" y="0.0" font-size="14" fill="#222" text-anchor="middle" font-weight="normal" transform="translate(716.5 137.5) rotate(-90)">R (Å)</text>
<text x="856.0" y="283.5" font-size="14" fill="#222" text-anchor="start" font-weight="normal" >k (Å<tspan font-size="9" dy="-5">-1</tspan><tspan dy="5">)</tspan></text>
<line x1="801" y1="95" x2="801" y2="240" stroke="#fff" stroke-width="2.6" stroke-dasharray="4 4"/>
<line x1="856.5" y1="59" x2="856.5" y2="244" stroke="#fff" stroke-width="2.6" stroke-dasharray="4 4"/>
<text x="881.0" y="77.5" font-size="10.8" fill="#f4f4f4" text-anchor="start" font-weight="normal" >4.48% Fe/ZnCr</text>
<text x="869.6" y="138.0" font-size="10.8" fill="#f4f4f4" text-anchor="start" font-weight="normal" >Fe-Cr</text>
<text x="869.6" y="155.0" font-size="10.8" fill="#f4f4f4" text-anchor="start" font-weight="normal" >6.49 Å<tspan font-size="7" dy="-4">-1</tspan></text>
<text x="770.0" y="162.0" font-size="10.8" fill="#f4f4f4" text-anchor="start" font-weight="normal" >Fe-O</text>
<clipPath id="clip2"><rect x="749.2" y="324.2" width="224.3" height="189.6"/></clipPath>
<defs><linearGradient id="h2_0" gradientUnits="userSpaceOnUse" x1="733.2" y1="0" x2="997.2" y2="0"><stop offset="0.000" stop-color="#692d2d"/><stop offset="0.030" stop-color="#682e2e"/><stop offset="0.061" stop-color="#633030"/><stop offset="0.091" stop-color="#5b3333"/><stop offset="0.121" stop-color="#5c3333"/><stop offset="0.152" stop-color="#643030"/><stop offset="0.182" stop-color="#6a2d2d"/><stop offset="0.212" stop-color="#6e2b2b"/><stop offset="0.242" stop-color="#712929"/><stop offset="0.273" stop-color="#722929"/><stop offset="0.303" stop-color="#712929"/><stop offset="0.333" stop-color="#712929"/><stop offset="0.364" stop-color="#732929"/><stop offset="0.394" stop-color="#762727"/><stop offset="0.424" stop-color="#7b2525"/><stop offset="0.455" stop-color="#7f2424"/><stop offset="0.485" stop-color="#832222"/><stop offset="0.515" stop-color="#882020"/><stop offset="0.545" stop-color="#8c1f1f"/><stop offset="0.576" stop-color="#872121"/><stop offset="0.606" stop-color="#7b2525"/><stop offset="0.636" stop-color="#712a2a"/><stop offset="0.667" stop-color="#6c2c2c"/><stop offset="0.697" stop-color="#652f2f"/><stop offset="0.727" stop-color="#5a3434"/><stop offset="0.758" stop-color="#5b3434"/><stop offset="0.788" stop-color="#642f2f"/><stop offset="0.818" stop-color="#692d2d"/><stop offset="0.848" stop-color="#6a2d2d"/><stop offset="0.879" stop-color="#6a2d2d"/><stop offset="0.909" stop-color="#6a2d2d"/><stop offset="0.939" stop-color="#6a2d2d"/><stop offset="0.970" stop-color="#6a2d2d"/><stop offset="1.000" stop-color="#6a2d2d"/></linearGradient><linearGradient id="h2_1" gradientUnits="userSpaceOnUse" x1="733.2" y1="0" x2="997.2" y2="0"><stop offset="0.000" stop-color="#692d2d"/><stop offset="0.030" stop-color="#682e2e"/><stop offset="0.061" stop-color="#613131"/><stop offset="0.091" stop-color="#593535"/><stop offset="0.121" stop-color="#5a3434"/><stop offset="0.152" stop-color="#623030"/><stop offset="0.182" stop-color="#692d2d"/><stop offset="0.212" stop-color="#6e2b2b"/><stop offset="0.242" stop-color="#722929"/><stop offset="0.273" stop-color="#732828"/><stop offset="0.303" stop-color="#732929"/><stop offset="0.333" stop-color="#722929"/><stop offset="0.364" stop-color="#742828"/><stop offset="0.394" stop-color="#782626"/><stop offset="0.424" stop-color="#7e2424"/><stop offset="0.455" stop-color="#842222"/><stop offset="0.485" stop-color="#892020"/><stop offset="0.515" stop-color="#8d1f1f"/><stop offset="0.545" stop-color="#901d1d"/><stop offset="0.576" stop-color="#8a2020"/><stop offset="0.606" stop-color="#7c2525"/><stop offset="0.636" stop-color="#722929"/><stop offset="0.667" stop-color="#6c2c2c"/><stop offset="0.697" stop-color="#642f2f"/><stop offset="0.727" stop-color="#573535"/><stop offset="0.758" stop-color="#583535"/><stop offset="0.788" stop-color="#633030"/><stop offset="0.818" stop-color="#692d2d"/><stop offset="0.848" stop-color="#6a2d2d"/><stop offset="0.879" stop-color="#6a2d2d"/><stop offset="0.909" stop-color="#6a2d2d"/><stop offset="0.939" stop-color="#6a2d2d"/><stop offset="0.970" stop-color="#6a2d2d"/><stop offset="1.000" stop-color="#6a2d2d"/></linearGradient><linearGradient id="h2_2" gradientUnits="userSpaceOnUse" x1="733.2" y1="0" x2="997.2" y2="0"><stop offset="0.000" stop-color="#692d2d"/><stop offset="0.030" stop-color="#672e2e"/><stop offset="0.061" stop-color="#603131"/><stop offset="0.091" stop-color="#563636"/><stop offset="0.121" stop-color="#573535"/><stop offset="0.152" stop-color="#613131"/><stop offset="0.182" stop-color="#692d2d"/><stop offset="0.212" stop-color="#6f2a2a"/><stop offset="0.242" stop-color="#732828"/><stop offset="0.273" stop-color="#752828"/><stop offset="0.303" stop-color="#742828"/><stop offset="0.333" stop-color="#742828"/><stop offset="0.364" stop-color="#762727"/><stop offset="0.394" stop-color="#7b2525"/><stop offset="0.424" stop-color="#832222"/><stop offset="0.455" stop-color="#8b1f1f"/><stop offset="0.485" stop-color="#901d1d"/><stop offset="0.515" stop-color="#921c1c"/><stop offset="0.545" stop-color="#941c1c"/><stop offset="0.576" stop-color="#8d1e1e"/><stop offset="0.606" stop-color="#7e2424"/><stop offset="0.636" stop-color="#732929"/><stop offset="0.667" stop-color="#6c2c2c"/><stop offset="0.697" stop-color="#633030"/><stop offset="0.727" stop-color="#553636"/><stop offset="0.758" stop-color="#553636"/><stop offset="0.788" stop-color="#623030"/><stop offset="0.818" stop-color="#692d2d"/><stop offset="0.848" stop-color="#6a2d2d"/><stop offset="0.879" stop-color="#6a2d2d"/><stop offset="0.909" stop-color="#6a2d2d"/><stop offset="0.939" stop-color="#6a2d2d"/><stop offset="0.970" stop-color="#6a2d2d"/><stop offset="1.000" stop-color="#6a2d2d"/></linearGradient><linearGradient id="h2_3" gradientUnits="userSpaceOnUse" x1="733.2" y1="0" x2="997.2" y2="0"><stop offset="0.000" stop-color="#692d2d"/><stop offset="0.030" stop-color="#672e2e"/><stop offset="0.061" stop-color="#5f3232"/><stop offset="0.091" stop-color="#533737"/><stop offset="0.121" stop-color="#543737"/><stop offset="0.152" stop-color="#603131"/><stop offset="0.182" stop-color="#692d2d"/><stop offset="0.212" stop-color="#702a2a"/><stop offset="0.242" stop-color="#752828"/><stop offset="0.273" stop-color="#762727"/><stop offset="0.303" stop-color="#762727"/><stop offset="0.333" stop-color="#762727"/><stop offset="0.364" stop-color="#782626"/><stop offset="0.394" stop-color="#7f2424"/><stop offset="0.424" stop-color="#892020"/><stop offset="0.455" stop-color="#951b1b"/><stop offset="0.485" stop-color="#9a1a1a"/><stop offset="0.515" stop-color="#991a1a"/><stop offset="0.545" stop-color="#991a1a"/><stop offset="0.576" stop-color="#901d1d"/><stop offset="0.606" stop-color="#802323"/><stop offset="0.636" stop-color="#742828"/><stop offset="0.667" stop-color="#6d2b2b"/><stop offset="0.697" stop-color="#623030"/><stop offset="0.727" stop-color="#523838"/><stop offset="0.758" stop-color="#533737"/><stop offset="0.788" stop-color="#623131"/><stop offset="0.818" stop-color="#692d2d"/><stop offset="0.848" stop-color="#6a2d2d"/><stop offset="0.879" stop-color="#6a2d2d"/><stop offset="0.909" stop-color="#6a2d2d"/><stop offset="0.939" stop-color="#6a2d2d"/><stop offset="0.970" stop-color="#6a2d2d"/><stop offset="1.000" stop-color="#6a2d2d"/></linearGradient><linearGradient id="h2_4" gradientUnits="userSpaceOnUse" x1="733.2" y1="0" x2="997.2" y2="0"><stop offset="0.000" stop-color="#692d2d"/><stop offset="0.030" stop-color="#672e2e"/><stop offset="0.061" stop-color="#5e3232"/><stop offset="0.091" stop-color="#513838"/><stop offset="0.121" stop-color="#523838"/><stop offset="0.152" stop-color="#5f3232"/><stop offset="0.182" stop-color="#692d2d"/><stop offset="0.212" stop-color="#712929"/><stop offset="0.242" stop-color="#762727"/><stop offset="0.273" stop-color="#782626"/><stop offset="0.303" stop-color="#782727"/><stop offset="0.333" stop-color="#782727"/><stop offset="0.364" stop-color="#7b2525"/><stop offset="0.394" stop-color="#832222"/><stop offset="0.424" stop-color="#901d1d"/><stop offset="0.455" stop-color="#a01717"/><stop offset="0.485" stop-color="#a61515"/><stop offset="0.515" stop-color="#a21616"/><stop offset="0.545" stop-color="#9e1818"/><stop offset="0.576" stop-color="#941c1c"/><stop offset="0.606" stop-color="#822323"/><stop offset="0.636" stop-color="#752828"/><stop offset="0.667" stop-color="#6e2b2b"/><stop offset="0.697" stop-color="#623030"/><stop offset="0.727" stop-color="#503838"/><stop offset="0.758" stop-color="#513838"/><stop offset="0.788" stop-color="#613131"/><stop offset="0.818" stop-color="#682d2d"/><stop offset="0.848" stop-color="#6a2d2d"/><stop offset="0.879" stop-color="#6a2d2d"/><stop offset="0.909" stop-color="#6a2d2d"/><stop offset="0.939" stop-color="#6a2d2d"/><stop offset="0.970" stop-color="#6a2d2d"/><stop offset="1.000" stop-color="#6a2d2d"/></linearGradient><linearGradient id="h2_5" gradientUnits="userSpaceOnUse" x1="733.2" y1="0" x2="997.2" y2="0"><stop offset="0.000" stop-color="#692d2d"/><stop offset="0.030" stop-color="#672e2e"/><stop offset="0.061" stop-color="#5d3333"/><stop offset="0.091" stop-color="#4f3939"/><stop offset="0.121" stop-color="#503838"/><stop offset="0.152" stop-color="#5f3232"/><stop offset="0.182" stop-color="#6a2c2c"/><stop offset="0.212" stop-color="#732929"/><stop offset="0.242" stop-color="#792626"/><stop offset="0.273" stop-color="#7b2525"/><stop offset="0.303" stop-color="#7a2626"/><stop offset="0.333" stop-color="#7a2626"/><stop offset="0.364" stop-color="#7d2424"/><stop offset="0.394" stop-color="#872121"/><stop offset="0.424" stop-color="#991a1a"/><stop offset="0.455" stop-color="#b10f0f"/><stop offset="0.485" stop-color="#bb0b0b"/><stop offset="0.515" stop-color="#ae1111"/><stop offset="0.545" stop-color="#a41616"/><stop offset="0.576" stop-color="#971b1b"/><stop offset="0.606" stop-color="#842222"/><stop offset="0.636" stop-color="#762727"/><stop offset="0.667" stop-color="#6f2b2b"/><stop offset="0.697" stop-color="#623030"/><stop offset="0.727" stop-color="#503939"/><stop offset="0.758" stop-color="#503939"/><stop offset="0.788" stop-color="#603131"/><stop offset="0.818" stop-color="#682e2e"/><stop offset="0.848" stop-color="#692d2d"/><stop offset="0.879" stop-color="#6a2d2d"/><stop offset="0.909" stop-color="#6a2d2d"/><stop offset="0.939" stop-color="#6a2d2d"/><stop offset="0.970" stop-color="#6a2d2d"/><stop offset="1.000" stop-color="#6a2d2d"/></linearGradient><linearGradient id="h2_6" gradientUnits="userSpaceOnUse" x1="733.2" y1="0" x2="997.2" y2="0"><stop offset="0.000" stop-color="#692d2d"/><stop offset="0.030" stop-color="#672e2e"/><stop offset="0.061" stop-color="#5c3333"/><stop offset="0.091" stop-color="#4d3a3a"/><stop offset="0.121" stop-color="#4f3939"/><stop offset="0.152" stop-color="#603131"/><stop offset="0.182" stop-color="#6c2c2c"/><stop offset="0.212" stop-color="#752828"/><stop offset="0.242" stop-color="#7b2525"/><stop offset="0.273" stop-color="#7d2424"/><stop offset="0.303" stop-color="#7c2525"/><stop offset="0.333" stop-color="#7c2525"/><stop offset="0.364" stop-color="#812323"/><stop offset="0.394" stop-color="#8c1f1f"/><stop offset="0.424" stop-color="#a21616"/><stop offset="0.455" stop-color="#c70505"/><stop offset="0.485" stop-color="#ce0a02"/><stop offset="0.515" stop-color="#bd0a0a"/><stop offset="0.545" stop-color="#ab1313"/><stop offset="0.576" stop-color="#9b1919"/><stop offset="0.606" stop-color="#872121"/><stop offset="0.636" stop-color="#782727"/><stop offset="0.667" stop-color="#6f2a2a"/><stop offset="0.697" stop-color="#633030"/><stop offset="0.727" stop-color="#4f3939"/><stop offset="0.758" stop-color="#503939"/><stop offset="0.788" stop-color="#603131"/><stop offset="0.818" stop-color="#672e2e"/><stop offset="0.848" stop-color="#682d2d"/><stop offset="0.879" stop-color="#6a2d2d"/><stop offset="0.909" stop-color="#6a2d2d"/><stop offset="0.939" stop-color="#6a2d2d"/><stop offset="0.970" stop-color="#6a2d2d"/><stop offset="1.000" stop-color="#6a2d2d"/></linearGradient><linearGradient id="h2_7" gradientUnits="userSpaceOnUse" x1="733.2" y1="0" x2="997.2" y2="0"><stop offset="0.000" stop-color="#6a2d2d"/><stop offset="0.030" stop-color="#672e2e"/><stop offset="0.061" stop-color="#5c3333"/><stop offset="0.091" stop-color="#4b3b3b"/><stop offset="0.121" stop-color="#4f3939"/><stop offset="0.152" stop-color="#613131"/><stop offset="0.182" stop-color="#6f2a2a"/><stop offset="0.212" stop-color="#782626"/><stop offset="0.242" stop-color="#7e2424"/><stop offset="0.273" stop-color="#802323"/><stop offset="0.303" stop-color="#7f2424"/><stop offset="0.333" stop-color="#7f2424"/><stop offset="0.364" stop-color="#842222"/><stop offset="0.394" stop-color="#911d1d"/><stop offset="0.424" stop-color="#ad1111"/><stop offset="0.455" stop-color="#d21901"/><stop offset="0.485" stop-color="#d62a01"/><stop offset="0.515" stop-color="#cc0202"/><stop offset="0.545" stop-color="#b30e0e"/><stop offset="0.576" stop-color="#9f1818"/><stop offset="0.606" stop-color="#892020"/><stop offset="0.636" stop-color="#792626"/><stop offset="0.667" stop-color="#712a2a"/><stop offset="0.697" stop-color="#643030"/><stop offset="0.727" stop-color="#503838"/><stop offset="0.758" stop-color="#503939"/><stop offset="0.788" stop-color="#5f3232"/><stop offset="0.818" stop-color="#652f2f"/><stop offset="0.848" stop-color="#672e2e"/><stop offset="0.879" stop-color="#692d2d"/><stop offset="0.909" stop-color="#6a2d2d"/><stop offset="0.939" stop-color="#6a2d2d"/><stop offset="0.970" stop-color="#6a2d2d"/><stop offset="1.000" stop-color="#6a2d2d"/></linearGradient><linearGradient id="h2_8" gradientUnits="userSpaceOnUse" x1="733.2" y1="0" x2="997.2" y2="0"><stop offset="0.000" stop-color="#6a2d2d"/><stop offset="0.030" stop-color="#672e2e"/><stop offset="0.061" stop-color="#5b3333"/><stop offset="0.091" stop-color="#4b3b3b"/><stop offset="0.121" stop-color="#4f3939"/><stop offset="0.152" stop-color="#633030"/><stop offset="0.182" stop-color="#722929"/><stop offset="0.212" stop-color="#7c2525"/><stop offset="0.242" stop-color="#822323"/><stop offset="0.273" stop-color="#842222"/><stop offset="0.303" stop-color="#822323"/><stop offset="0.333" stop-color="#822323"/><stop offset="0.364" stop-color="#882020"/><stop offset="0.394" stop-color="#971b1b"/><stop offset="0.424" stop-color="#ba0b0b"/><stop offset="0.455" stop-color="#d93300"/><stop offset="0.485" stop-color="#dd4500"/><stop offset="0.515" stop-color="#d11601"/><stop offset="0.545" stop-color="#bc0a0a"/><stop offset="0.576" stop-color="#a31616"/><stop offset="0.606" stop-color="#8b1f1f"/><stop offset="0.636" stop-color="#7b2525"/><stop offset="0.667" stop-color="#722929"/><stop offset="0.697" stop-color="#652f2f"/><stop offset="0.727" stop-color="#523838"/><stop offset="0.758" stop-color="#523838"/><stop offset="0.788" stop-color="#5f3232"/><stop offset="0.818" stop-color="#633030"/><stop offset="0.848" stop-color="#652f2f"/><stop offset="0.879" stop-color="#692d2d"/><stop offset="0.909" stop-color="#6a2d2d"/><stop offset="0.939" stop-color="#6a2d2d"/><stop offset="0.970" stop-color="#6a2d2d"/><stop offset="1.000" stop-color="#6a2d2d"/></linearGradient><linearGradient id="h2_9" gradientUnits="userSpaceOnUse" x1="733.2" y1="0" x2="997.2" y2="0"><stop offset="0.000" stop-color="#6a2c2c"/><stop offset="0.030" stop-color="#682e2e"/><stop offset="0.061" stop-color="#5c3333"/><stop offset="0.091" stop-color="#4a3b3b"/><stop offset="0.121" stop-color="#503939"/><stop offset="0.152" stop-color="#662f2f"/><stop offset="0.182" stop-color="#762727"/><stop offset="0.212" stop-color="#802323"/><stop offset="0.242" stop-color="#872121"/><stop offset="0.273" stop-color="#882020"/><stop offset="0.303" stop-color="#862121"/><stop offset="0.333" stop-color="#862121"/><stop offset="0.364" stop-color="#8c1f1f"/><stop offset="0.394" stop-color="#9d1818"/><stop offset="0.424" stop-color="#c60505"/><stop offset="0.455" stop-color="#dd4700"/><stop offset="0.485" stop-color="#e15a00"/><stop offset="0.515" stop-color="#d52601"/><stop offset="0.545" stop-color="#c50606"/><stop offset="0.576" stop-color="#a71515"/><stop offset="0.606" stop-color="#8e1e1e"/><stop offset="0.636" stop-color="#7d2525"/><stop offset="0.667" stop-color="#732828"/><stop offset="0.697" stop-color="#672e2e"/><stop offset="0.727" stop-color="#553636"/><stop offset="0.758" stop-color="#543737"/><stop offset="0.788" stop-color="#5e3232"/><stop offset="0.818" stop-color="#603131"/><stop offset="0.848" stop-color="#623030"/><stop offset="0.879" stop-color="#682d2d"/><stop offset="0.909" stop-color="#6a2c2c"/><stop offset="0.939" stop-color="#6a2c2c"/><stop offset="0.970" stop-color="#6a2d2d"/><stop offset="1.000" stop-color="#6a2d2d"/></linearGradient><linearGradient id="h2_10" gradientUnits="userSpaceOnUse" x1="733.2" y1="0" x2="997.2" y2="0"><stop offset="0.000" stop-color="#6b2c2c"/><stop offset="0.030" stop-color="#682d2d"/><stop offset="0.061" stop-color="#5c3333"/><stop offset="0.091" stop-color="#4a3b3b"/><stop offset="0.121" stop-color="#513838"/><stop offset="0.152" stop-color="#692d2d"/><stop offset="0.182" stop-color="#7a2626"/><stop offset="0.212" stop-color="#852121"/><stop offset="0.242" stop-color="#8c1f1f"/><stop offset="0.273" stop-color="#8d1e1e"/><stop offset="0.303" stop-color="#8b1f1f"/><stop offset="0.333" stop-color="#8a2020"/><stop offset="0.364" stop-color="#901d1d"/><stop offset="0.394" stop-color="#a21616"/><stop offset="0.424" stop-color="#cd0702"/><stop offset="0.455" stop-color="#e05600"/><stop offset="0.485" stop-color="#e36800"/><stop offset="0.515" stop-color="#d93400"/><stop offset="0.545" stop-color="#cc0202"/><stop offset="0.576" stop-color="#ab1212"/><stop offset="0.606" stop-color="#901d1d"/><stop offset="0.636" stop-color="#7e2424"/><stop offset="0.667" stop-color="#742828"/><stop offset="0.697" stop-color="#692d2d"/><stop offset="0.727" stop-color="#593535"/><stop offset="0.758" stop-color="#573636"/><stop offset="0.788" stop-color="#5e3232"/><stop offset="0.818" stop-color="#5c3333"/><stop offset="0.848" stop-color="#5f3232"/><stop offset="0.879" stop-color="#672e2e"/><stop offset="0.909" stop-color="#6a2c2c"/><stop offset="0.939" stop-color="#6a2c2c"/><stop offset="0.970" stop-color="#6a2d2d"/><stop offset="1.000" stop-color="#6a2d2d"/></linearGradient><linearGradient id="h2_11" gradientUnits="userSpaceOnUse" x1="733.2" y1="0" x2="997.2" y2="0"><stop offset="0.000" stop-color="#6b2c2c"/><stop offset="0.030" stop-color="#692d2d"/><stop offset="0.061" stop-color="#5d3333"/><stop offset="0.091" stop-color="#4b3b3b"/><stop offset="0.121" stop-color="#533737"/><stop offset="0.152" stop-color="#6c2c2c"/><stop offset="0.182" stop-color="#7e2424"/><stop offset="0.212" stop-color="#8b1f1f"/><stop offset="0.242" stop-color="#931c1c"/><stop offset="0.273" stop-color="#951b1b"/><stop offset="0.303" stop-color="#911d1d"/><stop offset="0.333" stop-color="#8f1e1e"/><stop offset="0.364" stop-color="#951b1b"/><stop offset="0.394" stop-color="#a81414"/><stop offset="0.424" stop-color="#d11401"/><stop offset="0.455" stop-color="#e26100"/><stop offset="0.485" stop-color="#e57000"/><stop offset="0.515" stop-color="#dc3e00"/><stop offset="0.545" stop-color="#cf0d02"/><stop offset="0.576" stop-color="#b11010"/><stop offset="0.606" stop-color="#931c1c"/><stop offset="0.636" stop-color="#7f2424"/><stop offset="0.667" stop-color="#752727"/><stop offset="0.697" stop-color="#6b2c2c"/><stop offset="0.727" stop-color="#5c3333"/><stop offset="0.758" stop-color="#5a3434"/><stop offset="0.788" stop-color="#5d3232"/><stop offset="0.818" stop-color="#583535"/><stop offset="0.848" stop-color="#5c3333"/><stop offset="0.879" stop-color="#662e2e"/><stop offset="0.909" stop-color="#6a2c2c"/><stop offset="0.939" stop-color="#6a2c2c"/><stop offset="0.970" stop-color="#6a2d2d"/><stop offset="1.000" stop-color="#6a2d2d"/></linearGradient><linearGradient id="h2_12" gradientUnits="userSpaceOnUse" x1="733.2" y1="0" x2="997.2" y2="0"><stop offset="0.000" stop-color="#6c2c2c"/><stop offset="0.030" stop-color="#6a2d2d"/><stop offset="0.061" stop-color="#5e3232"/><stop offset="0.091" stop-color="#4c3a3a"/><stop offset="0.121" stop-color="#553636"/><stop offset="0.152" stop-color="#702a2a"/><stop offset="0.182" stop-color="#842222"/><stop offset="0.212" stop-color="#921c1c"/><stop offset="0.242" stop-color="#9c1919"/><stop offset="0.273" stop-color="#9e1818"/><stop offset="0.303" stop-color="#991a1a"/><stop offset="0.333" stop-color="#951b1b"/><stop offset="0.364" stop-color="#991a1a"/><stop offset="0.394" stop-color="#af1111"/><stop offset="0.424" stop-color="#d42001"/><stop offset="0.455" stop-color="#e36a00"/><stop offset="0.485" stop-color="#e67800"/><stop offset="0.515" stop-color="#de4900"/><stop offset="0.545" stop-color="#d11601"/><stop offset="0.576" stop-color="#b50d0d"/><stop offset="0.606" stop-color="#951b1b"/><stop offset="0.636" stop-color="#802323"/><stop offset="0.667" stop-color="#762727"/><stop offset="0.697" stop-color="#6d2b2b"/><stop offset="0.727" stop-color="#603131"/><stop offset="0.758" stop-color="#5d3232"/><stop offset="0.788" stop-color="#5d3333"/><stop offset="0.818" stop-color="#543737"/><stop offset="0.848" stop-color="#593535"/><stop offset="0.879" stop-color="#652f2f"/><stop offset="0.909" stop-color="#6a2c2c"/><stop offset="0.939" stop-color="#6b2c2c"/><stop offset="0.970" stop-color="#6a2c2c"/><stop offset="1.000" stop-color="#6a2d2d"/></linearGradient><linearGradient id="h2_13" gradientUnits="userSpaceOnUse" x1="733.2" y1="0" x2="997.2" y2="0"><stop offset="0.000" stop-color="#6c2c2c"/><stop offset="0.030" stop-color="#6b2c2c"/><stop offset="0.061" stop-color="#5f3232"/><stop offset="0.091" stop-color="#4e3a3a"/><stop offset="0.121" stop-color="#573535"/><stop offset="0.152" stop-color="#742828"/><stop offset="0.182" stop-color="#8a2020"/><stop offset="0.212" stop-color="#9a1919"/><stop offset="0.242" stop-color="#a71414"/><stop offset="0.273" stop-color="#aa1313"/><stop offset="0.303" stop-color="#a31616"/><stop offset="0.333" stop-color="#9c1919"/><stop offset="0.364" stop-color="#9d1818"/><stop offset="0.394" stop-color="#b40e0e"/><stop offset="0.424" stop-color="#d62a01"/><stop offset="0.455" stop-color="#e57400"/><stop offset="0.485" stop-color="#e77f00"/><stop offset="0.515" stop-color="#df5300"/><stop offset="0.545" stop-color="#d31f01"/><stop offset="0.576" stop-color="#ba0b0b"/><stop offset="0.606" stop-color="#971b1b"/><stop offset="0.636" stop-color="#802323"/><stop offset="0.667" stop-color="#752828"/><stop offset="0.697" stop-color="#6e2b2b"/><stop offset="0.727" stop-color="#642f2f"/><stop offset="0.758" stop-color="#613131"/><stop offset="0.788" stop-color="#5d3333"/><stop offset="0.818" stop-color="#513838"/><stop offset="0.848" stop-color="#563636"/><stop offset="0.879" stop-color="#652f2f"/><stop offset="0.909" stop-color="#6a2c2c"/><stop offset="0.939" stop-color="#6b2c2c"/><stop offset="0.970" stop-color="#6a2c2c"/><stop offset="1.000" stop-color="#6a2d2d"/></linearGradient><linearGradient id="h2_14" gradientUnits="userSpaceOnUse" x1="733.2" y1="0" x2="997.2" y2="0"><stop offset="0.000" stop-color="#6d2b2b"/><stop offset="0.030" stop-color="#6c2c2c"/><stop offset="0.061" stop-color="#603131"/><stop offset="0.091" stop-color="#503939"/><stop offset="0.121" stop-color="#5b3434"/><stop offset="0.152" stop-color="#792626"/><stop offset="0.182" stop-color="#901d1d"/><stop offset="0.212" stop-color="#a41515"/><stop offset="0.242" stop-color="#b90c0c"/><stop offset="0.273" stop-color="#be0909"/><stop offset="0.303" stop-color="#b20f0f"/><stop offset="0.333" stop-color="#a31616"/><stop offset="0.364" stop-color="#9e1818"/><stop offset="0.394" stop-color="#b40e0e"/><stop offset="0.424" stop-color="#d83200"/><stop offset="0.455" stop-color="#e77f00"/><stop offset="0.485" stop-color="#e98800"/><stop offset="0.515" stop-color="#e15d00"/><stop offset="0.545" stop-color="#d62701"/><stop offset="0.576" stop-color="#be0909"/><stop offset="0.606" stop-color="#981a1a"/><stop offset="0.636" stop-color="#7f2424"/><stop offset="0.667" stop-color="#732828"/><stop offset="0.697" stop-color="#6f2a2a"/><stop offset="0.727" stop-color="#682d2d"/><stop offset="0.758" stop-color="#642f2f"/><stop offset="0.788" stop-color="#5d3232"/><stop offset="0.818" stop-color="#4f3939"/><stop offset="0.848" stop-color="#543737"/><stop offset="0.879" stop-color="#642f2f"/><stop offset="0.909" stop-color="#6a2c2c"/><stop offset="0.939" stop-color="#6b2c2c"/><stop offset="0.970" stop-color="#6a2c2c"/><stop offset="1.000" stop-color="#6a2d2d"/></linearGradient><linearGradient id="h2_15" gradientUnits="userSpaceOnUse" x1="733.2" y1="0" x2="997.2" y2="0"><stop offset="0.000" stop-color="#6e2b2b"/><stop offset="0.030" stop-color="#6d2b2b"/><stop offset="0.061" stop-color="#623030"/><stop offset="0.091" stop-color="#533737"/><stop offset="0.121" stop-color="#5e3232"/><stop offset="0.152" stop-color="#7e2424"/><stop offset="0.182" stop-color="#981a1a"/><stop offset="0.212" stop-color="#b10f0f"/><stop offset="0.242" stop-color="#cc0302"/><stop offset="0.273" stop-color="#cf0d02"/><stop offset="0.303" stop-color="#c40606"/><stop offset="0.333" stop-color="#aa1313"/><stop offset="0.364" stop-color="#9c1919"/><stop offset="0.394" stop-color="#ad1111"/><stop offset="0.424" stop-color="#da3700"/><stop offset="0.455" stop-color="#ea8b00"/><stop offset="0.485" stop-color="#ec9400"/><stop offset="0.515" stop-color="#e36800"/><stop offset="0.545" stop-color="#d83001"/><stop offset="0.576" stop-color="#c30707"/><stop offset="0.606" stop-color="#991a1a"/><stop offset="0.636" stop-color="#7d2525"/><stop offset="0.667" stop-color="#702a2a"/><stop offset="0.697" stop-color="#6f2a2a"/><stop offset="0.727" stop-color="#6c2c2c"/><stop offset="0.758" stop-color="#682e2e"/><stop offset="0.788" stop-color="#5f3232"/><stop offset="0.818" stop-color="#4f3939"/><stop offset="0.848" stop-color="#543737"/><stop offset="0.879" stop-color="#642f2f"/><stop offset="0.909" stop-color="#6b2c2c"/><stop offset="0.939" stop-color="#6b2c2c"/><stop offset="0.970" stop-color="#6a2c2c"/><stop offset="1.000" stop-color="#6a2d2d"/></linearGradient><linearGradient id="h2_16" gradientUnits="userSpaceOnUse" x1="733.2" y1="0" x2="997.2" y2="0"><stop offset="0.000" stop-color="#6e2b2b"/><stop offset="0.030" stop-color="#6e2b2b"/><stop offset="0.061" stop-color="#642f2f"/><stop offset="0.091" stop-color="#563636"/><stop offset="0.121" stop-color="#633030"/><stop offset="0.152" stop-color="#842222"/><stop offset="0.182" stop-color="#9f1717"/><stop offset="0.212" stop-color="#c10808"/><stop offset="0.242" stop-color="#d42001"/><stop offset="0.273" stop-color="#d72d01"/><stop offset="0.303" stop-color="#d01102"/><stop offset="0.333" stop-color="#b30f0f"/><stop offset="0.364" stop-color="#951b1b"/><stop offset="0.394" stop-color="#a21616"/><stop offset="0.424" stop-color="#da3800"/><stop offset="0.455" stop-color="#ec9800"/><stop offset="0.485" stop-color="#eea100"/><stop offset="0.515" stop-color="#e57400"/><stop offset="0.545" stop-color="#da3800"/><stop offset="0.576" stop-color="#c70404"/><stop offset="0.606" stop-color="#9a1919"/><stop offset="0.636" stop-color="#7a2626"/><stop offset="0.667" stop-color="#6c2c2c"/><stop offset="0.697" stop-color="#6f2a2a"/><stop offset="0.727" stop-color="#6f2a2a"/><stop offset="0.758" stop-color="#6b2c2c"/><stop offset="0.788" stop-color="#613131"/><stop offset="0.818" stop-color="#503838"/><stop offset="0.848" stop-color="#553636"/><stop offset="0.879" stop-color="#652f2f"/><stop offset="0.909" stop-color="#6b2c2c"/><stop offset="0.939" stop-color="#6b2c2c"/><stop offset="0.970" stop-color="#6b2c2c"/><stop offset="1.000" stop-color="#6a2d2d"/></linearGradient><linearGradient id="h2_17" gradientUnits="userSpaceOnUse" x1="733.2" y1="0" x2="997.2" y2="0"><stop offset="0.000" stop-color="#6f2a2a"/><stop offset="0.030" stop-color="#702a2a"/><stop offset="0.061" stop-color="#672e2e"/><stop offset="0.091" stop-color="#5a3434"/><stop offset="0.121" stop-color="#682e2e"/><stop offset="0.152" stop-color="#8a2020"/><stop offset="0.182" stop-color="#a71414"/><stop offset="0.212" stop-color="#cd0802"/><stop offset="0.242" stop-color="#db3c00"/><stop offset="0.273" stop-color="#de4c00"/><stop offset="0.303" stop-color="#d72c01"/><stop offset="0.333" stop-color="#ba0b0b"/><stop offset="0.364" stop-color="#8d1f1f"/><stop offset="0.394" stop-color="#961b1b"/><stop offset="0.424" stop-color="#da3700"/><stop offset="0.455" stop-color="#efa500"/><stop offset="0.485" stop-color="#f1af00"/><stop offset="0.515" stop-color="#e77f00"/><stop offset="0.545" stop-color="#dc4100"/><stop offset="0.576" stop-color="#cc0202"/><stop offset="0.606" stop-color="#9c1818"/><stop offset="0.636" stop-color="#782727"/><stop offset="0.667" stop-color="#692d2d"/><stop offset="0.697" stop-color="#702a2a"/><stop offset="0.727" stop-color="#732929"/><stop offset="0.758" stop-color="#6f2a2a"/><stop offset="0.788" stop-color="#642f2f"/><stop offset="0.818" stop-color="#543737"/><stop offset="0.848" stop-color="#573535"/><stop offset="0.879" stop-color="#662f2f"/><stop offset="0.909" stop-color="#6b2c2c"/><stop offset="0.939" stop-color="#6b2c2c"/><stop offset="0.970" stop-color="#6b2c2c"/><stop offset="1.000" stop-color="#6a2d2d"/></linearGradient><linearGradient id="h2_18" gradientUnits="userSpaceOnUse" x1="733.2" y1="0" x2="997.2" y2="0"><stop offset="0.000" stop-color="#702a2a"/><stop offset="0.030" stop-color="#712929"/><stop offset="0.061" stop-color="#6a2d2d"/><stop offset="0.091" stop-color="#5e3232"/><stop offset="0.121" stop-color="#6d2b2b"/><stop offset="0.152" stop-color="#901d1d"/><stop offset="0.182" stop-color="#b10f0f"/><stop offset="0.212" stop-color="#d21b01"/><stop offset="0.242" stop-color="#e05600"/><stop offset="0.273" stop-color="#e36900"/><stop offset="0.303" stop-color="#dd4500"/><stop offset="0.333" stop-color="#c40606"/><stop offset="0.364" stop-color="#882020"/><stop offset="0.394" stop-color="#8e1e1e"/><stop offset="0.424" stop-color="#da3900"/><stop offset="0.455" stop-color="#f1b100"/><stop offset="0.485" stop-color="#f3ba00"/><stop offset="0.515" stop-color="#e98900"/><stop offset="0.545" stop-color="#de4a00"/><stop offset="0.576" stop-color="#ce0a02"/><stop offset="0.606" stop-color="#9f1717"/><stop offset="0.636" stop-color="#782626"/><stop offset="0.667" stop-color="#682d2d"/><stop offset="0.697" stop-color="#722929"/><stop offset="0.727" stop-color="#772727"/><stop offset="0.758" stop-color="#732828"/><stop offset="0.788" stop-color="#682e2e"/><stop offset="0.818" stop-color="#593535"/><stop offset="0.848" stop-color="#5b3434"/><stop offset="0.879" stop-color="#672e2e"/><stop offset="0.909" stop-color="#6c2c2c"/><stop offset="0.939" stop-color="#6b2c2c"/><stop offset="0.970" stop-color="#6b2c2c"/><stop offset="1.000" stop-color="#6a2c2c"/></linearGradient><linearGradient id="h2_19" gradientUnits="userSpaceOnUse" x1="733.2" y1="0" x2="997.2" y2="0"><stop offset="0.000" stop-color="#712929"/><stop offset="0.030" stop-color="#732929"/><stop offset="0.061" stop-color="#6c2b2b"/><stop offset="0.091" stop-color="#633030"/><stop offset="0.121" stop-color="#732828"/><stop offset="0.152" stop-color="#961b1b"/><stop offset="0.182" stop-color="#bc0a0a"/><stop offset="0.212" stop-color="#d72d01"/><stop offset="0.242" stop-color="#e46c00"/><stop offset="0.273" stop-color="#e88000"/><stop offset="0.303" stop-color="#e15e00"/><stop offset="0.333" stop-color="#ce0a02"/><stop offset="0.364" stop-color="#8d1e1e"/><stop offset="0.394" stop-color="#911d1d"/><stop offset="0.424" stop-color="#dc4200"/><stop offset="0.455" stop-color="#f3bb00"/><stop offset="0.485" stop-color="#f4c200"/><stop offset="0.515" stop-color="#eb9000"/><stop offset="0.545" stop-color="#df5200"/><stop offset="0.576" stop-color="#d01301"/><stop offset="0.606" stop-color="#a41616"/><stop offset="0.636" stop-color="#7d2525"/><stop offset="0.667" stop-color="#6d2b2b"/><stop offset="0.697" stop-color="#762727"/><stop offset="0.727" stop-color="#7b2525"/><stop offset="0.758" stop-color="#772727"/><stop offset="0.788" stop-color="#6c2b2b"/><stop offset="0.818" stop-color="#5f3232"/><stop offset="0.848" stop-color="#603131"/><stop offset="0.879" stop-color="#692d2d"/><stop offset="0.909" stop-color="#6c2c2c"/><stop offset="0.939" stop-color="#6c2c2c"/><stop offset="0.970" stop-color="#6b2c2c"/><stop offset="1.000" stop-color="#6a2c2c"/></linearGradient><linearGradient id="h2_20" gradientUnits="userSpaceOnUse" x1="733.2" y1="0" x2="997.2" y2="0"><stop offset="0.000" stop-color="#722929"/><stop offset="0.030" stop-color="#742828"/><stop offset="0.061" stop-color="#702a2a"/><stop offset="0.091" stop-color="#682d2d"/><stop offset="0.121" stop-color="#7a2626"/><stop offset="0.152" stop-color="#9e1818"/><stop offset="0.182" stop-color="#c70404"/><stop offset="0.212" stop-color="#dc3e00"/><stop offset="0.242" stop-color="#e77f00"/><stop offset="0.273" stop-color="#ec9500"/><stop offset="0.303" stop-color="#e67a00"/><stop offset="0.333" stop-color="#d62901"/><stop offset="0.364" stop-color="#a01717"/><stop offset="0.394" stop-color="#a21616"/><stop offset="0.424" stop-color="#e05700"/><stop offset="0.455" stop-color="#f4c200"/><stop offset="0.485" stop-color="#f5c500"/><stop offset="0.515" stop-color="#ec9400"/><stop offset="0.545" stop-color="#e15a00"/><stop offset="0.576" stop-color="#d31c01"/><stop offset="0.606" stop-color="#ab1313"/><stop offset="0.636" stop-color="#852222"/><stop offset="0.667" stop-color="#752828"/><stop offset="0.697" stop-color="#7d2525"/><stop offset="0.727" stop-color="#802323"/><stop offset="0.758" stop-color="#7c2525"/><stop offset="0.788" stop-color="#712929"/><stop offset="0.818" stop-color="#652f2f"/><stop offset="0.848" stop-color="#642f2f"/><stop offset="0.879" stop-color="#6b2c2c"/><stop offset="0.909" stop-color="#6d2b2b"/><stop offset="0.939" stop-color="#6c2c2c"/><stop offset="0.970" stop-color="#6b2c2c"/><stop offset="1.000" stop-color="#6a2c2c"/></linearGradient><linearGradient id="h2_21" gradientUnits="userSpaceOnUse" x1="733.2" y1="0" x2="997.2" y2="0"><stop offset="0.000" stop-color="#722929"/><stop offset="0.030" stop-color="#762727"/><stop offset="0.061" stop-color="#732929"/><stop offset="0.091" stop-color="#6e2b2b"/><stop offset="0.121" stop-color="#812323"/><stop offset="0.152" stop-color="#a61515"/><stop offset="0.182" stop-color="#cf0e02"/><stop offset="0.212" stop-color="#e05400"/><stop offset="0.242" stop-color="#ec9400"/><stop offset="0.273" stop-color="#f0ad00"/><stop offset="0.303" stop-color="#ed9900"/><stop offset="0.333" stop-color="#e05800"/><stop offset="0.364" stop-color="#c80404"/><stop offset="0.394" stop-color="#c80404"/><stop offset="0.424" stop-color="#e57500"/><stop offset="0.455" stop-color="#f5c600"/><stop offset="0.485" stop-color="#f4c200"/><stop offset="0.515" stop-color="#ec9400"/><stop offset="0.545" stop-color="#e15f00"/><stop offset="0.576" stop-color="#d52401"/><stop offset="0.606" stop-color="#b40e0e"/><stop offset="0.636" stop-color="#8f1e1e"/><stop offset="0.667" stop-color="#802323"/><stop offset="0.697" stop-color="#842222"/><stop offset="0.727" stop-color="#852121"/><stop offset="0.758" stop-color="#802424"/><stop offset="0.788" stop-color="#762727"/><stop offset="0.818" stop-color="#6b2c2c"/><stop offset="0.848" stop-color="#692d2d"/><stop offset="0.879" stop-color="#6d2b2b"/><stop offset="0.909" stop-color="#6d2b2b"/><stop offset="0.939" stop-color="#6c2c2c"/><stop offset="0.970" stop-color="#6b2c2c"/><stop offset="1.000" stop-color="#6a2c2c"/></linearGradient><linearGradient id="h2_22" gradientUnits="userSpaceOnUse" x1="733.2" y1="0" x2="997.2" y2="0"><stop offset="0.000" stop-color="#732828"/><stop offset="0.030" stop-color="#772727"/><stop offset="0.061" stop-color="#762727"/><stop offset="0.091" stop-color="#752828"/><stop offset="0.121" stop-color="#8a2020"/><stop offset="0.152" stop-color="#b30f0f"/><stop offset="0.182" stop-color="#d52501"/><stop offset="0.212" stop-color="#e57000"/><stop offset="0.242" stop-color="#f1ae00"/><stop offset="0.273" stop-color="#f6ca00"/><stop offset="0.303" stop-color="#f4c000"/><stop offset="0.333" stop-color="#eb9200"/><stop offset="0.364" stop-color="#de4b00"/><stop offset="0.394" stop-color="#dd4500"/><stop offset="0.424" stop-color="#ec9500"/><stop offset="0.455" stop-color="#f5c700"/><stop offset="0.485" stop-color="#f3bc00"/><stop offset="0.515" stop-color="#eb9000"/><stop offset="0.545" stop-color="#e26100"/><stop offset="0.576" stop-color="#d72b01"/><stop offset="0.606" stop-color="#bc0a0a"/><stop offset="0.636" stop-color="#991a1a"/><stop offset="0.667" stop-color="#8b1f1f"/><stop offset="0.697" stop-color="#8b1f1f"/><stop offset="0.727" stop-color="#8a2020"/><stop offset="0.758" stop-color="#832222"/><stop offset="0.788" stop-color="#7a2626"/><stop offset="0.818" stop-color="#702a2a"/><stop offset="0.848" stop-color="#6d2b2b"/><stop offset="0.879" stop-color="#6e2b2b"/><stop offset="0.909" stop-color="#6d2b2b"/><stop offset="0.939" stop-color="#6c2c2c"/><stop offset="0.970" stop-color="#6b2c2c"/><stop offset="1.000" stop-color="#6a2c2c"/></linearGradient><linearGradient id="h2_23" gradientUnits="userSpaceOnUse" x1="733.2" y1="0" x2="997.2" y2="0"><stop offset="0.000" stop-color="#742828"/><stop offset="0.030" stop-color="#782626"/><stop offset="0.061" stop-color="#7a2626"/><stop offset="0.091" stop-color="#7b2525"/><stop offset="0.121" stop-color="#921c1c"/><stop offset="0.152" stop-color="#c10707"/><stop offset="0.182" stop-color="#db3e00"/><stop offset="0.212" stop-color="#ea8c00"/><stop offset="0.242" stop-color="#f6ca00"/><stop offset="0.273" stop-color="#fbeb00"/><stop offset="0.303" stop-color="#fbea00"/><stop offset="0.333" stop-color="#f6cb00"/><stop offset="0.364" stop-color="#ed9c00"/><stop offset="0.394" stop-color="#ea8e00"/><stop offset="0.424" stop-color="#f1b100"/><stop offset="0.455" stop-color="#f5c500"/><stop offset="0.485" stop-color="#f1b100"/><stop offset="0.515" stop-color="#e98800"/><stop offset="0.545" stop-color="#e25f00"/><stop offset="0.576" stop-color="#d72e01"/><stop offset="0.606" stop-color="#c20707"/><stop offset="0.636" stop-color="#a11717"/><stop offset="0.667" stop-color="#941c1c"/><stop offset="0.697" stop-color="#911d1d"/><stop offset="0.727" stop-color="#8c1f1f"/><stop offset="0.758" stop-color="#852121"/><stop offset="0.788" stop-color="#7c2525"/><stop offset="0.818" stop-color="#732828"/><stop offset="0.848" stop-color="#702a2a"/><stop offset="0.879" stop-color="#6f2a2a"/><stop offset="0.909" stop-color="#6e2b2b"/><stop offset="0.939" stop-color="#6c2c2c"/><stop offset="0.970" stop-color="#6b2c2c"/><stop offset="1.000" stop-color="#6a2c2c"/></linearGradient><linearGradient id="h2_24" gradientUnits="userSpaceOnUse" x1="733.2" y1="0" x2="997.2" y2="0"><stop offset="0.000" stop-color="#742828"/><stop offset="0.030" stop-color="#792626"/><stop offset="0.061" stop-color="#7c2525"/><stop offset="0.091" stop-color="#802323"/><stop offset="0.121" stop-color="#991a1a"/><stop offset="0.152" stop-color="#cc0202"/><stop offset="0.182" stop-color="#df5300"/><stop offset="0.212" stop-color="#eea100"/><stop offset="0.242" stop-color="#f9e000"/><stop offset="0.273" stop-color="#ffff00"/><stop offset="0.303" stop-color="#ffff00"/><stop offset="0.333" stop-color="#fef700"/><stop offset="0.364" stop-color="#f7d300"/><stop offset="0.394" stop-color="#f3be00"/><stop offset="0.424" stop-color="#f4c100"/><stop offset="0.455" stop-color="#f3bd00"/><stop offset="0.485" stop-color="#eea100"/><stop offset="0.515" stop-color="#e77b00"/><stop offset="0.545" stop-color="#e05800"/><stop offset="0.576" stop-color="#d72c01"/><stop offset="0.606" stop-color="#c30606"/><stop offset="0.636" stop-color="#a51515"/><stop offset="0.667" stop-color="#991a1a"/><stop offset="0.697" stop-color="#931c1c"/><stop offset="0.727" stop-color="#8d1e1e"/><stop offset="0.758" stop-color="#862121"/><stop offset="0.788" stop-color="#7d2424"/><stop offset="0.818" stop-color="#762727"/><stop offset="0.848" stop-color="#712929"/><stop offset="0.879" stop-color="#702a2a"/><stop offset="0.909" stop-color="#6e2b2b"/><stop offset="0.939" stop-color="#6c2c2c"/><stop offset="0.970" stop-color="#6b2c2c"/><stop offset="1.000" stop-color="#6a2c2c"/></linearGradient><linearGradient id="h2_25" gradientUnits="userSpaceOnUse" x1="733.2" y1="0" x2="997.2" y2="0"><stop offset="0.000" stop-color="#742828"/><stop offset="0.030" stop-color="#792626"/><stop offset="0.061" stop-color="#7d2424"/><stop offset="0.091" stop-color="#832222"/><stop offset="0.121" stop-color="#9c1919"/><stop offset="0.152" stop-color="#cd0702"/><stop offset="0.182" stop-color="#e05800"/><stop offset="0.212" stop-color="#efa500"/><stop offset="0.242" stop-color="#fae200"/><stop offset="0.273" stop-color="#ffff00"/><stop offset="0.303" stop-color="#ffff00"/><stop offset="0.333" stop-color="#ffff00"/><stop offset="0.364" stop-color="#fbeb00"/><stop offset="0.394" stop-color="#f7cf00"/><stop offset="0.424" stop-color="#f4be00"/><stop offset="0.455" stop-color="#f0aa00"/><stop offset="0.485" stop-color="#e98900"/><stop offset="0.515" stop-color="#e36600"/><stop offset="0.545" stop-color="#de4a00"/><stop offset="0.576" stop-color="#d42201"/><stop offset="0.606" stop-color="#be0909"/><stop offset="0.636" stop-color="#a31616"/><stop offset="0.667" stop-color="#981a1a"/><stop offset="0.697" stop-color="#921d1d"/><stop offset="0.727" stop-color="#8c1f1f"/><stop offset="0.758" stop-color="#852222"/><stop offset="0.788" stop-color="#7d2424"/><stop offset="0.818" stop-color="#762727"/><stop offset="0.848" stop-color="#722929"/><stop offset="0.879" stop-color="#702a2a"/><stop offset="0.909" stop-color="#6e2b2b"/><stop offset="0.939" stop-color="#6c2c2c"/><stop offset="0.970" stop-color="#6b2c2c"/><stop offset="1.000" stop-color="#6a2c2c"/></linearGradient><linearGradient id="h2_26" gradientUnits="userSpaceOnUse" x1="733.2" y1="0" x2="997.2" y2="0"><stop offset="0.000" stop-color="#732828"/><stop offset="0.030" stop-color="#792626"/><stop offset="0.061" stop-color="#7d2525"/><stop offset="0.091" stop-color="#822222"/><stop offset="0.121" stop-color="#9a1919"/><stop offset="0.152" stop-color="#c90404"/><stop offset="0.182" stop-color="#dd4700"/><stop offset="0.212" stop-color="#eb9000"/><stop offset="0.242" stop-color="#f6c900"/><stop offset="0.273" stop-color="#fcf000"/><stop offset="0.303" stop-color="#fffd00"/><stop offset="0.333" stop-color="#fdf400"/><stop offset="0.364" stop-color="#f9dc00"/><stop offset="0.394" stop-color="#f4bf00"/><stop offset="0.424" stop-color="#efa600"/><stop offset="0.455" stop-color="#e98900"/><stop offset="0.485" stop-color="#e36600"/><stop offset="0.515" stop-color="#dd4800"/><stop offset="0.545" stop-color="#d83001"/><stop offset="0.576" stop-color="#ce0a02"/><stop offset="0.606" stop-color="#ac1212"/><stop offset="0.636" stop-color="#971b1b"/><stop offset="0.667" stop-color="#8d1e1e"/><stop offset="0.697" stop-color="#892020"/><stop offset="0.727" stop-color="#862121"/><stop offset="0.758" stop-color="#812323"/><stop offset="0.788" stop-color="#7b2525"/><stop offset="0.818" stop-color="#762727"/><stop offset="0.848" stop-color="#722929"/><stop offset="0.879" stop-color="#6f2a2a"/><stop offset="0.909" stop-color="#6d2b2b"/><stop offset="0.939" stop-color="#6c2c2c"/><stop offset="0.970" stop-color="#6b2c2c"/><stop offset="1.000" stop-color="#6a2c2c"/></linearGradient><linearGradient id="h2_27" gradientUnits="userSpaceOnUse" x1="733.2" y1="0" x2="997.2" y2="0"><stop offset="0.000" stop-color="#722929"/><stop offset="0.030" stop-color="#772727"/><stop offset="0.061" stop-color="#7a2626"/><stop offset="0.091" stop-color="#7f2424"/><stop offset="0.121" stop-color="#941c1c"/><stop offset="0.152" stop-color="#b90c0c"/><stop offset="0.182" stop-color="#d52401"/><stop offset="0.212" stop-color="#e26100"/><stop offset="0.242" stop-color="#ec9600"/><stop offset="0.273" stop-color="#f2b800"/><stop offset="0.303" stop-color="#f5c500"/><stop offset="0.333" stop-color="#f4bf00"/><stop offset="0.364" stop-color="#f0ac00"/><stop offset="0.394" stop-color="#eb9200"/><stop offset="0.424" stop-color="#e67800"/><stop offset="0.455" stop-color="#e05900"/><stop offset="0.485" stop-color="#da3a00"/><stop offset="0.515" stop-color="#d52401"/><stop offset="0.545" stop-color="#cf1002"/><stop offset="0.576" stop-color="#b90c0c"/><stop offset="0.606" stop-color="#971a1a"/><stop offset="0.636" stop-color="#832222"/><stop offset="0.667" stop-color="#7b2525"/><stop offset="0.697" stop-color="#7c2525"/><stop offset="0.727" stop-color="#7d2525"/><stop offset="0.758" stop-color="#7c2525"/><stop offset="0.788" stop-color="#782626"/><stop offset="0.818" stop-color="#742828"/><stop offset="0.848" stop-color="#712929"/><stop offset="0.879" stop-color="#6f2a2a"/><stop offset="0.909" stop-color="#6d2b2b"/><stop offset="0.939" stop-color="#6c2c2c"/><stop offset="0.970" stop-color="#6b2c2c"/><stop offset="1.000" stop-color="#6a2c2c"/></linearGradient><linearGradient id="h2_28" gradientUnits="userSpaceOnUse" x1="733.2" y1="0" x2="997.2" y2="0"><stop offset="0.000" stop-color="#712a2a"/><stop offset="0.030" stop-color="#742828"/><stop offset="0.061" stop-color="#772727"/><stop offset="0.091" stop-color="#7a2626"/><stop offset="0.121" stop-color="#8b1f1f"/><stop offset="0.152" stop-color="#a51515"/><stop offset="0.182" stop-color="#c50505"/><stop offset="0.212" stop-color="#d52501"/><stop offset="0.242" stop-color="#de4d00"/><stop offset="0.273" stop-color="#e46b00"/><stop offset="0.303" stop-color="#e67800"/><stop offset="0.333" stop-color="#e67500"/><stop offset="0.364" stop-color="#e36600"/><stop offset="0.394" stop-color="#df5100"/><stop offset="0.424" stop-color="#db3a00"/><stop offset="0.455" stop-color="#d52501"/><stop offset="0.485" stop-color="#d01002"/><stop offset="0.515" stop-color="#cc0302"/><stop offset="0.545" stop-color="#c30606"/><stop offset="0.576" stop-color="#a91313"/><stop offset="0.606" stop-color="#8e1e1e"/><stop offset="0.636" stop-color="#7a2626"/><stop offset="0.667" stop-color="#742828"/><stop offset="0.697" stop-color="#752828"/><stop offset="0.727" stop-color="#772727"/><stop offset="0.758" stop-color="#782727"/><stop offset="0.788" stop-color="#762727"/><stop offset="0.818" stop-color="#732929"/><stop offset="0.848" stop-color="#702a2a"/><stop offset="0.879" stop-color="#6e2b2b"/><stop offset="0.909" stop-color="#6c2c2c"/><stop offset="0.939" stop-color="#6b2c2c"/><stop offset="0.970" stop-color="#6b2c2c"/><stop offset="1.000" stop-color="#6a2d2d"/></linearGradient><linearGradient id="h2_29" gradientUnits="userSpaceOnUse" x1="733.2" y1="0" x2="997.2" y2="0"><stop offset="0.000" stop-color="#6f2a2a"/><stop offset="0.030" stop-color="#722929"/><stop offset="0.061" stop-color="#742828"/><stop offset="0.091" stop-color="#752727"/><stop offset="0.121" stop-color="#822323"/><stop offset="0.152" stop-color="#951b1b"/><stop offset="0.182" stop-color="#a71414"/><stop offset="0.212" stop-color="#bd0909"/><stop offset="0.242" stop-color="#ce0802"/><stop offset="0.273" stop-color="#d31b01"/><stop offset="0.303" stop-color="#d52501"/><stop offset="0.333" stop-color="#d52401"/><stop offset="0.364" stop-color="#d31c01"/><stop offset="0.394" stop-color="#d01102"/><stop offset="0.424" stop-color="#cc0402"/><stop offset="0.455" stop-color="#c40606"/><stop offset="0.485" stop-color="#bc0a0a"/><stop offset="0.515" stop-color="#ba0b0b"/><stop offset="0.545" stop-color="#b80c0c"/><stop offset="0.576" stop-color="#a71414"/><stop offset="0.606" stop-color="#911d1d"/><stop offset="0.636" stop-color="#802323"/><stop offset="0.667" stop-color="#7a2626"/><stop offset="0.697" stop-color="#782626"/><stop offset="0.727" stop-color="#782727"/><stop offset="0.758" stop-color="#762727"/><stop offset="0.788" stop-color="#742828"/><stop offset="0.818" stop-color="#712929"/><stop offset="0.848" stop-color="#6f2a2a"/><stop offset="0.879" stop-color="#6d2b2b"/><stop offset="0.909" stop-color="#6c2c2c"/><stop offset="0.939" stop-color="#6b2c2c"/><stop offset="0.970" stop-color="#6a2c2c"/><stop offset="1.000" stop-color="#6a2d2d"/></linearGradient><linearGradient id="h2_30" gradientUnits="userSpaceOnUse" x1="733.2" y1="0" x2="997.2" y2="0"><stop offset="0.000" stop-color="#6e2b2b"/><stop offset="0.030" stop-color="#702a2a"/><stop offset="0.061" stop-color="#712a2a"/><stop offset="0.091" stop-color="#712929"/><stop offset="0.121" stop-color="#7a2626"/><stop offset="0.152" stop-color="#892020"/><stop offset="0.182" stop-color="#951b1b"/><stop offset="0.212" stop-color="#a01717"/><stop offset="0.242" stop-color="#a91313"/><stop offset="0.273" stop-color="#b30f0f"/><stop offset="0.303" stop-color="#b70c0c"/><stop offset="0.333" stop-color="#b80c0c"/><stop offset="0.364" stop-color="#b60d0d"/><stop offset="0.394" stop-color="#b20f0f"/><stop offset="0.424" stop-color="#ae1111"/><stop offset="0.455" stop-color="#a91313"/><stop offset="0.485" stop-color="#a71414"/><stop offset="0.515" stop-color="#aa1313"/><stop offset="0.545" stop-color="#ad1111"/><stop offset="0.576" stop-color="#a41616"/><stop offset="0.606" stop-color="#921d1d"/><stop offset="0.636" stop-color="#832222"/><stop offset="0.667" stop-color="#7d2525"/><stop offset="0.697" stop-color="#792626"/><stop offset="0.727" stop-color="#772727"/><stop offset="0.758" stop-color="#742828"/><stop offset="0.788" stop-color="#722929"/><stop offset="0.818" stop-color="#702a2a"/><stop offset="0.848" stop-color="#6e2b2b"/><stop offset="0.879" stop-color="#6c2b2b"/><stop offset="0.909" stop-color="#6b2c2c"/><stop offset="0.939" stop-color="#6b2c2c"/><stop offset="0.970" stop-color="#6a2c2c"/><stop offset="1.000" stop-color="#6a2d2d"/></linearGradient><linearGradient id="h2_31" gradientUnits="userSpaceOnUse" x1="733.2" y1="0" x2="997.2" y2="0"><stop offset="0.000" stop-color="#6d2b2b"/><stop offset="0.030" stop-color="#6e2b2b"/><stop offset="0.061" stop-color="#6e2b2b"/><stop offset="0.091" stop-color="#6e2b2b"/><stop offset="0.121" stop-color="#742828"/><stop offset="0.152" stop-color="#7f2424"/><stop offset="0.182" stop-color="#882020"/><stop offset="0.212" stop-color="#8f1e1e"/><stop offset="0.242" stop-color="#951b1b"/><stop offset="0.273" stop-color="#9a1a1a"/><stop offset="0.303" stop-color="#9c1919"/><stop offset="0.333" stop-color="#9d1818"/><stop offset="0.364" stop-color="#9d1818"/><stop offset="0.394" stop-color="#9c1818"/><stop offset="0.424" stop-color="#9c1919"/><stop offset="0.455" stop-color="#9b1919"/><stop offset="0.485" stop-color="#9b1919"/><stop offset="0.515" stop-color="#9f1717"/><stop offset="0.545" stop-color="#a41616"/><stop offset="0.576" stop-color="#9d1818"/><stop offset="0.606" stop-color="#8d1e1e"/><stop offset="0.636" stop-color="#802323"/><stop offset="0.667" stop-color="#7a2626"/><stop offset="0.697" stop-color="#772727"/><stop offset="0.727" stop-color="#742828"/><stop offset="0.758" stop-color="#722929"/><stop offset="0.788" stop-color="#702a2a"/><stop offset="0.818" stop-color="#6e2b2b"/><stop offset="0.848" stop-color="#6d2b2b"/><stop offset="0.879" stop-color="#6c2c2c"/><stop offset="0.909" stop-color="#6b2c2c"/><stop offset="0.939" stop-color="#6b2c2c"/><stop offset="0.970" stop-color="#6a2d2d"/><stop offset="1.000" stop-color="#6a2d2d"/></linearGradient></defs>
<g clip-path="url(#clip2)"><g filter="url(#hblur)"><rect x="733.2" y="310.2" width="264.0" height="7.6" fill="url(#h2_0)"/><rect x="733.2" y="317.2" width="264.0" height="7.6" fill="url(#h2_1)"/><rect x="733.2" y="324.2" width="264.0" height="7.6" fill="url(#h2_2)"/><rect x="733.2" y="331.2" width="264.0" height="7.6" fill="url(#h2_3)"/><rect x="733.2" y="338.2" width="264.0" height="7.6" fill="url(#h2_4)"/><rect x="733.2" y="345.2" width="264.0" height="7.6" fill="url(#h2_5)"/><rect x="733.2" y="352.2" width="264.0" height="7.6" fill="url(#h2_6)"/><rect x="733.2" y="359.2" width="264.0" height="7.6" fill="url(#h2_7)"/><rect x="733.2" y="366.2" width="264.0" height="7.6" fill="url(#h2_8)"/><rect x="733.2" y="373.2" width="264.0" height="7.6" fill="url(#h2_9)"/><rect x="733.2" y="380.2" width="264.0" height="7.6" fill="url(#h2_10)"/><rect x="733.2" y="387.2" width="264.0" height="7.6" fill="url(#h2_11)"/><rect x="733.2" y="394.2" width="264.0" height="7.6" fill="url(#h2_12)"/><rect x="733.2" y="401.2" width="264.0" height="7.6" fill="url(#h2_13)"/><rect x="733.2" y="408.2" width="264.0" height="7.6" fill="url(#h2_14)"/><rect x="733.2" y="415.2" width="264.0" height="7.6" fill="url(#h2_15)"/><rect x="733.2" y="422.2" width="264.0" height="7.6" fill="url(#h2_16)"/><rect x="733.2" y="429.2" width="264.0" height="7.6" fill="url(#h2_17)"/><rect x="733.2" y="436.2" width="264.0" height="7.6" fill="url(#h2_18)"/><rect x="733.2" y="443.2" width="264.0" height="7.6" fill="url(#h2_19)"/><rect x="733.2" y="450.2" width="264.0" height="7.6" fill="url(#h2_20)"/><rect x="733.2" y="457.2" width="264.0" height="7.6" fill="url(#h2_21)"/><rect x="733.2" y="464.2" width="264.0" height="7.6" fill="url(#h2_22)"/><rect x="733.2" y="471.2" width="264.0" height="7.6" fill="url(#h2_23)"/><rect x="733.2" y="478.2" width="264.0" height="7.6" fill="url(#h2_24)"/><rect x="733.2" y="485.2" width="264.0" height="7.6" fill="url(#h2_25)"/><rect x="733.2" y="492.2" width="264.0" height="7.6" fill="url(#h2_26)"/><rect x="733.2" y="499.2" width="264.0" height="7.6" fill="url(#h2_27)"/><rect x="733.2" y="506.2" width="264.0" height="7.6" fill="url(#h2_28)"/><rect x="733.2" y="513.2" width="264.0" height="7.6" fill="url(#h2_29)"/><rect x="733.2" y="520.2" width="264.0" height="7.6" fill="url(#h2_30)"/><rect x="733.2" y="527.2" width="264.0" height="7.6" fill="url(#h2_31)"/></g></g>
<rect x="749.2" y="324.2" width="224.3" height="189.6" fill="none" stroke="#222" stroke-width="1.3"/>
<line x1="767.7" y1="513.8" x2="767.7" y2="517.3" stroke="#222" stroke-width="1"/>
<text x="767.7" y="529.0" font-size="9.5" fill="#222" text-anchor="middle" font-weight="normal" >2</text>
<line x1="788.3" y1="513.8" x2="788.3" y2="515.8" stroke="#222" stroke-width="1"/>
<line x1="808.9" y1="513.8" x2="808.9" y2="517.3" stroke="#222" stroke-width="1"/>
<text x="808.9" y="529.0" font-size="9.5" fill="#222" text-anchor="middle" font-weight="normal" >4</text>
<line x1="829.5" y1="513.8" x2="829.5" y2="515.8" stroke="#222" stroke-width="1"/>
<line x1="850.0" y1="513.8" x2="850.0" y2="517.3" stroke="#222" stroke-width="1"/>
<text x="850.0" y="529.0" font-size="9.5" fill="#222" text-anchor="middle" font-weight="normal" >6</text>
<line x1="870.6" y1="513.8" x2="870.6" y2="515.8" stroke="#222" stroke-width="1"/>
<line x1="891.2" y1="513.8" x2="891.2" y2="517.3" stroke="#222" stroke-width="1"/>
<text x="891.2" y="529.0" font-size="9.5" fill="#222" text-anchor="middle" font-weight="normal" >8</text>
<line x1="911.8" y1="513.8" x2="911.8" y2="515.8" stroke="#222" stroke-width="1"/>
<line x1="932.3" y1="513.8" x2="932.3" y2="517.3" stroke="#222" stroke-width="1"/>
<text x="932.3" y="529.0" font-size="9.5" fill="#222" text-anchor="middle" font-weight="normal" >10</text>
<line x1="952.9" y1="513.8" x2="952.9" y2="515.8" stroke="#222" stroke-width="1"/>
<line x1="973.5" y1="513.8" x2="973.5" y2="517.3" stroke="#222" stroke-width="1"/>
<text x="973.5" y="529.0" font-size="9.5" fill="#222" text-anchor="middle" font-weight="normal" >12</text>
<line x1="747.2" y1="504.6" x2="749.2" y2="504.6" stroke="#222" stroke-width="1"/>
<line x1="747.2" y1="496.4" x2="749.2" y2="496.4" stroke="#222" stroke-width="1"/>
<line x1="745.7" y1="488.2" x2="749.2" y2="488.2" stroke="#222" stroke-width="1"/>
<text x="744.2" y="491.7" font-size="9.5" fill="#222" text-anchor="end" font-weight="normal" >1.5</text>
<line x1="747.2" y1="480.0" x2="749.2" y2="480.0" stroke="#222" stroke-width="1"/>
<line x1="747.2" y1="471.8" x2="749.2" y2="471.8" stroke="#222" stroke-width="1"/>
<line x1="747.2" y1="463.6" x2="749.2" y2="463.6" stroke="#222" stroke-width="1"/>
<line x1="745.7" y1="455.4" x2="749.2" y2="455.4" stroke="#222" stroke-width="1"/>
<text x="744.2" y="458.9" font-size="9.5" fill="#222" text-anchor="end" font-weight="normal" >2.0</text>
<line x1="747.2" y1="447.2" x2="749.2" y2="447.2" stroke="#222" stroke-width="1"/>
<line x1="747.2" y1="439.0" x2="749.2" y2="439.0" stroke="#222" stroke-width="1"/>
<line x1="747.2" y1="430.8" x2="749.2" y2="430.8" stroke="#222" stroke-width="1"/>
<line x1="745.7" y1="422.6" x2="749.2" y2="422.6" stroke="#222" stroke-width="1"/>
<text x="744.2" y="426.1" font-size="9.5" fill="#222" text-anchor="end" font-weight="normal" >2.5</text>
<line x1="747.2" y1="414.4" x2="749.2" y2="414.4" stroke="#222" stroke-width="1"/>
<line x1="747.2" y1="406.2" x2="749.2" y2="406.2" stroke="#222" stroke-width="1"/>
<line x1="747.2" y1="398.0" x2="749.2" y2="398.0" stroke="#222" stroke-width="1"/>
<line x1="745.7" y1="389.8" x2="749.2" y2="389.8" stroke="#222" stroke-width="1"/>
<text x="744.2" y="393.3" font-size="9.5" fill="#222" text-anchor="end" font-weight="normal" >3.0</text>
<line x1="747.2" y1="381.6" x2="749.2" y2="381.6" stroke="#222" stroke-width="1"/>
<line x1="747.2" y1="373.4" x2="749.2" y2="373.4" stroke="#222" stroke-width="1"/>
<line x1="747.2" y1="365.2" x2="749.2" y2="365.2" stroke="#222" stroke-width="1"/>
<line x1="745.7" y1="357.0" x2="749.2" y2="357.0" stroke="#222" stroke-width="1"/>
<text x="744.2" y="360.5" font-size="9.5" fill="#222" text-anchor="end" font-weight="normal" >3.5</text>
<line x1="747.2" y1="348.8" x2="749.2" y2="348.8" stroke="#222" stroke-width="1"/>
<line x1="747.2" y1="340.6" x2="749.2" y2="340.6" stroke="#222" stroke-width="1"/>
<line x1="747.2" y1="332.4" x2="749.2" y2="332.4" stroke="#222" stroke-width="1"/>
<line x1="745.7" y1="324.2" x2="749.2" y2="324.2" stroke="#222" stroke-width="1"/>
<text x="744.2" y="327.7" font-size="9.5" fill="#222" text-anchor="end" font-weight="normal" >4.0</text>
<linearGradient id="cb2" x1="0" y1="0" x2="0" y2="1"><stop offset="0.00" stop-color="#ffff00"/><stop offset="0.18" stop-color="#f0aa00"/><stop offset="0.28" stop-color="#e67800"/><stop offset="0.38" stop-color="#dc4000"/><stop offset="0.50" stop-color="#cc0202"/><stop offset="0.60" stop-color="#a81414"/><stop offset="0.80" stop-color="#742828"/><stop offset="1.00" stop-color="#404040"/></linearGradient>
<rect x="991.7" y="324.2" width="17.9" height="189.59999999999997" fill="url(#cb2)" stroke="#777" stroke-width="0.8"/>
<line x1="1009.6" y1="513.8" x2="1012.6" y2="513.8" stroke="#444" stroke-width="0.8"/>
<text x="1016.6" y="516.8" font-size="8.6" fill="#222" text-anchor="start" font-weight="normal" >0.000</text>
<line x1="1009.6" y1="475.0" x2="1012.6" y2="475.0" stroke="#444" stroke-width="0.8"/>
<text x="1016.6" y="478.0" font-size="8.6" fill="#222" text-anchor="start" font-weight="normal" >0.1000</text>
<line x1="1009.6" y1="436.2" x2="1012.6" y2="436.2" stroke="#444" stroke-width="0.8"/>
<text x="1016.6" y="439.2" font-size="8.6" fill="#222" text-anchor="start" font-weight="normal" >0.2000</text>
<line x1="1009.6" y1="397.4" x2="1012.6" y2="397.4" stroke="#444" stroke-width="0.8"/>
<text x="1016.6" y="400.4" font-size="8.6" fill="#222" text-anchor="start" font-weight="normal" >0.3000</text>
<line x1="1009.6" y1="358.6" x2="1012.6" y2="358.6" stroke="#444" stroke-width="0.8"/>
<text x="1016.6" y="361.6" font-size="8.6" fill="#222" text-anchor="start" font-weight="normal" >0.4000</text>
<text x="0.0" y="0.0" font-size="13" fill="#222" text-anchor="middle" font-weight="normal" transform="translate(716 411) rotate(-90)">R (Å)</text>
<text x="842.0" y="548.0" font-size="13" fill="#222" text-anchor="start" font-weight="normal" >k (Å<tspan font-size="8.5" dy="-5">-1</tspan><tspan dy="5">)</tspan></text>
<line x1="812.8" y1="443" x2="812.8" y2="510" stroke="#fff" stroke-width="2.6" stroke-dasharray="4 4"/>
<line x1="863.7" y1="325" x2="863.7" y2="509" stroke="#fff" stroke-width="2.6" stroke-dasharray="4 4"/>
<text x="886.6" y="341.5" font-size="10.8" fill="#f4f4f4" text-anchor="start" font-weight="normal" >7.78% Fe/ZnCr</text>
<text x="876.0" y="397.5" font-size="10.8" fill="#f4f4f4" text-anchor="start" font-weight="normal" >Fe-Cr</text>
<text x="876.0" y="413.5" font-size="10.8" fill="#f4f4f4" text-anchor="start" font-weight="normal" >Fe-Fe</text>
<text x="876.0" y="429.7" font-size="10.8" fill="#f4f4f4" text-anchor="start" font-weight="normal" >6.73 Å<tspan font-size="7" dy="-4">-1</tspan></text>
<text x="774.8" y="464.0" font-size="10.8" fill="#f4f4f4" text-anchor="start" font-weight="normal" >Fe-O</text>
<defs><filter id="bl2" x="-20%" y="-20%" width="140%" height="140%"><feGaussianBlur stdDeviation="2"/></filter><filter id="bl3" x="-20%" y="-20%" width="140%" height="140%"><feGaussianBlur stdDeviation="3"/></filter><filter id="bl4" x="-20%" y="-20%" width="140%" height="140%"><feGaussianBlur stdDeviation="4"/></filter><filter id="bl6" x="-20%" y="-20%" width="140%" height="140%"><feGaussianBlur stdDeviation="6"/></filter><radialGradient id="agray" cx="0.5" cy="0.5" r="0.5"><stop offset="0" stop-color="#eeeeea"/><stop offset="0.5" stop-color="#b8b8ad"/><stop offset="1" stop-color="#7d7d70"/></radialGradient><radialGradient id="ablue" cx="0.45" cy="0.4" r="0.6"><stop offset="0" stop-color="#9aa0ff"/><stop offset="0.3" stop-color="#2a2ac8"/><stop offset="1" stop-color="#0a0a60"/></radialGradient><radialGradient id="ared" cx="0.45" cy="0.4" r="0.6"><stop offset="0" stop-color="#ffb0b0"/><stop offset="0.35" stop-color="#ee1010"/><stop offset="1" stop-color="#900000"/></radialGradient></defs>
<clipPath id="ci1"><rect x="39" y="56" width="313" height="315"/></clipPath>
<g clip-path="url(#ci1)"><rect x="39" y="56" width="313" height="315" fill="#090909"/>
<g filter="url(#bl3)">
<ellipse cx="50" cy="280" rx="6" ry="4" transform="rotate(-55 50 280)" fill="#4b4b4b"/>
<ellipse cx="32" cy="269" rx="6" ry="4" transform="rotate(-55 32 269)" fill="#3a3a3a"/>
<ellipse cx="39" cy="322" rx="6" ry="4" transform="rotate(-55 39 322)" fill="#5d5d5d"/>
<ellipse cx="75" cy="345" rx="6" ry="4" transform="rotate(-55 75 345)" fill="#484848"/>
<ellipse cx="58" cy="334" rx="6" ry="4" transform="rotate(-55 58 334)" fill="#333333"/>
<ellipse cx="35" cy="100" rx="6" ry="4" transform="rotate(-55 35 100)" fill="#575757"/>
<ellipse cx="60" cy="165" rx="6" ry="4" transform="rotate(-55 60 165)" fill="#535353"/>
<ellipse cx="43" cy="153" rx="6" ry="4" transform="rotate(-55 43 153)" fill="#3c3c3c"/>
<ellipse cx="49" cy="206" rx="6" ry="4" transform="rotate(-55 49 206)" fill="#5e5e5e"/>
<ellipse cx="85" cy="229" rx="6" ry="4" transform="rotate(-55 85 229)" fill="#464646"/>
<ellipse cx="68" cy="218" rx="6" ry="4" transform="rotate(-55 68 218)" fill="#3b3b3b"/>
<ellipse cx="74" cy="271" rx="6" ry="4" transform="rotate(-55 74 271)" fill="#4c4c4c"/>
<ellipse cx="110" cy="294" rx="6" ry="4" transform="rotate(-55 110 294)" fill="#535353"/>
<ellipse cx="93" cy="283" rx="6" ry="4" transform="rotate(-55 93 283)" fill="#303030"/>
<ellipse cx="100" cy="336" rx="6" ry="4" transform="rotate(-55 100 336)" fill="#5d5d5d"/>
<ellipse cx="135" cy="359" rx="6" ry="4" transform="rotate(-55 135 359)" fill="#4b4b4b"/>
<ellipse cx="118" cy="348" rx="6" ry="4" transform="rotate(-55 118 348)" fill="#2e2e2e"/>
<ellipse cx="70" cy="49" rx="6" ry="4" transform="rotate(-55 70 49)" fill="#5a5a5a"/>
<ellipse cx="60" cy="91" rx="6" ry="4" transform="rotate(-55 60 91)" fill="#5b5b5b"/>
<ellipse cx="95" cy="114" rx="6" ry="4" transform="rotate(-55 95 114)" fill="#555555"/>
<ellipse cx="78" cy="103" rx="6" ry="4" transform="rotate(-55 78 103)" fill="#393939"/>
<ellipse cx="85" cy="155" rx="6" ry="4" transform="rotate(-55 85 155)" fill="#5b5b5b"/>
<ellipse cx="121" cy="178" rx="6" ry="4" transform="rotate(-55 121 178)" fill="#505050"/>
<ellipse cx="103" cy="167" rx="6" ry="4" transform="rotate(-55 103 167)" fill="#3c3c3c"/>
<ellipse cx="110" cy="220" rx="6" ry="4" transform="rotate(-55 110 220)" fill="#505050"/>
<ellipse cx="146" cy="243" rx="6" ry="4" transform="rotate(-55 146 243)" fill="#4b4b4b"/>
<ellipse cx="128" cy="232" rx="6" ry="4" transform="rotate(-55 128 232)" fill="#3c3c3c"/>
<ellipse cx="135" cy="285" rx="6" ry="4" transform="rotate(-55 135 285)" fill="#505050"/>
<ellipse cx="171" cy="308" rx="6" ry="4" transform="rotate(-55 171 308)" fill="#545454"/>
<ellipse cx="153" cy="297" rx="6" ry="4" transform="rotate(-55 153 297)" fill="#343434"/>
<ellipse cx="160" cy="350" rx="6" ry="4" transform="rotate(-55 160 350)" fill="#636363"/>
<ellipse cx="196" cy="373" rx="6" ry="4" transform="rotate(-55 196 373)" fill="#444444"/>
<ellipse cx="178" cy="362" rx="6" ry="4" transform="rotate(-55 178 362)" fill="#3d3d3d"/>
<ellipse cx="131" cy="63" rx="6" ry="4" transform="rotate(-55 131 63)" fill="#5c5c5c"/>
<ellipse cx="113" cy="52" rx="6" ry="4" transform="rotate(-55 113 52)" fill="#2a2a2a"/>
<ellipse cx="120" cy="105" rx="6" ry="4" transform="rotate(-55 120 105)" fill="#515151"/>
<ellipse cx="156" cy="128" rx="6" ry="4" transform="rotate(-55 156 128)" fill="#5c5c5c"/>
<ellipse cx="138" cy="116" rx="6" ry="4" transform="rotate(-55 138 116)" fill="#3a3a3a"/>
<ellipse cx="145" cy="169" rx="6" ry="4" transform="rotate(-55 145 169)" fill="#4d4d4d"/>
<ellipse cx="181" cy="192" rx="6" ry="4" transform="rotate(-55 181 192)" fill="#4d4d4d"/>
<ellipse cx="163" cy="181" rx="6" ry="4" transform="rotate(-55 163 181)" fill="#404040"/>
<ellipse cx="170" cy="234" rx="6" ry="4" transform="rotate(-55 170 234)" fill="#4c4c4c"/>
<ellipse cx="206" cy="257" rx="6" ry="4" transform="rotate(-55 206 257)" fill="#4c4c4c"/>
<ellipse cx="189" cy="246" rx="6" ry="4" transform="rotate(-55 189 246)" fill="#373737"/>
<ellipse cx="195" cy="299" rx="6" ry="4" transform="rotate(-55 195 299)" fill="#5f5f5f"/>
<ellipse cx="231" cy="322" rx="6" ry="4" transform="rotate(-55 231 322)" fill="#5b5b5b"/>
<ellipse cx="214" cy="311" rx="6" ry="4" transform="rotate(-55 214 311)" fill="#343434"/>
<ellipse cx="220" cy="364" rx="6" ry="4" transform="rotate(-55 220 364)" fill="#626262"/>
<ellipse cx="239" cy="376" rx="6" ry="4" transform="rotate(-55 239 376)" fill="#353535"/>
<ellipse cx="155" cy="54" rx="6" ry="4" transform="rotate(-55 155 54)" fill="#585858"/>
<ellipse cx="191" cy="77" rx="6" ry="4" transform="rotate(-55 191 77)" fill="#5b5b5b"/>
<ellipse cx="174" cy="66" rx="6" ry="4" transform="rotate(-55 174 66)" fill="#3a3a3a"/>
<ellipse cx="180" cy="118" rx="6" ry="4" transform="rotate(-55 180 118)" fill="#5a5a5a"/>
<ellipse cx="216" cy="141" rx="6" ry="4" transform="rotate(-55 216 141)" fill="#484848"/>
<ellipse cx="199" cy="130" rx="6" ry="4" transform="rotate(-55 199 130)" fill="#333333"/>
<ellipse cx="205" cy="183" rx="6" ry="4" transform="rotate(-55 205 183)" fill="#4f4f4f"/>
<ellipse cx="241" cy="206" rx="6" ry="4" transform="rotate(-55 241 206)" fill="#454545"/>
<ellipse cx="224" cy="195" rx="6" ry="4" transform="rotate(-55 224 195)" fill="#2c2c2c"/>
<ellipse cx="231" cy="248" rx="6" ry="4" transform="rotate(-55 231 248)" fill="#5b5b5b"/>
<ellipse cx="266" cy="271" rx="6" ry="4" transform="rotate(-55 266 271)" fill="#4a4a4a"/>
<ellipse cx="249" cy="260" rx="6" ry="4" transform="rotate(-55 249 260)" fill="#303030"/>
<ellipse cx="256" cy="313" rx="6" ry="4" transform="rotate(-55 256 313)" fill="#616161"/>
<ellipse cx="292" cy="336" rx="6" ry="4" transform="rotate(-55 292 336)" fill="#515151"/>
<ellipse cx="274" cy="325" rx="6" ry="4" transform="rotate(-55 274 325)" fill="#404040"/>
<ellipse cx="281" cy="378" rx="6" ry="4" transform="rotate(-55 281 378)" fill="#606060"/>
<ellipse cx="216" cy="68" rx="6" ry="4" transform="rotate(-55 216 68)" fill="#555555"/>
<ellipse cx="252" cy="91" rx="6" ry="4" transform="rotate(-55 252 91)" fill="#515151"/>
<ellipse cx="234" cy="79" rx="6" ry="4" transform="rotate(-55 234 79)" fill="#383838"/>
<ellipse cx="241" cy="132" rx="6" ry="4" transform="rotate(-55 241 132)" fill="#585858"/>
<ellipse cx="277" cy="155" rx="6" ry="4" transform="rotate(-55 277 155)" fill="#565656"/>
<ellipse cx="259" cy="144" rx="6" ry="4" transform="rotate(-55 259 144)" fill="#333333"/>
<ellipse cx="266" cy="197" rx="6" ry="4" transform="rotate(-55 266 197)" fill="#5d5d5d"/>
<ellipse cx="302" cy="220" rx="6" ry="4" transform="rotate(-55 302 220)" fill="#565656"/>
<ellipse cx="284" cy="209" rx="6" ry="4" transform="rotate(-55 284 209)" fill="#353535"/>
<ellipse cx="291" cy="262" rx="6" ry="4" transform="rotate(-55 291 262)" fill="#5e5e5e"/>
<ellipse cx="327" cy="285" rx="6" ry="4" transform="rotate(-55 327 285)" fill="#4b4b4b"/>
<ellipse cx="309" cy="274" rx="6" ry="4" transform="rotate(-55 309 274)" fill="#323232"/>
<ellipse cx="316" cy="327" rx="6" ry="4" transform="rotate(-55 316 327)" fill="#616161"/>
<ellipse cx="352" cy="350" rx="6" ry="4" transform="rotate(-55 352 350)" fill="#444444"/>
<ellipse cx="334" cy="339" rx="6" ry="4" transform="rotate(-55 334 339)" fill="#303030"/>
<ellipse cx="276" cy="81" rx="6" ry="4" transform="rotate(-55 276 81)" fill="#5f5f5f"/>
<ellipse cx="312" cy="104" rx="6" ry="4" transform="rotate(-55 312 104)" fill="#595959"/>
<ellipse cx="294" cy="93" rx="6" ry="4" transform="rotate(-55 294 93)" fill="#3e3e3e"/>
<ellipse cx="301" cy="146" rx="6" ry="4" transform="rotate(-55 301 146)" fill="#515151"/>
<ellipse cx="337" cy="169" rx="6" ry="4" transform="rotate(-55 337 169)" fill="#5a5a5a"/>
<ellipse cx="320" cy="158" rx="6" ry="4" transform="rotate(-55 320 158)" fill="#323232"/>
<ellipse cx="326" cy="211" rx="6" ry="4" transform="rotate(-55 326 211)" fill="#5d5d5d"/>
<ellipse cx="345" cy="223" rx="6" ry="4" transform="rotate(-55 345 223)" fill="#3a3a3a"/>
<ellipse cx="351" cy="276" rx="6" ry="4" transform="rotate(-55 351 276)" fill="#5e5e5e"/>
<ellipse cx="347" cy="54" rx="6" ry="4" transform="rotate(-55 347 54)" fill="#474747"/>
<ellipse cx="336" cy="95" rx="6" ry="4" transform="rotate(-55 336 95)" fill="#626262"/>
<ellipse cx="355" cy="107" rx="6" ry="4" transform="rotate(-55 355 107)" fill="#3c3c3c"/>
<ellipse cx="362" cy="160" rx="6" ry="4" transform="rotate(-55 362 160)" fill="#525252"/>
</g><g filter="url(#bl4)">
<ellipse cx="39" cy="359" rx="10" ry="7" transform="rotate(-58 39 359)" fill="#3a3a3a"/>
<ellipse cx="49" cy="243" rx="10" ry="7" transform="rotate(-58 49 243)" fill="#3a3a3a"/>
<ellipse cx="74" cy="308" rx="10" ry="7" transform="rotate(-58 74 308)" fill="#3a3a3a"/>
<ellipse cx="99" cy="373" rx="10" ry="7" transform="rotate(-58 99 373)" fill="#3a3a3a"/>
<ellipse cx="34" cy="63" rx="10" ry="7" transform="rotate(-58 34 63)" fill="#3a3a3a"/>
<ellipse cx="59" cy="128" rx="10" ry="7" transform="rotate(-58 59 128)" fill="#3a3a3a"/>
<ellipse cx="84" cy="192" rx="10" ry="7" transform="rotate(-58 84 192)" fill="#3a3a3a"/>
<ellipse cx="109" cy="257" rx="10" ry="7" transform="rotate(-58 109 257)" fill="#3a3a3a"/>
<ellipse cx="134" cy="322" rx="10" ry="7" transform="rotate(-58 134 322)" fill="#3a3a3a"/>
<ellipse cx="94" cy="77" rx="10" ry="7" transform="rotate(-58 94 77)" fill="#3a3a3a"/>
<ellipse cx="120" cy="142" rx="10" ry="7" transform="rotate(-58 120 142)" fill="#3a3a3a"/>
<ellipse cx="145" cy="206" rx="10" ry="7" transform="rotate(-58 145 206)" fill="#3a3a3a"/>
<ellipse cx="170" cy="271" rx="10" ry="7" transform="rotate(-58 170 271)" fill="#3a3a3a"/>
<ellipse cx="195" cy="336" rx="10" ry="7" transform="rotate(-58 195 336)" fill="#3a3a3a"/>
<ellipse cx="155" cy="91" rx="10" ry="7" transform="rotate(-58 155 91)" fill="#3a3a3a"/>
<ellipse cx="180" cy="156" rx="10" ry="7" transform="rotate(-58 180 156)" fill="#3a3a3a"/>
<ellipse cx="205" cy="220" rx="10" ry="7" transform="rotate(-58 205 220)" fill="#3a3a3a"/>
<ellipse cx="230" cy="285" rx="10" ry="7" transform="rotate(-58 230 285)" fill="#3a3a3a"/>
<ellipse cx="255" cy="350" rx="10" ry="7" transform="rotate(-58 255 350)" fill="#3a3a3a"/>
<ellipse cx="215" cy="105" rx="10" ry="7" transform="rotate(-58 215 105)" fill="#3a3a3a"/>
<ellipse cx="240" cy="169" rx="10" ry="7" transform="rotate(-58 240 169)" fill="#3a3a3a"/>
<ellipse cx="265" cy="234" rx="10" ry="7" transform="rotate(-58 265 234)" fill="#3a3a3a"/>
<ellipse cx="290" cy="299" rx="10" ry="7" transform="rotate(-58 290 299)" fill="#3a3a3a"/>
<ellipse cx="316" cy="364" rx="10" ry="7" transform="rotate(-58 316 364)" fill="#3a3a3a"/>
<ellipse cx="251" cy="54" rx="10" ry="7" transform="rotate(-58 251 54)" fill="#3a3a3a"/>
<ellipse cx="276" cy="118" rx="10" ry="7" transform="rotate(-58 276 118)" fill="#3a3a3a"/>
<ellipse cx="301" cy="183" rx="10" ry="7" transform="rotate(-58 301 183)" fill="#3a3a3a"/>
<ellipse cx="326" cy="248" rx="10" ry="7" transform="rotate(-58 326 248)" fill="#3a3a3a"/>
<ellipse cx="351" cy="313" rx="10" ry="7" transform="rotate(-58 351 313)" fill="#3a3a3a"/>
<ellipse cx="311" cy="68" rx="10" ry="7" transform="rotate(-58 311 68)" fill="#3a3a3a"/>
<ellipse cx="336" cy="132" rx="10" ry="7" transform="rotate(-58 336 132)" fill="#3a3a3a"/>
<ellipse cx="361" cy="197" rx="10" ry="7" transform="rotate(-58 361 197)" fill="#3a3a3a"/>
</g><g filter="url(#bl2)">
<ellipse cx="39" cy="359" rx="8" ry="5.5" transform="rotate(-58 39 359)" fill="#fff"/>
<ellipse cx="49" cy="243" rx="8" ry="5.5" transform="rotate(-58 49 243)" fill="#fff"/>
<ellipse cx="74" cy="308" rx="8" ry="5.5" transform="rotate(-58 74 308)" fill="#fff"/>
<ellipse cx="99" cy="373" rx="8" ry="5.5" transform="rotate(-58 99 373)" fill="#fff"/>
<ellipse cx="34" cy="63" rx="8" ry="5.5" transform="rotate(-58 34 63)" fill="#fff"/>
<ellipse cx="59" cy="128" rx="8" ry="5.5" transform="rotate(-58 59 128)" fill="#fff"/>
<ellipse cx="84" cy="192" rx="8" ry="5.5" transform="rotate(-58 84 192)" fill="#fff"/>
<ellipse cx="109" cy="257" rx="8" ry="5.5" transform="rotate(-58 109 257)" fill="#fff"/>
<ellipse cx="134" cy="322" rx="8" ry="5.5" transform="rotate(-58 134 322)" fill="#fff"/>
<ellipse cx="94" cy="77" rx="8" ry="5.5" transform="rotate(-58 94 77)" fill="#fff"/>
<ellipse cx="120" cy="142" rx="8" ry="5.5" transform="rotate(-58 120 142)" fill="#fff"/>
<ellipse cx="145" cy="206" rx="8" ry="5.5" transform="rotate(-58 145 206)" fill="#fff"/>
<ellipse cx="170" cy="271" rx="8" ry="5.5" transform="rotate(-58 170 271)" fill="#fff"/>
<ellipse cx="195" cy="336" rx="8" ry="5.5" transform="rotate(-58 195 336)" fill="#fff"/>
<ellipse cx="155" cy="91" rx="8" ry="5.5" transform="rotate(-58 155 91)" fill="#fff"/>
<ellipse cx="180" cy="156" rx="8" ry="5.5" transform="rotate(-58 180 156)" fill="#fff"/>
<ellipse cx="205" cy="220" rx="8" ry="5.5" transform="rotate(-58 205 220)" fill="#fff"/>
<ellipse cx="230" cy="285" rx="8" ry="5.5" transform="rotate(-58 230 285)" fill="#fff"/>
<ellipse cx="255" cy="350" rx="8" ry="5.5" transform="rotate(-58 255 350)" fill="#fff"/>
<ellipse cx="215" cy="105" rx="8" ry="5.5" transform="rotate(-58 215 105)" fill="#fff"/>
<ellipse cx="240" cy="169" rx="8" ry="5.5" transform="rotate(-58 240 169)" fill="#fff"/>
<ellipse cx="265" cy="234" rx="8" ry="5.5" transform="rotate(-58 265 234)" fill="#fff"/>
<ellipse cx="290" cy="299" rx="8" ry="5.5" transform="rotate(-58 290 299)" fill="#fff"/>
<ellipse cx="316" cy="364" rx="8" ry="5.5" transform="rotate(-58 316 364)" fill="#fff"/>
<ellipse cx="251" cy="54" rx="8" ry="5.5" transform="rotate(-58 251 54)" fill="#fff"/>
<ellipse cx="276" cy="118" rx="8" ry="5.5" transform="rotate(-58 276 118)" fill="#fff"/>
<ellipse cx="301" cy="183" rx="8" ry="5.5" transform="rotate(-58 301 183)" fill="#fff"/>
<ellipse cx="326" cy="248" rx="8" ry="5.5" transform="rotate(-58 326 248)" fill="#fff"/>
<ellipse cx="351" cy="313" rx="8" ry="5.5" transform="rotate(-58 351 313)" fill="#fff"/>
<ellipse cx="311" cy="68" rx="8" ry="5.5" transform="rotate(-58 311 68)" fill="#fff"/>
<ellipse cx="336" cy="132" rx="8" ry="5.5" transform="rotate(-58 336 132)" fill="#fff"/>
<ellipse cx="361" cy="197" rx="8" ry="5.5" transform="rotate(-58 361 197)" fill="#fff"/>
</g></g>
<clipPath id="ci2"><rect x="380" y="56" width="313" height="315"/></clipPath>
<linearGradient id="fade2" x1="0" y1="0" x2="0" y2="1"><stop offset="0" stop-color="#000"/><stop offset="0.08" stop-color="#000" stop-opacity="0.8"/><stop offset="0.2" stop-color="#000" stop-opacity="0.3"/><stop offset="0.32" stop-color="#000" stop-opacity="0"/></linearGradient>
<g clip-path="url(#ci2)"><rect x="380" y="56" width="313" height="315" fill="#191919"/>
<g filter="url(#bl3)">
<circle cx="372" cy="329" r="5" fill="#505050"/>
<circle cx="374" cy="158" r="5" fill="#535353"/>
<circle cx="394" cy="215" r="5" fill="#585858"/>
<circle cx="373" cy="244" r="5" fill="#484848"/>
<circle cx="414" cy="273" r="5" fill="#565656"/>
<circle cx="393" cy="301" r="5" fill="#4f4f4f"/>
<circle cx="434" cy="330" r="5" fill="#494949"/>
<circle cx="413" cy="359" r="5" fill="#4d4d4d"/>
<circle cx="397" cy="44" r="5" fill="#4b4b4b"/>
<circle cx="376" cy="72" r="5" fill="#535353"/>
<circle cx="417" cy="102" r="5" fill="#575757"/>
<circle cx="396" cy="130" r="5" fill="#4f4f4f"/>
<circle cx="437" cy="159" r="5" fill="#545454"/>
<circle cx="416" cy="187" r="5" fill="#4b4b4b"/>
<circle cx="457" cy="217" r="5" fill="#4f4f4f"/>
<circle cx="436" cy="245" r="5" fill="#484848"/>
<circle cx="477" cy="274" r="5" fill="#4e4e4e"/>
<circle cx="456" cy="302" r="5" fill="#555555"/>
<circle cx="497" cy="332" r="5" fill="#505050"/>
<circle cx="476" cy="360" r="5" fill="#4d4d4d"/>
<circle cx="459" cy="45" r="5" fill="#545454"/>
<circle cx="438" cy="73" r="5" fill="#4d4d4d"/>
<circle cx="479" cy="103" r="5" fill="#4a4a4a"/>
<circle cx="458" cy="131" r="5" fill="#4c4c4c"/>
<circle cx="499" cy="160" r="5" fill="#565656"/>
<circle cx="478" cy="188" r="5" fill="#4c4c4c"/>
<circle cx="519" cy="218" r="5" fill="#4c4c4c"/>
<circle cx="498" cy="246" r="5" fill="#484848"/>
<circle cx="539" cy="275" r="5" fill="#484848"/>
<circle cx="518" cy="303" r="5" fill="#4e4e4e"/>
<circle cx="559" cy="333" r="5" fill="#4e4e4e"/>
<circle cx="538" cy="361" r="5" fill="#4d4d4d"/>
<circle cx="521" cy="46" r="5" fill="#4d4d4d"/>
<circle cx="500" cy="75" r="5" fill="#515151"/>
<circle cx="541" cy="104" r="5" fill="#525252"/>
<circle cx="520" cy="132" r="5" fill="#4e4e4e"/>
<circle cx="561" cy="162" r="5" fill="#4e4e4e"/>
<circle cx="540" cy="190" r="5" fill="#4d4d4d"/>
<circle cx="581" cy="219" r="5" fill="#4e4e4e"/>
<circle cx="560" cy="247" r="5" fill="#545454"/>
<circle cx="601" cy="276" r="5" fill="#515151"/>
<circle cx="580" cy="305" r="5" fill="#484848"/>
<circle cx="621" cy="334" r="5" fill="#535353"/>
<circle cx="600" cy="362" r="5" fill="#555555"/>
<circle cx="584" cy="48" r="5" fill="#4d4d4d"/>
<circle cx="562" cy="76" r="5" fill="#4c4c4c"/>
<circle cx="604" cy="105" r="5" fill="#505050"/>
<circle cx="582" cy="133" r="5" fill="#4a4a4a"/>
<circle cx="624" cy="163" r="5" fill="#525252"/>
<circle cx="602" cy="191" r="5" fill="#515151"/>
<circle cx="644" cy="220" r="5" fill="#484848"/>
<circle cx="622" cy="248" r="5" fill="#525252"/>
<circle cx="664" cy="278" r="5" fill="#4a4a4a"/>
<circle cx="642" cy="306" r="5" fill="#515151"/>
<circle cx="684" cy="335" r="5" fill="#535353"/>
<circle cx="662" cy="363" r="5" fill="#515151"/>
<circle cx="646" cy="49" r="5" fill="#575757"/>
<circle cx="625" cy="77" r="5" fill="#525252"/>
<circle cx="666" cy="106" r="5" fill="#4d4d4d"/>
<circle cx="645" cy="135" r="5" fill="#575757"/>
<circle cx="686" cy="164" r="5" fill="#575757"/>
<circle cx="665" cy="192" r="5" fill="#4d4d4d"/>
<circle cx="685" cy="250" r="5" fill="#494949"/>
<circle cx="705" cy="307" r="5" fill="#505050"/>
<circle cx="687" cy="78" r="5" fill="#484848"/>
<circle cx="376" cy="310" r="6" fill="#878787"/>
<circle cx="368" cy="348" r="6" fill="#808080"/>
<circle cx="396" cy="368" r="6" fill="#747474"/>
<circle cx="378" cy="139" r="6" fill="#848484"/>
<circle cx="371" cy="177" r="6" fill="#757575"/>
<circle cx="398" cy="196" r="6" fill="#696969"/>
<circle cx="391" cy="234" r="6" fill="#7a7a7a"/>
<circle cx="418" cy="254" r="6" fill="#828282"/>
<circle cx="411" cy="292" r="6" fill="#767676"/>
<circle cx="438" cy="311" r="6" fill="#747474"/>
<circle cx="431" cy="349" r="6" fill="#757575"/>
<circle cx="458" cy="369" r="6" fill="#7b7b7b"/>
<circle cx="393" cy="63" r="6" fill="#838383"/>
<circle cx="420" cy="83" r="6" fill="#696969"/>
<circle cx="413" cy="121" r="6" fill="#777777"/>
<circle cx="440" cy="140" r="6" fill="#6a6a6a"/>
<circle cx="433" cy="178" r="6" fill="#7f7f7f"/>
<circle cx="460" cy="198" r="6" fill="#6e6e6e"/>
<circle cx="453" cy="236" r="6" fill="#7c7c7c"/>
<circle cx="480" cy="255" r="6" fill="#878787"/>
<circle cx="473" cy="293" r="6" fill="#878787"/>
<circle cx="500" cy="313" r="6" fill="#6f6f6f"/>
<circle cx="493" cy="351" r="6" fill="#6c6c6c"/>
<circle cx="520" cy="370" r="6" fill="#818181"/>
<circle cx="455" cy="64" r="6" fill="#707070"/>
<circle cx="483" cy="84" r="6" fill="#868686"/>
<circle cx="475" cy="122" r="6" fill="#838383"/>
<circle cx="503" cy="141" r="6" fill="#878787"/>
<circle cx="495" cy="179" r="6" fill="#777777"/>
<circle cx="523" cy="199" r="6" fill="#747474"/>
<circle cx="515" cy="237" r="6" fill="#797979"/>
<circle cx="543" cy="256" r="6" fill="#747474"/>
<circle cx="535" cy="294" r="6" fill="#858585"/>
<circle cx="563" cy="314" r="6" fill="#797979"/>
<circle cx="555" cy="352" r="6" fill="#717171"/>
<circle cx="583" cy="371" r="6" fill="#818181"/>
<circle cx="518" cy="65" r="6" fill="#777777"/>
<circle cx="545" cy="85" r="6" fill="#6c6c6c"/>
<circle cx="538" cy="123" r="6" fill="#7b7b7b"/>
<circle cx="565" cy="143" r="6" fill="#808080"/>
<circle cx="558" cy="180" r="6" fill="#818181"/>
<circle cx="585" cy="200" r="6" fill="#828282"/>
<circle cx="578" cy="238" r="6" fill="#747474"/>
<circle cx="605" cy="258" r="6" fill="#848484"/>
<circle cx="598" cy="295" r="6" fill="#727272"/>
<circle cx="625" cy="315" r="6" fill="#6a6a6a"/>
<circle cx="618" cy="353" r="6" fill="#767676"/>
<circle cx="645" cy="373" r="6" fill="#878787"/>
<circle cx="580" cy="67" r="6" fill="#6b6b6b"/>
<circle cx="607" cy="86" r="6" fill="#6f6f6f"/>
<circle cx="600" cy="124" r="6" fill="#737373"/>
<circle cx="627" cy="144" r="6" fill="#797979"/>
<circle cx="620" cy="182" r="6" fill="#7c7c7c"/>
<circle cx="647" cy="201" r="6" fill="#747474"/>
<circle cx="640" cy="239" r="6" fill="#868686"/>
<circle cx="667" cy="259" r="6" fill="#6d6d6d"/>
<circle cx="660" cy="297" r="6" fill="#737373"/>
<circle cx="687" cy="316" r="6" fill="#717171"/>
<circle cx="680" cy="354" r="6" fill="#868686"/>
<circle cx="642" cy="68" r="6" fill="#7f7f7f"/>
<circle cx="670" cy="87" r="6" fill="#7a7a7a"/>
<circle cx="662" cy="125" r="6" fill="#6b6b6b"/>
<circle cx="690" cy="145" r="6" fill="#727272"/>
<circle cx="682" cy="183" r="6" fill="#7e7e7e"/>
<circle cx="702" cy="240" r="6" fill="#737373"/>
<circle cx="704" cy="69" r="6" fill="#727272"/>
</g><g filter="url(#bl4)">
<circle cx="383" cy="272" r="8" fill="#2c2c2c"/>
<circle cx="403" cy="330" r="8" fill="#2c2c2c"/>
<circle cx="366" cy="44" r="8" fill="#2c2c2c"/>
<circle cx="386" cy="101" r="8" fill="#2c2c2c"/>
<circle cx="406" cy="158" r="8" fill="#2c2c2c"/>
<circle cx="426" cy="216" r="8" fill="#2c2c2c"/>
<circle cx="446" cy="274" r="8" fill="#2c2c2c"/>
<circle cx="466" cy="331" r="8" fill="#2c2c2c"/>
<circle cx="428" cy="45" r="8" fill="#2c2c2c"/>
<circle cx="448" cy="102" r="8" fill="#2c2c2c"/>
<circle cx="468" cy="160" r="8" fill="#2c2c2c"/>
<circle cx="488" cy="217" r="8" fill="#2c2c2c"/>
<circle cx="508" cy="275" r="8" fill="#2c2c2c"/>
<circle cx="528" cy="332" r="8" fill="#2c2c2c"/>
<circle cx="490" cy="46" r="8" fill="#2c2c2c"/>
<circle cx="510" cy="103" r="8" fill="#2c2c2c"/>
<circle cx="530" cy="161" r="8" fill="#2c2c2c"/>
<circle cx="550" cy="218" r="8" fill="#2c2c2c"/>
<circle cx="570" cy="276" r="8" fill="#2c2c2c"/>
<circle cx="590" cy="333" r="8" fill="#2c2c2c"/>
<circle cx="552" cy="47" r="8" fill="#2c2c2c"/>
<circle cx="572" cy="105" r="8" fill="#2c2c2c"/>
<circle cx="592" cy="162" r="8" fill="#2c2c2c"/>
<circle cx="612" cy="220" r="8" fill="#2c2c2c"/>
<circle cx="632" cy="277" r="8" fill="#2c2c2c"/>
<circle cx="652" cy="335" r="8" fill="#2c2c2c"/>
<circle cx="615" cy="48" r="8" fill="#2c2c2c"/>
<circle cx="635" cy="106" r="8" fill="#2c2c2c"/>
<circle cx="655" cy="163" r="8" fill="#2c2c2c"/>
<circle cx="675" cy="221" r="8" fill="#2c2c2c"/>
<circle cx="695" cy="278" r="8" fill="#2c2c2c"/>
<circle cx="677" cy="50" r="8" fill="#2c2c2c"/>
<circle cx="697" cy="107" r="8" fill="#2c2c2c"/>
</g><g filter="url(#bl3)">
<circle cx="383" cy="272" r="4.8" fill="#f0f0f0"/>
<circle cx="403" cy="330" r="4.8" fill="#f0f0f0"/>
<circle cx="366" cy="44" r="4.8" fill="#f0f0f0"/>
<circle cx="386" cy="101" r="4.8" fill="#f0f0f0"/>
<circle cx="406" cy="158" r="4.8" fill="#f0f0f0"/>
<circle cx="426" cy="216" r="4.8" fill="#f0f0f0"/>
<circle cx="446" cy="274" r="4.8" fill="#f0f0f0"/>
<circle cx="466" cy="331" r="4.8" fill="#f0f0f0"/>
<circle cx="428" cy="45" r="4.8" fill="#f0f0f0"/>
<circle cx="448" cy="102" r="4.8" fill="#f0f0f0"/>
<circle cx="468" cy="160" r="4.8" fill="#f0f0f0"/>
<circle cx="488" cy="217" r="4.8" fill="#f0f0f0"/>
<circle cx="508" cy="275" r="4.8" fill="#f0f0f0"/>
<circle cx="528" cy="332" r="4.8" fill="#f0f0f0"/>
<circle cx="490" cy="46" r="4.8" fill="#f0f0f0"/>
<circle cx="510" cy="103" r="4.8" fill="#f0f0f0"/>
<circle cx="530" cy="161" r="4.8" fill="#f0f0f0"/>
<circle cx="550" cy="218" r="4.8" fill="#f0f0f0"/>
<circle cx="570" cy="276" r="4.8" fill="#f0f0f0"/>
<circle cx="590" cy="333" r="4.8" fill="#f0f0f0"/>
<circle cx="552" cy="47" r="4.8" fill="#f0f0f0"/>
<circle cx="572" cy="105" r="4.8" fill="#f0f0f0"/>
<circle cx="592" cy="162" r="4.8" fill="#f0f0f0"/>
<circle cx="612" cy="220" r="4.8" fill="#f0f0f0"/>
<circle cx="632" cy="277" r="4.8" fill="#f0f0f0"/>
<circle cx="652" cy="335" r="4.8" fill="#f0f0f0"/>
<circle cx="615" cy="48" r="4.8" fill="#f0f0f0"/>
<circle cx="635" cy="106" r="4.8" fill="#f0f0f0"/>
<circle cx="655" cy="163" r="4.8" fill="#f0f0f0"/>
<circle cx="675" cy="221" r="4.8" fill="#f0f0f0"/>
<circle cx="695" cy="278" r="4.8" fill="#f0f0f0"/>
<circle cx="677" cy="50" r="4.8" fill="#f0f0f0"/>
<circle cx="697" cy="107" r="4.8" fill="#f0f0f0"/>
</g>
<rect x="380" y="56" width="313" height="315" fill="url(#fade2)"/>
</g>
<circle cx="87.9" cy="226.8" r="6.3" fill="url(#agray)" stroke="#6d6d5e" stroke-width="0.6" stroke-dasharray="1 1"/><circle cx="87.9" cy="226.8" r="1.2" fill="#222"/><circle cx="111.8" cy="219.5" r="6.3" fill="url(#agray)" stroke="#6d6d5e" stroke-width="0.6" stroke-dasharray="1 1"/><circle cx="111.8" cy="219.5" r="1.2" fill="#222"/><circle cx="147" cy="246.6" r="6.3" fill="url(#agray)" stroke="#6d6d5e" stroke-width="0.6" stroke-dasharray="1 1"/><circle cx="147" cy="246.6" r="1.2" fill="#222"/><circle cx="74" cy="269" r="6.3" fill="url(#agray)" stroke="#6d6d5e" stroke-width="0.6" stroke-dasharray="1 1"/><circle cx="74" cy="269" r="1.2" fill="#222"/><circle cx="108.6" cy="296.5" r="6.3" fill="url(#agray)" stroke="#6d6d5e" stroke-width="0.6" stroke-dasharray="1 1"/><circle cx="108.6" cy="296.5" r="1.2" fill="#222"/><circle cx="133.5" cy="289" r="6.3" fill="url(#agray)" stroke="#6d6d5e" stroke-width="0.6" stroke-dasharray="1 1"/><circle cx="133.5" cy="289" r="1.2" fill="#222"/><circle cx="129.4" cy="233" r="5.6" fill="url(#ablue)"/><circle cx="80.5" cy="248" r="5.6" fill="url(#ablue)"/><circle cx="110.2" cy="258" r="5.6" fill="url(#ablue)"/><circle cx="140" cy="268.4" r="5.6" fill="url(#ablue)"/><circle cx="91" cy="283" r="5.6" fill="url(#ablue)"/><circle cx="74" cy="231" r="3.6" fill="url(#ared)"/><circle cx="125.6" cy="215.7" r="3.6" fill="url(#ared)"/><circle cx="104.8" cy="242" r="3.6" fill="url(#ared)"/><circle cx="134" cy="251" r="3.6" fill="url(#ared)"/><circle cx="86.3" cy="265" r="3.6" fill="url(#ared)"/><circle cx="114.4" cy="274" r="3.6" fill="url(#ared)"/><circle cx="147" cy="285" r="3.6" fill="url(#ared)"/><circle cx="94.9" cy="301" r="3.6" fill="url(#ared)"/>
<circle cx="478.6" cy="248.2" r="6.3" fill="url(#agray)" stroke="#6d6d5e" stroke-width="0.6" stroke-dasharray="1 1"/><circle cx="478.6" cy="248.2" r="1.2" fill="#222"/><circle cx="523" cy="239" r="6.3" fill="url(#agray)" stroke="#6d6d5e" stroke-width="0.6" stroke-dasharray="1 1"/><circle cx="523" cy="239" r="1.2" fill="#222"/><circle cx="542.8" cy="256.6" r="6.3" fill="url(#agray)" stroke="#6d6d5e" stroke-width="0.6" stroke-dasharray="1 1"/><circle cx="542.8" cy="256.6" r="1.2" fill="#222"/><circle cx="472.2" cy="294" r="6.3" fill="url(#agray)" stroke="#6d6d5e" stroke-width="0.6" stroke-dasharray="1 1"/><circle cx="472.2" cy="294" r="1.2" fill="#222"/><circle cx="536.5" cy="302.5" r="6.3" fill="url(#agray)" stroke="#6d6d5e" stroke-width="0.6" stroke-dasharray="1 1"/><circle cx="536.5" cy="302.5" r="1.2" fill="#222"/><circle cx="491.8" cy="312" r="6.3" fill="url(#agray)" stroke="#6d6d5e" stroke-width="0.6" stroke-dasharray="1 1"/><circle cx="491.8" cy="312" r="1.2" fill="#222"/><circle cx="500.9" cy="243.6" r="5.6" fill="url(#ablue)"/><circle cx="475.5" cy="271.4" r="5.6" fill="url(#ablue)"/><circle cx="507.2" cy="275.3" r="5.6" fill="url(#ablue)"/><circle cx="540" cy="279.8" r="5.6" fill="url(#ablue)"/><circle cx="514.5" cy="307" r="5.6" fill="url(#ablue)"/><circle cx="512.7" cy="229" r="3.6" fill="url(#ared)"/><circle cx="489" cy="257.8" r="3.6" fill="url(#ared)"/><circle cx="519" cy="263.2" r="3.6" fill="url(#ared)"/><circle cx="553.7" cy="266.9" r="3.6" fill="url(#ared)"/><circle cx="461.7" cy="283.8" r="3.6" fill="url(#ared)"/><circle cx="495.8" cy="288" r="3.6" fill="url(#ared)"/><circle cx="526" cy="292.8" r="3.6" fill="url(#ared)"/><circle cx="502.4" cy="322" r="3.6" fill="url(#ared)"/>
<text x="41.5" y="362.0" font-size="17" fill="#e6e6e6" text-anchor="start" font-weight="normal" >200 pm</text>
<line x1="42.4" y1="367" x2="66" y2="367" stroke="#ddd" stroke-width="1.5"/>
<text x="383.0" y="360.5" font-size="18.6" fill="#e6e6e6" text-anchor="start" font-weight="normal" >200 pm</text>
<line x1="383.4" y1="365.5" x2="408" y2="365.5" stroke="#ddd" stroke-width="1.5"/>
<clipPath id="csb"><rect x="39" y="376" width="157" height="156.5"/></clipPath>
<clipPath id="cxb"><polygon points="58,376 196,376 196,408 165,438 150,470 128,496 110,505 90,512 88,540 55,540 50,460 48,400"/></clipPath>
<pattern id="dotsB" width="5.2" height="5.2" patternUnits="userSpaceOnUse" patternTransform="rotate(20)"><circle cx="2.6" cy="2.6" r="1" fill="#f0f0f0"/></pattern>
<g clip-path="url(#csb)"><rect x="39" y="376" width="157" height="156.5" fill="#666"/>
<g filter="url(#bl4)">
<polygon points="30,370 62,370 50,400 47,470 52,540 30,540" fill="#404040"/>
<polygon points="30,370 64,370 48,398 30,420" fill="#1c1c1c"/>
<polygon points="160,470 200,460 200,540 150,540" fill="#8a8a8a"/>
<polygon points="58,376 196,376 196,408 165,438 150,470 128,496 110,505 90,512 88,540 55,540 50,460 48,400" fill="#747474"/>
<polygon points="120,376 196,376 196,420 140,440" fill="#8a8a8a"/>
</g>
<rect x="39" y="376" width="157" height="157" fill="url(#dotsB)" clip-path="url(#cxb)" opacity="0.35"/>
<g filter="url(#bl4)"><polygon points="200,403 166,436 152,468 126,497 150,506 180,500 200,492" fill="#2c2c2c"/><polygon points="150,508 200,494 200,540 140,540" fill="#7a7a7a"/></g>
</g>
<rect x="78.2" y="412.7" width="32" height="24.8" rx="4" fill="none" stroke="#fff" stroke-width="3"/>
<text x="70.0" y="464.0" font-size="23" fill="#fff" text-anchor="start" font-weight="bold" >Area B</text>
<text x="40.0" y="527.0" font-size="6.5" fill="#ddd" text-anchor="start" font-weight="normal" >2 nm</text>
<line x1="40" y1="530" x2="53" y2="530" stroke="#ddd" stroke-width="0.8"/>
<clipPath id="csa"><rect x="379.2" y="374.4" width="155.59999999999997" height="157.10000000000002"/></clipPath>
<clipPath id="cxa"><path d="M432,407 L498,417 Q514,421 510,437 L466,508 Q461,515 452,513 L392,494 Q381,490 387,482 Z"/></clipPath>
<pattern id="dotsA" width="4.6" height="4.6" patternUnits="userSpaceOnUse" patternTransform="rotate(-30)"><circle cx="2.3" cy="2.3" r="0.9" fill="#f4f4f4"/></pattern>
<pattern id="strA" width="4" height="4" patternUnits="userSpaceOnUse" patternTransform="rotate(50)"><rect width="1.3" height="4" fill="#e0e0e0"/></pattern>
<g clip-path="url(#csa)"><rect x="379.2" y="374.4" width="155.59999999999997" height="157.10000000000002" fill="#121212"/>
<g filter="url(#bl6)">
<polygon points="370,365 478,365 486,402 470,418 430,412 400,445 370,460" fill="#b0b0b0"/>
<polygon points="370,365 455,365 445,388 400,398 370,400" fill="#c4c4c4"/>
<polygon points="370,455 398,445 386,490 405,525 370,540" fill="#2a2a2a"/>
</g>
<g filter="url(#bl3)"><path d="M432,407 L498,417 Q514,421 510,437 L466,508 Q461,515 452,513 L392,494 Q381,490 387,482 Z" fill="#b2b2b2"/></g>
<rect x="379" y="374" width="156" height="158" fill="url(#dotsA)" clip-path="url(#cxa)" opacity="0.45"/>
<polygon points="379,390 470,380 475,410 440,420 400,470 379,480" fill="url(#strA)" opacity="0.15"/>
</g>
<rect x="448.3" y="434" width="19.7" height="15.7" rx="3.5" fill="none" stroke="#fff" stroke-width="3"/>
<text x="412.0" y="487.6" font-size="24" fill="#fff" text-anchor="start" font-weight="bold" >Area A</text>
<text x="380.0" y="527.0" font-size="6.5" fill="#ddd" text-anchor="start" font-weight="normal" >2 nm</text>
<line x1="380" y1="529.5" x2="392" y2="529.5" stroke="#ddd" stroke-width="0.8"/>
<g><rect x="196.5" y="376" width="156.0" height="156.5" fill="#000"/>
<path d="M267,463h0M320,392h0M211,502h0M204,529h0M298,472h0M200,459h0M227,414h0M277,476h0M300,448h0M351,531h0M307,426h0M259,508h0M345,508h0M230,518h0M348,438h0M294,497h0M314,395h0M225,463h0M227,490h0M297,395h0M248,423h0M211,467h0M331,405h0M337,503h0M227,491h0M228,524h0M290,442h0M203,526h0M289,422h0M308,388h0M284,509h0M241,519h0M286,397h0M335,528h0M304,467h0M305,526h0M247,531h0M282,491h0M311,486h0M336,512h0M319,510h0M350,513h0M257,491h0M265,507h0M274,472h0M302,408h0M337,479h0M338,513h0M287,426h0M274,506h0M307,524h0M224,447h0M349,447h0M202,512h0M307,465h0M319,380h0M234,399h0M298,502h0M307,405h0M251,485h0M292,494h0M319,517h0M341,489h0M267,474h0M256,465h0M320,523h0M324,476h0M230,516h0M247,518h0M282,496h0M202,502h0M321,404h0M319,399h0M277,489h0M304,523h0M344,390h0M284,425h0M328,516h0M329,527h0M275,471h0M347,457h0M321,464h0M261,525h0M239,450h0M264,503h0M271,426h0M293,520h0M318,381h0M232,483h0M252,473h0M279,402h0M295,476h0M329,472h0M233,491h0M337,426h0M334,398h0M309,417h0M338,527h0M275,494h0M303,406h0M277,465h0M350,520h0M207,524h0M200,485h0M321,486h0M275,529h0M237,518h0M317,503h0M336,513h0M316,495h0M309,388h0M296,473h0M343,480h0M299,465h0M257,531h0M305,495h0M201,472h0M237,439h0M228,435h0M236,517h0M276,526h0M351,476h0M209,469h0M204,521h0M258,516h0M205,530h0M209,517h0M271,527h0M278,522h0M270,528h0M268,408h0M279,396h0M300,447h0M279,531h0M311,414h0M335,498h0M284,468h0M314,406h0M348,518h0M263,473h0M281,388h0M302,462h0M255,451h0M250,492h0M294,496h0M254,478h0M248,462h0M339,443h0M212,512h0M210,464h0M304,421h0M253,489h0M216,487h0M339,522h0M265,501h0M335,415h0M320,461h0M333,420h0M277,461h0M346,478h0M207,461h0M220,492h0M278,495h0M250,527h0M274,460h0M307,518h0M325,480h0M322,506h0M345,476h0M307,501h0M350,435h0M229,443h0M347,386h0M215,477h0M287,517h0M234,488h0M224,494h0M282,503h0M238,514h0M250,462h0M272,411h0M343,501h0M279,457h0M350,479h0M199,450h0M320,487h0M237,511h0M296,530h0M198,504h0M324,390h0M270,525h0M262,519h0M245,425h0M253,483h0M325,478h0M256,487h0M284,448h0M350,501h0M292,422h0M281,423h0M258,480h0M228,490h0M343,464h0M249,505h0M307,405h0M326,469h0M316,504h0M249,441h0M259,485h0M319,479h0M298,393h0M276,499h0M337,462h0M294,408h0M235,466h0M248,521h0M218,517h0M284,464h0M338,530h0M242,516h0M286,505h0M282,389h0M225,529h0M321,380h0M238,465h0M220,525h0M304,494h0M272,531h0M329,440h0M285,517h0M336,490h0M275,438h0M305,458h0M208,518h0M300,511h0M285,517h0M344,377h0M244,427h0M335,503h0M252,467h0M202,516h0M274,521h0M270,409h0M340,516h0M224,513h0M229,475h0M333,385h0M331,487h0M305,522h0M307,407h0M234,480h0M255,479h0M288,412h0M340,480h0M204,470h0M236,501h0M241,494h0M240,462h0M336,530h0M269,493h0" stroke="#1cbc1c" stroke-width="2.2" stroke-linecap="round" opacity="0.75"/>
<rect x="198.5" y="376.5" width="10" height="8.5" rx="1.5" fill="#22e022"/><text x="200.0" y="383" font-size="5.5" fill="#fff">Fe</text>
<text x="197.5" y="528.5" font-size="6.5" fill="#ddd" text-anchor="start" font-weight="normal" >2 nm</text>
<line x1="197.5" y1="531.0" x2="210.5" y2="531.0" stroke="#ddd" stroke-width="0.8"/></g>
<g><rect x="534.8" y="374.4" width="158.70000000000005" height="157.10000000000002" fill="#000"/>
<path d="M587,399h0M638,387h0M620,432h0M545,454h0M542,443h0M547,389h0M602,504h0M555,410h0M626,437h0M670,420h0M558,394h0M584,502h0M564,466h0M636,433h0M622,385h0M545,407h0M642,442h0M585,466h0M607,422h0M574,464h0M618,511h0M650,420h0M601,493h0M560,451h0M542,479h0M656,464h0M673,424h0M645,468h0M627,446h0M610,478h0M545,484h0M665,420h0M596,479h0M539,447h0M562,394h0M545,495h0M556,414h0M597,511h0M548,445h0M622,512h0M579,440h0M592,513h0M686,399h0M563,411h0M572,451h0M628,416h0M536,440h0M594,463h0M617,471h0M642,384h0M597,437h0M552,474h0M546,386h0M569,401h0M589,384h0M536,399h0M552,432h0M540,511h0M632,398h0M575,429h0M593,394h0M609,450h0M549,391h0M589,416h0M666,400h0M539,523h0M619,398h0M621,380h0M577,432h0M562,495h0M619,496h0M587,410h0M571,456h0M592,380h0M540,419h0M576,483h0M686,445h0M685,432h0M570,411h0M567,407h0M667,450h0M638,499h0M549,478h0M653,450h0M564,498h0M588,500h0M688,437h0M599,522h0M649,402h0M556,399h0M559,504h0M591,460h0M556,378h0M604,511h0M665,408h0M575,421h0M573,466h0M576,440h0M556,517h0M591,446h0M627,516h0M602,518h0M614,458h0M618,378h0M605,404h0M536,499h0M563,449h0M649,462h0M587,456h0M623,497h0M552,462h0M575,418h0M657,454h0M624,493h0M679,444h0M632,454h0M616,483h0M607,458h0M611,521h0M683,416h0M667,397h0M555,444h0M547,413h0M547,479h0M560,486h0M639,398h0M570,523h0M598,451h0M561,442h0M617,428h0M566,425h0M649,378h0M623,444h0M539,427h0M634,455h0M546,528h0M552,417h0M542,496h0M578,395h0M602,517h0M664,416h0M559,518h0M625,484h0M550,384h0M644,441h0M547,521h0M635,500h0M549,508h0M546,509h0M607,428h0M578,395h0M618,412h0M553,400h0M544,407h0M585,423h0M655,420h0M614,403h0M590,378h0M575,378h0M651,461h0M565,449h0M682,392h0M664,442h0M613,505h0M597,454h0M590,504h0M647,474h0M599,429h0M544,396h0M547,490h0M576,401h0M549,506h0M580,413h0M582,447h0M560,445h0M577,525h0M574,525h0M584,431h0M536,435h0M610,453h0M567,454h0M537,416h0M550,437h0M542,379h0M583,412h0M628,457h0M653,477h0M597,426h0M690,399h0M649,475h0M543,505h0M558,457h0M615,505h0M627,514h0M643,483h0M572,380h0M557,431h0M552,505h0M623,473h0M634,481h0M612,376h0M615,458h0M639,386h0M651,415h0M547,417h0M650,407h0M613,435h0M611,481h0M656,471h0M637,387h0M559,415h0M652,423h0M625,377h0M545,417h0M641,483h0M642,421h0M617,447h0M609,394h0M676,406h0M539,447h0M606,417h0M569,522h0M569,466h0M558,457h0M685,396h0M664,454h0M572,515h0M612,379h0M536,452h0M606,422h0M558,429h0M585,506h0M536,492h0M667,394h0M677,420h0M594,436h0M592,442h0M579,383h0M552,505h0M581,521h0M575,417h0M616,405h0M594,524h0M649,383h0M651,445h0M654,475h0M581,383h0M681,395h0M610,429h0M582,490h0M689,416h0M639,422h0M623,437h0M562,400h0M568,516h0M614,410h0M606,397h0M566,389h0M589,390h0M573,415h0M625,513h0M653,439h0M601,457h0M595,428h0M546,418h0M687,395h0M615,473h0M671,409h0M578,414h0M598,445h0M673,379h0M541,485h0M676,449h0M628,375h0M597,519h0M688,414h0M553,399h0M618,481h0M637,494h0M607,461h0M542,497h0M572,518h0M637,423h0M556,414h0M636,484h0M553,386h0M618,466h0M597,410h0M630,377h0M583,447h0M674,449h0M573,414h0M584,379h0M614,480h0M602,415h0M571,381h0M589,441h0M643,406h0M615,407h0M688,424h0M664,411h0M571,493h0M582,523h0M613,404h0M571,440h0M559,436h0M569,526h0M558,383h0M545,436h0M682,426h0M565,521h0M653,380h0M640,434h0M594,427h0M562,376h0M580,430h0M686,395h0M687,408h0M592,503h0M665,442h0M544,449h0M594,518h0M566,432h0M676,380h0M600,501h0M656,382h0M541,385h0M680,415h0M589,418h0M577,487h0M585,418h0M536,493h0M572,449h0M596,414h0M603,452h0M681,404h0M631,426h0M586,432h0M658,388h0M567,492h0M575,385h0M541,461h0M587,527h0M577,388h0M551,453h0M647,445h0M572,440h0M633,480h0M640,394h0M668,421h0M625,433h0M651,406h0M575,413h0M560,513h0M626,426h0M615,411h0M610,502h0M542,421h0M554,405h0M682,433h0M672,445h0M577,496h0M684,392h0M629,472h0M570,433h0M558,407h0M576,468h0M638,407h0M538,426h0M642,404h0M585,407h0M660,460h0M546,391h0M598,461h0M636,390h0M561,483h0M600,419h0M584,523h0M585,463h0M592,440h0M593,406h0M650,407h0M537,515h0M602,503h0M599,512h0M608,401h0M538,461h0M550,472h0M594,454h0M559,419h0M617,519h0M553,451h0M567,395h0M611,384h0M681,436h0M665,400h0M659,410h0M599,507h0M666,404h0M570,437h0M617,435h0M555,414h0M542,463h0M654,381h0M667,394h0M630,461h0M634,423h0M602,466h0M603,478h0M606,443h0M539,471h0M613,412h0M608,403h0M610,392h0M556,442h0M550,444h0M616,382h0M636,388h0M616,384h0M615,434h0M685,397h0M566,528h0M679,401h0M546,430h0M654,400h0M676,418h0M664,398h0M614,518h0M568,416h0M615,425h0M542,404h0M561,521h0M562,497h0M554,458h0M636,431h0M673,462h0M627,512h0M552,529h0M634,437h0M661,416h0M592,494h0M605,403h0M652,383h0M664,415h0M628,478h0M585,376h0M541,399h0M632,442h0M616,514h0M556,411h0M638,379h0M536,430h0M552,431h0M571,466h0M628,407h0M634,449h0M557,521h0M574,399h0M551,474h0M599,416h0M538,475h0M624,430h0M637,444h0M575,516h0M543,458h0M599,412h0M545,496h0M538,461h0M683,397h0M567,470h0M615,475h0M663,402h0M584,422h0M543,513h0M537,506h0M653,448h0M652,446h0M571,392h0M572,381h0M588,492h0M647,417h0M623,443h0M659,457h0M577,475h0M687,409h0M674,378h0M577,412h0M653,426h0M674,426h0M573,516h0M635,483h0M609,506h0M604,488h0M625,423h0M569,472h0M548,517h0M558,380h0M553,519h0M590,397h0M540,382h0M644,474h0M645,490h0M546,467h0M593,502h0M546,510h0M553,407h0M553,381h0M635,503h0M635,420h0M551,391h0M654,407h0M586,441h0M539,415h0M580,486h0M593,425h0M541,439h0M604,495h0M590,485h0M620,409h0M671,389h0M664,402h0M536,407h0M536,452h0M613,499h0M565,452h0M590,504h0M577,522h0M580,409h0M645,453h0M553,474h0M548,498h0M645,497h0M634,431h0M599,437h0M675,389h0M675,379h0M568,416h0M677,453h0M595,513h0M572,447h0M619,492h0M654,476h0M590,426h0M560,506h0M640,490h0M562,443h0M657,465h0M556,447h0M674,412h0M566,422h0M560,400h0M575,426h0M618,400h0M587,405h0M552,525h0M552,435h0M651,443h0M567,474h0M553,407h0M597,381h0M598,498h0M644,453h0M635,447h0M558,469h0M599,490h0M678,442h0M626,492h0M602,411h0M636,446h0M585,473h0M551,440h0M634,414h0M602,446h0M633,439h0M564,477h0M658,436h0M542,460h0M561,497h0M552,465h0M621,487h0M616,475h0M666,456h0M600,522h0M569,482h0M597,494h0M555,528h0M592,384h0M579,437h0M538,440h0M602,484h0M591,417h0M571,490h0M570,500h0M597,408h0M556,496h0M609,463h0M571,525h0M591,474h0M609,421h0M622,395h0M666,430h0M669,417h0M595,415h0M603,404h0M536,487h0M580,413h0M583,450h0M603,474h0M639,432h0M545,504h0M558,504h0M635,378h0M538,523h0M639,414h0M552,398h0M572,496h0M590,399h0M562,514h0M631,497h0M567,483h0M619,490h0M605,512h0M623,416h0M572,397h0M613,384h0M609,398h0M613,453h0M620,509h0M537,506h0M609,463h0M595,440h0M636,474h0M540,470h0M588,528h0M616,451h0M676,381h0M648,472h0M589,509h0M593,449h0M618,495h0M569,443h0M602,461h0M665,421h0M666,438h0M615,418h0M638,498h0M588,425h0M583,466h0M635,497h0M542,487h0M675,460h0M544,422h0M537,405h0M639,498h0M632,473h0M645,468h0M643,408h0M640,446h0M655,391h0M564,381h0M639,433h0M624,415h0M583,441h0M586,442h0M544,463h0M542,394h0M663,465h0M680,445h0M538,435h0M600,391h0M637,408h0M560,378h0M537,481h0M555,525h0M550,510h0M556,378h0M649,413h0M651,404h0M544,495h0M650,388h0M634,485h0M608,520h0M576,525h0M648,377h0M538,476h0M664,388h0M585,489h0M562,509h0M612,385h0M593,465h0M605,480h0M559,499h0M593,475h0M634,440h0M596,497h0M625,421h0M545,526h0M588,469h0M630,423h0M603,513h0M595,482h0M662,419h0M536,416h0M602,466h0M542,505h0M625,418h0M590,389h0M623,499h0M567,492h0M682,412h0M631,481h0M609,407h0M576,492h0M660,447h0M550,500h0M657,412h0M627,515h0M674,456h0M610,467h0M565,405h0M564,484h0M593,463h0M599,456h0M559,382h0M692,433h0M552,474h0M659,400h0M629,429h0M617,379h0M541,529h0M672,451h0M625,416h0M658,441h0M576,381h0M567,403h0M549,383h0M623,510h0M608,522h0M678,385h0M630,437h0M555,524h0M576,463h0M641,436h0M606,400h0M571,381h0M576,430h0M667,383h0M545,398h0M642,422h0M628,493h0M552,426h0M576,395h0M611,402h0M573,398h0M642,377h0M648,406h0M541,519h0M570,520h0M558,445h0M551,519h0M607,428h0M665,449h0M634,398h0M571,384h0M648,461h0M558,510h0M578,439h0M560,417h0M667,427h0M562,452h0M586,515h0M554,527h0M545,514h0M641,408h0M611,420h0M576,407h0M551,420h0M676,384h0M650,421h0M662,428h0M558,376h0M666,457h0M565,443h0M679,409h0M625,397h0M564,495h0M647,406h0M548,389h0M631,452h0M579,407h0M632,485h0M663,466h0M567,386h0M651,439h0M649,384h0M663,427h0M613,378h0M678,449h0M672,417h0M565,504h0M593,401h0M594,468h0M537,456h0M606,455h0M555,486h0M586,486h0M596,492h0M545,511h0M616,458h0M620,379h0M687,410h0M564,391h0M575,502h0M541,390h0M645,406h0M539,468h0M626,457h0M646,391h0M543,394h0M613,453h0M580,394h0M599,397h0M629,509h0M559,464h0M653,401h0M597,441h0M667,457h0M598,521h0M658,428h0M573,427h0M544,456h0M575,441h0M635,432h0M619,386h0M604,454h0M539,397h0M674,381h0M636,417h0M642,418h0M621,519h0M633,414h0M617,443h0M685,420h0M584,476h0M555,468h0M578,448h0M619,398h0M555,396h0M582,438h0M581,413h0M550,460h0M625,476h0M567,486h0M608,460h0M632,448h0M584,413h0M571,455h0M596,466h0M538,430h0M671,412h0M623,452h0M580,529h0M582,495h0M561,386h0M672,444h0M546,436h0M605,489h0M553,410h0M560,428h0M591,480h0M632,507h0M664,456h0M655,449h0M679,395h0M672,376h0M656,466h0M625,440h0M631,434h0M607,446h0M649,421h0M597,462h0M596,425h0M614,444h0M565,423h0M559,465h0M627,389h0M680,426h0M686,407h0M603,517h0M537,383h0M624,453h0M617,456h0M643,436h0M592,468h0M591,522h0M642,457h0M551,433h0M599,462h0M626,512h0M605,472h0M692,429h0M619,502h0M563,425h0M616,393h0M675,441h0M560,420h0M616,454h0M565,404h0M635,469h0M636,382h0M600,498h0M584,483h0M536,423h0M668,466h0M640,406h0M614,461h0M577,476h0M626,439h0M555,400h0M655,392h0M551,402h0M618,503h0M632,501h0M546,377h0M657,425h0M648,430h0M562,417h0M551,516h0M627,430h0M606,435h0M544,514h0M605,472h0M575,382h0M585,515h0M664,423h0M574,436h0M648,410h0M584,511h0M612,498h0M574,402h0M592,404h0M688,420h0M624,393h0M619,435h0M599,386h0M555,503h0M591,413h0M566,419h0M573,381h0M640,428h0M560,485h0M550,417h0M667,395h0M605,505h0M662,400h0M591,487h0M595,524h0M568,523h0M615,411h0M607,396h0M647,416h0M593,414h0M631,408h0M673,394h0M616,460h0M578,495h0M596,477h0M625,424h0M597,389h0M564,507h0M586,478h0M553,463h0M592,453h0M582,386h0M585,411h0M556,487h0M580,438h0M557,418h0M540,481h0M640,430h0M600,478h0M645,414h0M668,430h0M634,404h0M554,517h0M651,486h0M542,382h0M561,406h0M583,434h0M542,424h0M636,403h0M667,464h0M648,415h0M604,482h0M590,376h0M581,382h0M543,413h0M553,498h0M569,517h0M653,389h0M645,436h0M580,389h0M684,441h0M634,446h0M544,484h0M603,455h0M681,395h0M655,382h0M577,460h0M621,414h0M545,431h0M600,407h0M584,397h0M647,479h0M573,413h0M617,444h0M682,430h0M583,513h0M558,463h0M588,502h0M622,493h0M562,479h0M630,447h0M554,420h0M592,407h0M545,419h0M567,484h0M606,393h0M587,448h0M593,401h0M547,377h0M549,487h0M553,451h0M604,405h0M621,377h0M638,414h0M574,397h0M540,496h0M667,421h0M565,474h0M562,497h0M587,404h0M665,425h0M594,461h0M594,504h0M573,382h0M625,473h0M613,453h0M560,422h0M627,388h0M644,401h0M550,382h0M605,405h0M649,376h0M659,441h0M580,478h0M616,441h0M589,443h0M640,504h0M677,401h0M582,444h0M624,429h0M566,389h0M587,447h0M663,385h0M642,470h0M582,464h0M637,422h0M590,513h0M540,405h0M642,445h0M549,478h0M594,465h0M601,458h0M624,437h0M554,403h0M553,509h0M576,390h0M619,414h0M612,461h0M571,464h0M554,455h0M628,388h0M600,387h0M605,509h0M622,486h0M654,393h0M552,504h0M597,402h0M657,397h0M657,384h0M573,433h0M538,468h0M569,422h0M647,441h0M562,491h0M589,494h0M555,433h0M649,382h0M630,391h0M622,500h0M554,519h0M642,415h0M566,445h0M667,466h0M554,379h0M553,500h0M565,461h0M581,482h0M595,398h0M673,459h0M644,501h0M589,399h0M614,511h0M661,381h0M564,502h0M642,436h0M610,400h0M668,436h0M548,426h0M570,514h0M628,382h0M562,431h0M609,465h0M597,430h0M537,465h0M588,379h0M543,398h0M641,418h0M579,453h0M577,464h0M624,495h0M635,474h0M593,419h0M583,494h0M652,454h0M635,430h0M622,438h0M545,428h0M611,432h0M574,412h0M591,396h0M537,510h0M607,444h0M625,422h0M562,386h0M583,423h0M650,461h0M683,428h0M548,403h0M592,496h0M603,510h0M546,451h0M677,418h0M576,379h0M562,417h0M646,409h0M598,406h0M630,509h0M637,406h0M630,388h0M589,397h0M565,459h0M680,408h0M587,492h0M637,438h0M642,428h0M545,440h0M543,473h0M588,452h0M629,415h0M608,378h0M632,488h0M587,390h0M560,398h0M656,389h0M663,441h0M620,467h0M623,477h0M630,427h0M652,415h0M647,494h0M657,423h0M607,419h0M556,377h0M610,477h0M657,432h0M691,411h0M654,389h0M540,396h0M545,453h0M623,404h0M683,432h0M559,403h0M561,380h0M658,413h0M635,429h0M661,447h0M587,516h0M553,489h0M546,476h0M599,509h0M545,463h0M600,518h0M571,414h0M577,443h0M572,407h0M655,475h0M570,464h0M560,509h0M672,417h0M580,427h0M612,514h0M561,481h0M629,446h0M627,512h0M569,512h0M592,496h0M671,404h0M582,379h0M553,527h0M537,517h0M559,490h0M551,402h0M643,389h0M589,518h0M573,498h0M644,381h0M615,411h0M603,392h0M539,529h0M585,512h0M555,451h0M557,442h0M564,482h0M559,490h0M614,393h0M591,452h0M680,430h0M570,525h0M579,403h0M577,386h0M543,454h0M600,462h0M593,377h0M644,477h0M621,461h0M598,425h0M601,526h0M596,435h0M600,398h0M576,470h0M595,413h0M567,393h0M678,383h0M645,426h0M637,461h0M585,526h0M536,491h0M670,455h0M573,473h0M652,434h0M647,436h0M618,470h0M642,425h0M634,460h0M571,470h0M577,516h0M610,487h0M618,449h0M570,397h0M618,457h0M663,412h0M563,503h0M608,475h0M672,382h0M596,504h0M664,394h0M560,414h0M552,431h0M662,456h0M607,389h0M645,445h0M611,499h0M655,399h0M642,432h0M617,412h0M594,428h0M596,378h0M567,464h0M545,403h0M648,418h0M587,413h0M667,390h0M635,509h0M567,441h0M660,471h0M594,382h0M605,432h0M647,421h0M600,476h0M663,430h0M596,465h0M681,405h0M594,479h0M587,386h0M654,434h0M618,452h0M540,467h0M608,447h0M667,440h0M610,513h0M605,452h0M616,503h0M641,490h0M599,382h0M642,461h0M554,410h0M548,502h0M552,389h0M654,463h0M544,481h0M647,450h0M544,483h0M601,466h0M672,398h0M588,456h0M537,529h0M579,416h0M585,415h0M670,462h0M616,441h0M544,423h0M670,415h0M567,383h0M620,433h0M609,451h0M627,432h0M661,406h0M544,424h0M619,439h0M624,426h0M579,499h0M581,486h0M662,467h0M607,520h0M606,512h0M545,443h0M636,383h0M671,387h0M629,403h0M661,453h0M641,480h0M582,408h0M667,398h0M680,407h0M552,390h0M601,478h0M576,516h0M643,399h0M545,483h0M542,505h0M582,411h0M627,425h0M624,399h0M679,426h0M668,399h0M597,381h0M595,475h0M571,460h0M550,447h0M650,442h0M642,393h0M666,394h0M581,429h0M653,452h0M682,390h0M612,509h0M629,459h0M550,397h0M578,514h0M668,411h0M681,380h0M590,522h0M639,383h0M588,445h0M575,491h0M564,498h0M583,386h0M623,390h0M622,498h0M629,447h0M541,455h0M551,476h0M556,465h0M591,434h0M640,401h0M562,521h0M588,506h0M673,450h0M559,390h0M674,394h0M614,459h0M554,448h0M562,458h0M615,432h0M567,438h0M568,395h0M573,511h0M614,514h0M538,522h0M612,498h0M625,482h0M572,492h0M560,416h0M541,436h0M617,421h0M675,388h0M626,412h0M629,497h0M647,385h0M574,468h0M633,483h0M663,428h0M663,447h0M680,377h0M683,439h0M600,389h0M574,489h0M642,399h0M590,397h0M567,409h0M588,527h0M611,453h0M654,474h0M567,472h0M550,487h0M591,401h0M653,396h0M628,443h0M672,422h0M684,393h0M575,505h0M572,406h0M608,412h0M613,516h0M643,486h0M597,497h0M599,389h0M638,505h0M589,468h0M537,451h0M538,393h0M663,440h0M631,446h0M588,409h0M591,506h0M633,421h0M550,417h0M646,444h0M639,501h0M555,481h0M542,503h0M565,418h0M686,432h0M571,513h0M598,453h0M691,405h0M666,401h0M618,375h0M563,522h0M607,501h0M575,430h0M552,461h0M671,455h0M595,519h0M548,472h0M605,524h0M592,478h0M635,434h0M618,480h0M678,453h0M593,527h0M545,505h0M643,462h0M606,492h0M653,381h0M587,397h0M558,467h0M626,383h0M597,491h0M636,419h0M655,421h0M621,441h0M595,525h0M647,483h0M579,401h0M626,503h0M660,429h0M558,455h0" stroke="#1cbc1c" stroke-width="2.2" stroke-linecap="round" opacity="0.75"/>
<rect x="536.8" y="374.9" width="10" height="8.5" rx="1.5" fill="#22e022"/><text x="538.3" y="381.4" font-size="5.5" fill="#fff">Fe</text>
<text x="535.8" y="527.5" font-size="6.5" fill="#ddd" text-anchor="start" font-weight="normal" >2 nm</text>
<line x1="535.8" y1="530.0" x2="548.8" y2="530.0" stroke="#ddd" stroke-width="0.8"/></g>
<line x1="268" y1="836.4" x2="317.5" y2="836.4" stroke="#f8998d" stroke-width="3.4" stroke-linecap="round"/>
<line x1="331" y1="869.5" x2="380" y2="869.5" stroke="#f8998d" stroke-width="3.4" stroke-linecap="round"/>
<line x1="455" y1="832" x2="505" y2="832" stroke="#f8998d" stroke-width="3.4" stroke-linecap="round"/>
<line x1="516.5" y1="805.5" x2="567" y2="805.5" stroke="#f8998d" stroke-width="3.4" stroke-linecap="round"/>
<line x1="641" y1="905" x2="692.6" y2="905" stroke="#f8998d" stroke-width="3.4" stroke-linecap="round"/>
<line x1="703.8" y1="973.4" x2="753.4" y2="973.4" stroke="#f8998d" stroke-width="3.4" stroke-linecap="round"/>
<line x1="828" y1="1024.4" x2="879.6" y2="1024.4" stroke="#f8998d" stroke-width="3.4" stroke-linecap="round"/>
<line x1="890.5" y1="1046.5" x2="941" y2="1046.5" stroke="#f8998d" stroke-width="3.4" stroke-linecap="round"/>
<line x1="256" y1="866.3" x2="268" y2="836.4" stroke="#f8998d" stroke-width="3.5" stroke-linecap="round" stroke-dasharray="0 7"/>
<line x1="317.5" y1="836.4" x2="331" y2="869.5" stroke="#f8998d" stroke-width="3.5" stroke-linecap="round" stroke-dasharray="0 7"/>
<line x1="505" y1="832" x2="516.5" y2="805.5" stroke="#f8998d" stroke-width="3.5" stroke-linecap="round" stroke-dasharray="0 7"/>
<line x1="692.6" y1="905" x2="703.8" y2="973.4" stroke="#f8998d" stroke-width="3.5" stroke-linecap="round" stroke-dasharray="0 7"/>
<line x1="879.6" y1="1024.4" x2="890.5" y2="1046.5" stroke="#f8998d" stroke-width="3.5" stroke-linecap="round" stroke-dasharray="0 7"/>
<path d="M380,869.5 C380,809.2 397.6,760.2 419.3,760.2 C439.0,760.2 455,792.4 455,832" fill="none" stroke="#f8998d" stroke-width="2.4"/>
<path d="M567,805.5 C567,739.4 582.2,685.7 601,685.7 C623.1,685.7 641,783.9 641,905" fill="none" stroke="#f8998d" stroke-width="2.4"/>
<path d="M753.4,973.4 C753.4,921.0 769.5,878.5 789.4,878.5 C810.7,878.5 828,943.9 828,1024.4" fill="none" stroke="#f8998d" stroke-width="2.4"/>
<line x1="204" y1="866.3" x2="256" y2="866.3" stroke="#4ec4ee" stroke-width="3.4" stroke-linecap="round"/>
<line x1="268" y1="825.3" x2="317.5" y2="825.3" stroke="#4ec4ee" stroke-width="3.4" stroke-linecap="round"/>
<line x1="331" y1="863.4" x2="380" y2="863.4" stroke="#4ec4ee" stroke-width="3.4" stroke-linecap="round"/>
<line x1="455" y1="818.3" x2="505" y2="818.3" stroke="#4ec4ee" stroke-width="3.4" stroke-linecap="round"/>
<line x1="516.5" y1="882.6" x2="567" y2="882.6" stroke="#4ec4ee" stroke-width="3.4" stroke-linecap="round"/>
<line x1="641" y1="891" x2="692.6" y2="891" stroke="#4ec4ee" stroke-width="3.4" stroke-linecap="round"/>
<line x1="703.8" y1="956" x2="753.4" y2="956" stroke="#4ec4ee" stroke-width="3.4" stroke-linecap="round"/>
<line x1="828" y1="1006" x2="879.6" y2="1006" stroke="#4ec4ee" stroke-width="3.4" stroke-linecap="round"/>
<line x1="890.5" y1="1028.4" x2="941" y2="1028.4" stroke="#4ec4ee" stroke-width="3.4" stroke-linecap="round"/>
<line x1="256" y1="866.3" x2="268" y2="825.3" stroke="#4ec4ee" stroke-width="3.5" stroke-linecap="round" stroke-dasharray="0 7"/>
<line x1="317.5" y1="825.3" x2="331" y2="863.4" stroke="#4ec4ee" stroke-width="3.5" stroke-linecap="round" stroke-dasharray="0 7"/>
<line x1="505" y1="818.3" x2="516.5" y2="882.6" stroke="#4ec4ee" stroke-width="3.5" stroke-linecap="round" stroke-dasharray="0 7"/>
<line x1="692.6" y1="891" x2="703.8" y2="956" stroke="#4ec4ee" stroke-width="3.5" stroke-linecap="round" stroke-dasharray="0 7"/>
<line x1="879.6" y1="1006" x2="890.5" y2="1028.4" stroke="#4ec4ee" stroke-width="3.5" stroke-linecap="round" stroke-dasharray="0 7"/>
<path d="M380,863.4 C380,795.7 397.6,740.7 419.3,740.7 C439.0,740.7 455,775.5 455,818.3" fill="none" stroke="#4ec4ee" stroke-width="2.4"/>
<path d="M567,882.6 C567,828.2 582.2,784 601,784 C623.1,784 641,831.9 641,891" fill="none" stroke="#4ec4ee" stroke-width="2.4"/>
<path d="M753.4,956 C753.4,902.3 769.5,858.8 789.4,858.8 C810.7,858.8 828,924.7 828,1006" fill="none" stroke="#4ec4ee" stroke-width="2.4"/>
<line x1="941" y1="1046.5" x2="953" y2="944.2" stroke="#f8998d" stroke-width="3.5" stroke-linecap="round" stroke-dasharray="0 7"/>
<line x1="941" y1="1028.4" x2="953" y2="944.2" stroke="#4ec4ee" stroke-width="3.5" stroke-linecap="round" stroke-dasharray="0 7"/>
<line x1="941" y1="1046.5" x2="953.5" y2="1040.5" stroke="#f8998d" stroke-width="3.5" stroke-linecap="round" stroke-dasharray="0 7"/>
<line x1="941" y1="1028.4" x2="954.5" y2="1000.5" stroke="#4ec4ee" stroke-width="3.5" stroke-linecap="round" stroke-dasharray="0 7"/>
<line x1="953" y1="944.2" x2="1001.7" y2="944.2" stroke="#4ec4ee" stroke-width="3.4" stroke-linecap="round"/>
<line x1="953" y1="944.2" x2="1001.7" y2="944.2" stroke="#f8998d" stroke-width="3.4" stroke-dasharray="3.4 3.4"/>
<line x1="954.5" y1="1000.5" x2="1001.7" y2="1000.5" stroke="#4ec4ee" stroke-width="3.4" stroke-linecap="round"/>
<line x1="953.5" y1="1040.5" x2="1001.7" y2="1040.5" stroke="#f8998d" stroke-width="3.4" stroke-linecap="round"/>
<line x1="717" y1="718.6" x2="766" y2="718.6" stroke="#f8998d" stroke-width="3.4"/>
<line x1="717" y1="750" x2="766" y2="750" stroke="#4ec4ee" stroke-width="3.4"/>
<text x="776.5" y="727.5" font-size="25" fill="#000" text-anchor="start" font-weight="normal" >ZnCr</text>
<text x="776.5" y="759.0" font-size="25" fill="#000" text-anchor="start" font-weight="normal" >Fe-ZnCr</text>
<text x="172.0" y="902.0" font-size="25" fill="#000" text-anchor="start" font-weight="normal" >CO(g)</text>
<text x="288.0" y="809.0" font-size="25" fill="#000" text-anchor="middle" font-weight="normal" >CO*</text>
<text x="292.0" y="907.0" font-size="25" fill="#000" text-anchor="start" font-weight="normal" >CO*+H*</text>
<text x="418.0" y="708.5" font-size="25" fill="#000" text-anchor="middle" font-weight="normal" >TS-1</text>
<text x="418.0" y="741.0" font-size="25" fill="#4ec4ee" text-anchor="middle" font-weight="normal" >1.72</text>
<text x="418.0" y="806.0" font-size="25" fill="#f8998d" text-anchor="middle" font-weight="normal" >1.53</text>
<text x="432.0" y="868.5" font-size="25" fill="#000" text-anchor="start" font-weight="normal" >CHO*</text>
<text x="488.0" y="915.0" font-size="25" fill="#000" text-anchor="start" font-weight="normal" >CHO*+H*</text>
<text x="594.0" y="673.0" font-size="25" fill="#000" text-anchor="middle" font-weight="normal" >TS-2</text>
<text x="610.0" y="724.0" font-size="25" fill="#f8998d" text-anchor="middle" font-weight="normal" >1.73</text>
<text x="602.0" y="832.0" font-size="25" fill="#4ec4ee" text-anchor="middle" font-weight="normal" >1.40</text>
<text x="614.0" y="944.5" font-size="25" fill="#000" text-anchor="start" font-weight="normal" >CH<tspan font-size="17" dy="6">2</tspan><tspan dy="-6">O*</tspan></text>
<text x="643.5" y="1008.0" font-size="25" fill="#000" text-anchor="start" font-weight="normal" >CH<tspan font-size="17" dy="6">2</tspan><tspan dy="-6">O*+H*</tspan></text>
<text x="791.0" y="839.5" font-size="25" fill="#000" text-anchor="middle" font-weight="normal" >TS-3</text>
<text x="821.5" y="868.5" font-size="25" fill="#4ec4ee" text-anchor="middle" font-weight="normal" >1.36</text>
<text x="845.0" y="929.5" font-size="25" fill="#f8998d" text-anchor="middle" font-weight="normal" >1.38</text>
<text x="781.4" y="1050.0" font-size="25" fill="#000" text-anchor="start" font-weight="normal" >CH<tspan font-size="17" dy="6">3</tspan><tspan dy="-6">O*</tspan></text>
<text x="859.5" y="1095.5" font-size="25" fill="#000" text-anchor="start" font-weight="normal" >CH<tspan font-size="17" dy="6">3</tspan><tspan dy="-6">O*+H*</tspan></text>
<text x="918.0" y="925.0" font-size="25" fill="#000" text-anchor="start" font-weight="normal" >CH<tspan font-size="17" dy="6">3</tspan><tspan dy="-6">OH (g)</tspan></text>
<text x="969.4" y="983.0" font-size="25" fill="#000" text-anchor="start" font-weight="normal" >CH<tspan font-size="17" dy="6">4</tspan><tspan dy="-6"> (g)+O*</tspan></text>
<text x="976.4" y="1031.5" font-size="25" fill="#000" text-anchor="start" font-weight="normal" >CH<tspan font-size="17" dy="6">4</tspan><tspan dy="-6"> (g)+O*</tspan></text>
</svg></body></html>
